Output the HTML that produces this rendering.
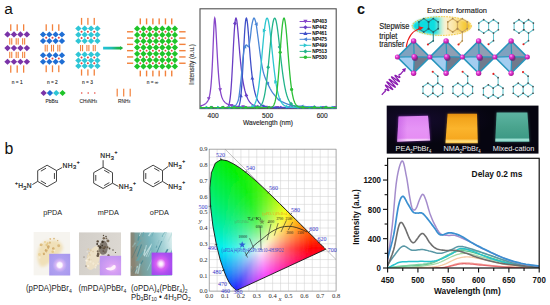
<!DOCTYPE html>
<html><head><meta charset="utf-8"><style>
html,body{margin:0;padding:0;background:#fff;}
body{width:550px;height:305px;overflow:hidden;position:relative;font-family:"Liberation Sans",sans-serif;}
svg{position:absolute;left:0;top:0;}
</style></head><body>
<svg width="550" height="305" viewBox="0 0 550 305">
<rect x="10.10" y="24.30" width="1.3" height="6.50" fill="#f3823c"/><rect x="16.55" y="24.30" width="1.3" height="6.50" fill="#f3823c"/><rect x="23.00" y="24.30" width="1.3" height="6.50" fill="#f3823c"/><path d="M4.30 34.40L7.53 31.34L10.75 34.40L7.53 37.46Z" fill="#7a33a8"/><path d="M10.75 34.40L13.98 31.34L17.20 34.40L13.98 37.46Z" fill="#7a33a8"/><path d="M17.20 34.40L20.43 31.34L23.65 34.40L20.43 37.46Z" fill="#7a33a8"/><path d="M23.65 34.40L26.88 31.34L30.10 34.40L26.88 37.46Z" fill="#7a33a8"/><path d="M4.30 48.10L7.53 45.04L10.75 48.10L7.53 51.16Z" fill="#7a33a8"/><path d="M10.75 48.10L13.98 45.04L17.20 48.10L13.98 51.16Z" fill="#7a33a8"/><path d="M17.20 48.10L20.43 45.04L23.65 48.10L20.43 51.16Z" fill="#7a33a8"/><path d="M23.65 48.10L26.88 45.04L30.10 48.10L26.88 51.16Z" fill="#7a33a8"/><path d="M4.30 61.70L7.53 58.64L10.75 61.70L7.53 64.76Z" fill="#7a33a8"/><path d="M10.75 61.70L13.98 58.64L17.20 61.70L13.98 64.76Z" fill="#7a33a8"/><path d="M17.20 61.70L20.43 58.64L23.65 61.70L20.43 64.76Z" fill="#7a33a8"/><path d="M23.65 61.70L26.88 58.64L30.10 61.70L26.88 64.76Z" fill="#7a33a8"/><rect x="9.20" y="38.20" width="1.1" height="6.40" fill="#f3823c"/><rect x="11.20" y="38.20" width="1.1" height="6.40" fill="#f3823c"/><rect x="15.65" y="38.20" width="1.1" height="6.40" fill="#f3823c"/><rect x="17.65" y="38.20" width="1.1" height="6.40" fill="#f3823c"/><rect x="22.10" y="38.20" width="1.1" height="6.40" fill="#f3823c"/><rect x="24.10" y="38.20" width="1.1" height="6.40" fill="#f3823c"/><rect x="9.20" y="51.80" width="1.1" height="6.20" fill="#f3823c"/><rect x="11.20" y="51.80" width="1.1" height="6.20" fill="#f3823c"/><rect x="15.65" y="51.80" width="1.1" height="6.20" fill="#f3823c"/><rect x="17.65" y="51.80" width="1.1" height="6.20" fill="#f3823c"/><rect x="22.10" y="51.80" width="1.1" height="6.20" fill="#f3823c"/><rect x="24.10" y="51.80" width="1.1" height="6.20" fill="#f3823c"/><rect x="10.10" y="65.40" width="1.3" height="7.30" fill="#f3823c"/><rect x="16.55" y="65.40" width="1.3" height="7.30" fill="#f3823c"/><rect x="23.00" y="65.40" width="1.3" height="7.30" fill="#f3823c"/><rect x="45.55" y="24.30" width="1.3" height="6.50" fill="#f3823c"/><rect x="51.85" y="24.30" width="1.3" height="6.50" fill="#f3823c"/><rect x="58.15" y="24.30" width="1.3" height="6.50" fill="#f3823c"/><path d="M39.90 34.60L43.05 31.61L46.20 34.60L43.05 37.59Z" fill="#1f6ed4"/><path d="M46.20 34.60L49.35 31.61L52.50 34.60L49.35 37.59Z" fill="#1f6ed4"/><path d="M52.50 34.60L55.65 31.61L58.80 34.60L55.65 37.59Z" fill="#1f6ed4"/><path d="M58.80 34.60L61.95 31.61L65.10 34.60L61.95 37.59Z" fill="#1f6ed4"/><path d="M39.90 41.00L43.05 38.01L46.20 41.00L43.05 43.99Z" fill="#1f6ed4"/><path d="M46.20 41.00L49.35 38.01L52.50 41.00L49.35 43.99Z" fill="#1f6ed4"/><path d="M52.50 41.00L55.65 38.01L58.80 41.00L55.65 43.99Z" fill="#1f6ed4"/><path d="M58.80 41.00L61.95 38.01L65.10 41.00L61.95 43.99Z" fill="#1f6ed4"/><circle cx="46.20" cy="37.80" r="1.0" fill="#e8453c"/><circle cx="52.50" cy="37.80" r="1.0" fill="#e8453c"/><circle cx="58.80" cy="37.80" r="1.0" fill="#e8453c"/><rect x="44.65" y="44.80" width="1.1" height="6.70" fill="#f3823c"/><rect x="46.65" y="44.80" width="1.1" height="6.70" fill="#f3823c"/><rect x="50.95" y="44.80" width="1.1" height="6.70" fill="#f3823c"/><rect x="52.95" y="44.80" width="1.1" height="6.70" fill="#f3823c"/><rect x="57.25" y="44.80" width="1.1" height="6.70" fill="#f3823c"/><rect x="59.25" y="44.80" width="1.1" height="6.70" fill="#f3823c"/><path d="M39.90 55.30L43.05 52.31L46.20 55.30L43.05 58.29Z" fill="#1f6ed4"/><path d="M46.20 55.30L49.35 52.31L52.50 55.30L49.35 58.29Z" fill="#1f6ed4"/><path d="M52.50 55.30L55.65 52.31L58.80 55.30L55.65 58.29Z" fill="#1f6ed4"/><path d="M58.80 55.30L61.95 52.31L65.10 55.30L61.95 58.29Z" fill="#1f6ed4"/><path d="M39.90 61.70L43.05 58.71L46.20 61.70L43.05 64.69Z" fill="#1f6ed4"/><path d="M46.20 61.70L49.35 58.71L52.50 61.70L49.35 64.69Z" fill="#1f6ed4"/><path d="M52.50 61.70L55.65 58.71L58.80 61.70L55.65 64.69Z" fill="#1f6ed4"/><path d="M58.80 61.70L61.95 58.71L65.10 61.70L61.95 64.69Z" fill="#1f6ed4"/><circle cx="46.20" cy="58.50" r="1.0" fill="#e8453c"/><circle cx="52.50" cy="58.50" r="1.0" fill="#e8453c"/><circle cx="58.80" cy="58.50" r="1.0" fill="#e8453c"/><rect x="45.55" y="65.40" width="1.3" height="6.80" fill="#f3823c"/><rect x="51.85" y="65.40" width="1.3" height="6.80" fill="#f3823c"/><rect x="58.15" y="65.40" width="1.3" height="6.80" fill="#f3823c"/><rect x="80.90" y="17.90" width="1.3" height="6.90" fill="#f3823c"/><rect x="87.25" y="17.90" width="1.3" height="6.90" fill="#f3823c"/><rect x="93.60" y="17.90" width="1.3" height="6.90" fill="#f3823c"/><path d="M75.20 28.60L78.38 25.58L81.55 28.60L78.38 31.62Z" fill="#2fc6d6"/><path d="M81.55 28.60L84.72 25.58L87.90 28.60L84.72 31.62Z" fill="#2fc6d6"/><path d="M87.90 28.60L91.08 25.58L94.25 28.60L91.08 31.62Z" fill="#2fc6d6"/><path d="M94.25 28.60L97.42 25.58L100.60 28.60L97.42 31.62Z" fill="#2fc6d6"/><path d="M75.20 34.80L78.38 31.78L81.55 34.80L78.38 37.82Z" fill="#2fc6d6"/><path d="M81.55 34.80L84.72 31.78L87.90 34.80L84.72 37.82Z" fill="#2fc6d6"/><path d="M87.90 34.80L91.08 31.78L94.25 34.80L91.08 37.82Z" fill="#2fc6d6"/><path d="M94.25 34.80L97.42 31.78L100.60 34.80L97.42 37.82Z" fill="#2fc6d6"/><path d="M75.20 41.10L78.38 38.08L81.55 41.10L78.38 44.12Z" fill="#2fc6d6"/><path d="M81.55 41.10L84.72 38.08L87.90 41.10L84.72 44.12Z" fill="#2fc6d6"/><path d="M87.90 41.10L91.08 38.08L94.25 41.10L91.08 44.12Z" fill="#2fc6d6"/><path d="M94.25 41.10L97.42 38.08L100.60 41.10L97.42 44.12Z" fill="#2fc6d6"/><circle cx="81.55" cy="31.70" r="1.0" fill="#e8453c"/><circle cx="87.90" cy="31.70" r="1.0" fill="#e8453c"/><circle cx="94.25" cy="31.70" r="1.0" fill="#e8453c"/><circle cx="81.55" cy="37.95" r="1.0" fill="#e8453c"/><circle cx="87.90" cy="37.95" r="1.0" fill="#e8453c"/><circle cx="94.25" cy="37.95" r="1.0" fill="#e8453c"/><rect x="80.00" y="45.00" width="1.1" height="6.20" fill="#f3823c"/><rect x="82.00" y="45.00" width="1.1" height="6.20" fill="#f3823c"/><rect x="86.35" y="45.00" width="1.1" height="6.20" fill="#f3823c"/><rect x="88.35" y="45.00" width="1.1" height="6.20" fill="#f3823c"/><rect x="92.70" y="45.00" width="1.1" height="6.20" fill="#f3823c"/><rect x="94.70" y="45.00" width="1.1" height="6.20" fill="#f3823c"/><path d="M75.20 54.60L78.38 51.58L81.55 54.60L78.38 57.62Z" fill="#2fc6d6"/><path d="M81.55 54.60L84.72 51.58L87.90 54.60L84.72 57.62Z" fill="#2fc6d6"/><path d="M87.90 54.60L91.08 51.58L94.25 54.60L91.08 57.62Z" fill="#2fc6d6"/><path d="M94.25 54.60L97.42 51.58L100.60 54.60L97.42 57.62Z" fill="#2fc6d6"/><path d="M75.20 60.40L78.38 57.38L81.55 60.40L78.38 63.42Z" fill="#2fc6d6"/><path d="M81.55 60.40L84.72 57.38L87.90 60.40L84.72 63.42Z" fill="#2fc6d6"/><path d="M87.90 60.40L91.08 57.38L94.25 60.40L91.08 63.42Z" fill="#2fc6d6"/><path d="M94.25 60.40L97.42 57.38L100.60 60.40L97.42 63.42Z" fill="#2fc6d6"/><path d="M75.20 66.00L78.38 62.98L81.55 66.00L78.38 69.02Z" fill="#2fc6d6"/><path d="M81.55 66.00L84.72 62.98L87.90 66.00L84.72 69.02Z" fill="#2fc6d6"/><path d="M87.90 66.00L91.08 62.98L94.25 66.00L91.08 69.02Z" fill="#2fc6d6"/><path d="M94.25 66.00L97.42 62.98L100.60 66.00L97.42 69.02Z" fill="#2fc6d6"/><circle cx="81.55" cy="57.50" r="1.0" fill="#e8453c"/><circle cx="87.90" cy="57.50" r="1.0" fill="#e8453c"/><circle cx="94.25" cy="57.50" r="1.0" fill="#e8453c"/><circle cx="81.55" cy="63.20" r="1.0" fill="#e8453c"/><circle cx="87.90" cy="63.20" r="1.0" fill="#e8453c"/><circle cx="94.25" cy="63.20" r="1.0" fill="#e8453c"/><rect x="80.90" y="69.40" width="1.3" height="6.20" fill="#f3823c"/><rect x="87.25" y="69.40" width="1.3" height="6.20" fill="#f3823c"/><rect x="93.60" y="69.40" width="1.3" height="6.20" fill="#f3823c"/><defs><linearGradient id="arrg" x1="0" x2="1" y1="0" y2="0"><stop offset="0" stop-color="#22c2d6"/><stop offset="0.4" stop-color="#20bcb8"/><stop offset="0.7" stop-color="#1cb65a"/><stop offset="1" stop-color="#19b030"/></linearGradient></defs><path d="M103.1 46.8H120.2V45.9L123.2 48.1L120.2 50.3V49.4H103.1Z" fill="url(#arrg)"/><path d="M134.00 28.64L137.15 25.50L140.29 28.64L137.15 31.79Z" fill="#1fc429"/><path d="M140.29 28.64L143.44 25.50L146.58 28.64L143.44 31.79Z" fill="#1fc429"/><path d="M146.58 28.64L149.73 25.50L152.87 28.64L149.73 31.79Z" fill="#1fc429"/><path d="M152.87 28.64L156.02 25.50L159.16 28.64L156.02 31.79Z" fill="#1fc429"/><path d="M159.16 28.64L162.31 25.50L165.45 28.64L162.31 31.79Z" fill="#1fc429"/><path d="M165.45 28.64L168.59 25.50L171.74 28.64L168.59 31.79Z" fill="#1fc429"/><path d="M171.74 28.64L174.89 25.50L178.03 28.64L174.89 31.79Z" fill="#1fc429"/><path d="M134.00 34.94L137.15 31.79L140.29 34.94L137.15 38.08Z" fill="#1fc429"/><path d="M140.29 34.94L143.44 31.79L146.58 34.94L143.44 38.08Z" fill="#1fc429"/><path d="M146.58 34.94L149.73 31.79L152.87 34.94L149.73 38.08Z" fill="#1fc429"/><path d="M152.87 34.94L156.02 31.79L159.16 34.94L156.02 38.08Z" fill="#1fc429"/><path d="M159.16 34.94L162.31 31.79L165.45 34.94L162.31 38.08Z" fill="#1fc429"/><path d="M165.45 34.94L168.59 31.79L171.74 34.94L168.59 38.08Z" fill="#1fc429"/><path d="M171.74 34.94L174.89 31.79L178.03 34.94L174.89 38.08Z" fill="#1fc429"/><path d="M134.00 41.23L137.15 38.08L140.29 41.23L137.15 44.37Z" fill="#1fc429"/><path d="M140.29 41.23L143.44 38.08L146.58 41.23L143.44 44.37Z" fill="#1fc429"/><path d="M146.58 41.23L149.73 38.08L152.87 41.23L149.73 44.37Z" fill="#1fc429"/><path d="M152.87 41.23L156.02 38.08L159.16 41.23L156.02 44.37Z" fill="#1fc429"/><path d="M159.16 41.23L162.31 38.08L165.45 41.23L162.31 44.37Z" fill="#1fc429"/><path d="M165.45 41.23L168.59 38.08L171.74 41.23L168.59 44.37Z" fill="#1fc429"/><path d="M171.74 41.23L174.89 38.08L178.03 41.23L174.89 44.37Z" fill="#1fc429"/><path d="M134.00 47.52L137.15 44.37L140.29 47.52L137.15 50.66Z" fill="#1fc429"/><path d="M140.29 47.52L143.44 44.37L146.58 47.52L143.44 50.66Z" fill="#1fc429"/><path d="M146.58 47.52L149.73 44.37L152.87 47.52L149.73 50.66Z" fill="#1fc429"/><path d="M152.87 47.52L156.02 44.37L159.16 47.52L156.02 50.66Z" fill="#1fc429"/><path d="M159.16 47.52L162.31 44.37L165.45 47.52L162.31 50.66Z" fill="#1fc429"/><path d="M165.45 47.52L168.59 44.37L171.74 47.52L168.59 50.66Z" fill="#1fc429"/><path d="M171.74 47.52L174.89 44.37L178.03 47.52L174.89 50.66Z" fill="#1fc429"/><path d="M134.00 53.80L137.15 50.66L140.29 53.80L137.15 56.95Z" fill="#1fc429"/><path d="M140.29 53.80L143.44 50.66L146.58 53.80L143.44 56.95Z" fill="#1fc429"/><path d="M146.58 53.80L149.73 50.66L152.87 53.80L149.73 56.95Z" fill="#1fc429"/><path d="M152.87 53.80L156.02 50.66L159.16 53.80L156.02 56.95Z" fill="#1fc429"/><path d="M159.16 53.80L162.31 50.66L165.45 53.80L162.31 56.95Z" fill="#1fc429"/><path d="M165.45 53.80L168.59 50.66L171.74 53.80L168.59 56.95Z" fill="#1fc429"/><path d="M171.74 53.80L174.89 50.66L178.03 53.80L174.89 56.95Z" fill="#1fc429"/><path d="M134.00 60.09L137.15 56.95L140.29 60.09L137.15 63.24Z" fill="#1fc429"/><path d="M140.29 60.09L143.44 56.95L146.58 60.09L143.44 63.24Z" fill="#1fc429"/><path d="M146.58 60.09L149.73 56.95L152.87 60.09L149.73 63.24Z" fill="#1fc429"/><path d="M152.87 60.09L156.02 56.95L159.16 60.09L156.02 63.24Z" fill="#1fc429"/><path d="M159.16 60.09L162.31 56.95L165.45 60.09L162.31 63.24Z" fill="#1fc429"/><path d="M165.45 60.09L168.59 56.95L171.74 60.09L168.59 63.24Z" fill="#1fc429"/><path d="M171.74 60.09L174.89 56.95L178.03 60.09L174.89 63.24Z" fill="#1fc429"/><path d="M134.00 66.39L137.15 63.24L140.29 66.39L137.15 69.53Z" fill="#1fc429"/><path d="M140.29 66.39L143.44 63.24L146.58 66.39L143.44 69.53Z" fill="#1fc429"/><path d="M146.58 66.39L149.73 63.24L152.87 66.39L149.73 69.53Z" fill="#1fc429"/><path d="M152.87 66.39L156.02 63.24L159.16 66.39L156.02 69.53Z" fill="#1fc429"/><path d="M159.16 66.39L162.31 63.24L165.45 66.39L162.31 69.53Z" fill="#1fc429"/><path d="M165.45 66.39L168.59 63.24L171.74 66.39L168.59 69.53Z" fill="#1fc429"/><path d="M171.74 66.39L174.89 63.24L178.03 66.39L174.89 69.53Z" fill="#1fc429"/><circle cx="140.29" cy="31.79" r="0.95" fill="#e8453c"/><circle cx="146.58" cy="31.79" r="0.95" fill="#e8453c"/><circle cx="152.87" cy="31.79" r="0.95" fill="#e8453c"/><circle cx="159.16" cy="31.79" r="0.95" fill="#e8453c"/><circle cx="165.45" cy="31.79" r="0.95" fill="#e8453c"/><circle cx="171.74" cy="31.79" r="0.95" fill="#e8453c"/><circle cx="140.29" cy="38.08" r="0.95" fill="#e8453c"/><circle cx="146.58" cy="38.08" r="0.95" fill="#e8453c"/><circle cx="152.87" cy="38.08" r="0.95" fill="#e8453c"/><circle cx="159.16" cy="38.08" r="0.95" fill="#e8453c"/><circle cx="165.45" cy="38.08" r="0.95" fill="#e8453c"/><circle cx="171.74" cy="38.08" r="0.95" fill="#e8453c"/><circle cx="140.29" cy="44.37" r="0.95" fill="#e8453c"/><circle cx="146.58" cy="44.37" r="0.95" fill="#e8453c"/><circle cx="152.87" cy="44.37" r="0.95" fill="#e8453c"/><circle cx="159.16" cy="44.37" r="0.95" fill="#e8453c"/><circle cx="165.45" cy="44.37" r="0.95" fill="#e8453c"/><circle cx="171.74" cy="44.37" r="0.95" fill="#e8453c"/><circle cx="140.29" cy="50.66" r="0.95" fill="#e8453c"/><circle cx="146.58" cy="50.66" r="0.95" fill="#e8453c"/><circle cx="152.87" cy="50.66" r="0.95" fill="#e8453c"/><circle cx="159.16" cy="50.66" r="0.95" fill="#e8453c"/><circle cx="165.45" cy="50.66" r="0.95" fill="#e8453c"/><circle cx="171.74" cy="50.66" r="0.95" fill="#e8453c"/><circle cx="140.29" cy="56.95" r="0.95" fill="#e8453c"/><circle cx="146.58" cy="56.95" r="0.95" fill="#e8453c"/><circle cx="152.87" cy="56.95" r="0.95" fill="#e8453c"/><circle cx="159.16" cy="56.95" r="0.95" fill="#e8453c"/><circle cx="165.45" cy="56.95" r="0.95" fill="#e8453c"/><circle cx="171.74" cy="56.95" r="0.95" fill="#e8453c"/><circle cx="140.29" cy="63.24" r="0.95" fill="#e8453c"/><circle cx="146.58" cy="63.24" r="0.95" fill="#e8453c"/><circle cx="152.87" cy="63.24" r="0.95" fill="#e8453c"/><circle cx="159.16" cy="63.24" r="0.95" fill="#e8453c"/><circle cx="165.45" cy="63.24" r="0.95" fill="#e8453c"/><circle cx="171.74" cy="63.24" r="0.95" fill="#e8453c"/><rect x="139.59" y="18.40" width="1.4" height="6.00" fill="#f3823c"/><rect x="139.59" y="70.60" width="1.4" height="5.80" fill="#f3823c"/><rect x="127.00" y="31.09" width="6.20" height="1.4" fill="#f3823c"/><rect x="179.20" y="31.09" width="6.40" height="1.4" fill="#f3823c"/><rect x="145.88" y="18.40" width="1.4" height="6.00" fill="#f3823c"/><rect x="145.88" y="70.60" width="1.4" height="5.80" fill="#f3823c"/><rect x="127.00" y="37.38" width="6.20" height="1.4" fill="#f3823c"/><rect x="179.20" y="37.38" width="6.40" height="1.4" fill="#f3823c"/><rect x="152.17" y="18.40" width="1.4" height="6.00" fill="#f3823c"/><rect x="152.17" y="70.60" width="1.4" height="5.80" fill="#f3823c"/><rect x="127.00" y="43.67" width="6.20" height="1.4" fill="#f3823c"/><rect x="179.20" y="43.67" width="6.40" height="1.4" fill="#f3823c"/><rect x="158.46" y="18.40" width="1.4" height="6.00" fill="#f3823c"/><rect x="158.46" y="70.60" width="1.4" height="5.80" fill="#f3823c"/><rect x="127.00" y="49.96" width="6.20" height="1.4" fill="#f3823c"/><rect x="179.20" y="49.96" width="6.40" height="1.4" fill="#f3823c"/><rect x="164.75" y="18.40" width="1.4" height="6.00" fill="#f3823c"/><rect x="164.75" y="70.60" width="1.4" height="5.80" fill="#f3823c"/><rect x="127.00" y="56.25" width="6.20" height="1.4" fill="#f3823c"/><rect x="179.20" y="56.25" width="6.40" height="1.4" fill="#f3823c"/><rect x="171.04" y="18.40" width="1.4" height="6.00" fill="#f3823c"/><rect x="171.04" y="70.60" width="1.4" height="5.80" fill="#f3823c"/><rect x="127.00" y="62.54" width="6.20" height="1.4" fill="#f3823c"/><rect x="179.20" y="62.54" width="6.40" height="1.4" fill="#f3823c"/><text x="17.2" y="84.0" font-size="4.8" text-anchor="middle" fill="#222" stroke="#222" stroke-width="0.1" style="font-family:'Liberation Sans',sans-serif">n = 1</text><text x="52.3" y="84.0" font-size="4.8" text-anchor="middle" fill="#222" stroke="#222" stroke-width="0.1" style="font-family:'Liberation Sans',sans-serif">n = 2</text><text x="87.5" y="84.0" font-size="4.8" text-anchor="middle" fill="#222" stroke="#222" stroke-width="0.1" style="font-family:'Liberation Sans',sans-serif">n = 3</text><text x="152.5" y="84.0" font-size="4.8" text-anchor="middle" fill="#222" stroke="#222" stroke-width="0.1" style="font-family:'Liberation Sans',sans-serif">n = ∞</text><path d="M40.50 93.00L43.65 90.01L46.80 93.00L43.65 95.99Z" fill="#7a33a8"/><path d="M46.80 93.00L49.95 90.01L53.10 93.00L49.95 95.99Z" fill="#1f6ed4"/><path d="M53.10 93.00L56.25 90.01L59.40 93.00L56.25 95.99Z" fill="#2fc6d6"/><path d="M59.40 93.00L62.55 90.01L65.70 93.00L62.55 95.99Z" fill="#1fc429"/><circle cx="81.7" cy="93.0" r="0.8" fill="#e8453c"/><circle cx="88.2" cy="93.0" r="0.8" fill="#e8453c"/><circle cx="94.8" cy="93.0" r="0.8" fill="#e8453c"/><rect x="116.60" y="88.70" width="1.2" height="7.80" fill="#f3823c"/><rect x="123.10" y="88.70" width="1.2" height="7.80" fill="#f3823c"/><rect x="129.60" y="88.70" width="1.2" height="7.80" fill="#f3823c"/><text x="51.8" y="102.5" font-size="4.8" text-anchor="middle" fill="#222" stroke="#222" stroke-width="0.08" style="font-family:'Liberation Sans',sans-serif">PbBr<tspan font-size="3.2" dy="0.8">4</tspan></text><text x="88.3" y="102.5" font-size="4.8" text-anchor="middle" fill="#222" stroke="#222" stroke-width="0.08" style="font-family:'Liberation Sans',sans-serif">CH<tspan font-size="3.2" dy="0.8">3</tspan><tspan dy="-0.8">NH</tspan><tspan font-size="3.2" dy="0.8">3</tspan></text><text x="124.2" y="102.5" font-size="4.8" text-anchor="middle" fill="#222" stroke="#222" stroke-width="0.08" style="font-family:'Liberation Sans',sans-serif">RNH<tspan font-size="3.2" dy="0.8">3</tspan></text><text x="4.3" y="13.6" font-size="15.4" fill="#111" style="font-family:'Liberation Sans',sans-serif">a</text>
<rect x="200.0" y="8.8" width="136.2" height="99.8" fill="#fff" stroke="#505050" stroke-width="1.1"/><clipPath id="cpa"><rect x="200.0" y="8.8" width="136.2" height="99.8"/></clipPath><g clip-path="url(#cpa)"><path d="M196.74 106.50L197.02 106.47L197.29 106.44L197.56 106.40L197.83 106.36L198.11 106.32L198.38 106.28L198.65 106.24L198.92 106.19L199.20 106.14L199.47 106.09L199.74 106.03L200.02 105.98L200.29 105.92L200.56 105.85L200.83 105.79L201.11 105.71L201.38 105.64L201.65 105.56L201.92 105.47L202.20 105.38L202.47 105.29L202.74 105.19L203.01 105.08L203.29 104.96L203.56 104.83L203.83 104.70L204.10 104.56L204.38 104.40L204.65 104.23L204.92 104.06L205.19 103.86L205.47 103.65L205.74 103.42L206.01 103.17L206.28 102.90L206.56 102.61L206.83 102.28L207.10 101.92L207.38 101.53L207.65 101.08L207.92 100.59L208.19 100.03L208.47 99.39L208.74 98.67L209.01 97.83L209.28 96.85L209.56 95.71L209.83 94.36L210.10 92.78L210.37 90.91L210.65 88.70L210.92 86.11L211.19 83.08L211.46 79.55L211.74 75.50L212.01 70.87L212.28 65.67L212.55 59.90L212.83 53.62L213.10 46.96L213.37 40.13L213.65 33.45L213.92 27.39L214.19 22.46L214.46 19.23L214.74 18.10L215.01 18.78L215.28 20.75L215.55 23.87L215.83 27.90L216.10 32.58L216.37 37.66L216.64 42.92L216.92 48.19L217.19 53.32L217.46 58.23L217.73 62.85L218.01 67.14L218.28 71.09L218.55 74.70L218.82 77.96L219.10 80.89L219.37 83.52L219.64 85.85L219.91 87.92L220.19 89.75L220.46 91.36L220.73 92.78L221.01 94.02L221.28 95.12L221.55 96.09L221.82 96.94L222.10 97.70L222.37 98.37L222.64 98.98L222.91 99.52L223.19 100.00L223.46 100.44L223.73 100.84L224.00 101.21L224.28 101.55L224.55 101.85L224.82 102.14L225.09 102.40L225.37 102.65L225.64 102.88L225.91 103.09L226.18 103.29L226.46 103.48L226.73 103.65L227.00 103.82L227.28 103.97L227.55 104.11L227.82 104.25L228.09 104.38L228.37 104.50L228.64 104.62L228.91 104.72L229.18 104.83L229.46 104.93L229.73 105.02L230.00 105.11L230.27 105.19L230.55 105.27L230.82 105.35L231.09 105.42L231.36 105.49L231.64 105.55L231.91 105.61L232.18 105.67L232.45 105.73L232.73 105.79L233.00 105.84L233.27 105.89L233.54 105.94L233.82 105.98L234.09 106.03L234.36 106.07L234.64 106.11L234.91 106.15L235.18 106.19L235.45 106.22L235.73 106.26L236.00 106.29L236.27 106.32L236.54 106.35L236.82 106.38L237.09 106.41L237.36 106.44L237.63 106.47L237.91 106.49L238.18 106.52L238.45 106.54L238.72 106.57L239.00 106.59L239.27 106.61L239.54 106.63L239.81 106.65L240.09 106.67L240.36 106.69L240.63 106.71L240.91 106.73L241.18 106.75L241.45 106.76L241.72 106.78L242.00 106.80L242.27 106.81L242.54 106.83L242.81 106.84L243.09 106.86L243.36 106.87L243.63 106.88L243.90 106.90L244.18 106.91L244.45 106.92L244.72 106.94L244.99 106.95L245.27 106.96L245.54 106.97L245.81 106.98L246.08 106.99L246.36 107.00L246.63 107.01L246.90 107.02L247.18 107.03L247.45 107.04L247.72 107.05L247.99 107.06L248.27 107.07L248.54 107.08L248.81 107.08L249.08 107.09L249.36 107.10L249.63 107.11L249.90 107.12L250.17 107.12L250.45 107.13L250.72 107.14L250.99 107.14L251.26 107.15L251.54 107.16L251.81 107.16L252.08 107.17L252.35 107.18L252.63 107.18L252.90 107.19L253.17 107.19L253.44 107.20L253.72 107.21L253.99 107.21L254.26 107.22L254.54 107.22L254.81 107.23L255.08 107.23L255.35 107.24L255.63 107.24L255.90 107.25L256.17 107.25L256.44 107.25L256.72 107.26L256.99 107.26L257.26 107.27L257.53 107.27L257.81 107.28L258.08 107.28L258.35 107.28L258.62 107.29L258.90 107.29L259.17 107.30L259.44 107.30L259.71 107.30L259.99 107.31L260.26 107.31L260.53 107.31L260.81 107.32L261.08 107.32L261.35 107.32L261.62 107.33L261.90 107.33L262.17 107.33L262.44 107.34L262.71 107.34L262.99 107.34L263.26 107.34L263.53 107.35L263.80 107.35L264.08 107.35L264.35 107.36L264.62 107.36L264.89 107.36L265.17 107.36L265.44 107.37L265.71 107.37L265.98 107.37L266.26 107.37L266.53 107.38L266.80 107.38L267.07 107.38L267.35 107.38L267.62 107.38L267.89 107.39L268.17 107.39L268.44 107.39L268.71 107.39L268.98 107.40L269.26 107.40L269.53 107.40L269.80 107.40L270.07 107.40L270.35 107.41L270.62 107.41L270.89 107.41L271.16 107.41L271.44 107.41L271.71 107.41L271.98 107.42L272.25 107.42L272.53 107.42L272.80 107.42L273.07 107.42L273.34 107.42L273.62 107.43L273.89 107.43L274.16 107.43L274.44 107.43L274.71 107.43L274.98 107.43L275.25 107.44L275.53 107.44L275.80 107.44L276.07 107.44L276.34 107.44L276.62 107.44L276.89 107.44L277.16 107.45L277.43 107.45L277.71 107.45L277.98 107.45L278.25 107.45L278.52 107.45L278.80 107.45L279.07 107.45L279.34 107.46L279.61 107.46L279.89 107.46L280.16 107.46L280.43 107.46L280.70 107.46L280.98 107.46L281.25 107.46L281.52 107.46L281.80 107.47L282.07 107.47L282.34 107.47L282.61 107.47L282.89 107.47L283.16 107.47L283.43 107.47L283.70 107.47L283.98 107.47L284.25 107.48L284.52 107.48L284.79 107.48L285.07 107.48L285.34 107.48L285.61 107.48L285.88 107.48L286.16 107.48L286.43 107.48L286.70 107.48L286.97 107.48L287.25 107.49L287.52 107.49L287.79 107.49L288.06 107.49L288.34 107.49L288.61 107.49L288.88 107.49L289.16 107.49L289.43 107.49L289.70 107.49L289.97 107.49L290.25 107.49L290.52 107.50L290.79 107.50L291.06 107.50L291.34 107.50L291.61 107.50L291.88 107.50L292.15 107.50L292.43 107.50L292.70 107.50L292.97 107.50L293.24 107.50L293.52 107.50L293.79 107.50L294.06 107.50L294.33 107.50L294.61 107.51L294.88 107.51L295.15 107.51L295.43 107.51L295.70 107.51L295.97 107.51L296.24 107.51L296.52 107.51L296.79 107.51L297.06 107.51L297.33 107.51L297.61 107.51L297.88 107.51L298.15 107.51L298.42 107.51L298.70 107.51L298.97 107.52L299.24 107.52L299.51 107.52L299.79 107.52L300.06 107.52L300.33 107.52L300.60 107.52L300.88 107.52L301.15 107.52L301.42 107.52L301.69 107.52L301.97 107.52L302.24 107.52L302.51 107.52L302.79 107.52L303.06 107.52L303.33 107.52L303.60 107.52L303.88 107.52L304.15 107.52L304.42 107.53L304.69 107.53L304.97 107.53L305.24 107.53L305.51 107.53L305.78 107.53L306.06 107.53L306.33 107.53L306.60 107.53L306.87 107.53L307.15 107.53L307.42 107.53L307.69 107.53L307.96 107.53L308.24 107.53L308.51 107.53L308.78 107.53L309.06 107.53L309.33 107.53L309.60 107.53L309.87 107.53L310.15 107.53L310.42 107.53L310.69 107.53L310.96 107.53L311.24 107.54L311.51 107.54L311.78 107.54L312.05 107.54L312.33 107.54L312.60 107.54L312.87 107.54L313.14 107.54L313.42 107.54L313.69 107.54L313.96 107.54L314.23 107.54L314.51 107.54L314.78 107.54L315.05 107.54L315.32 107.54L315.60 107.54L315.87 107.54L316.14 107.54L316.42 107.54L316.69 107.54L316.96 107.54L317.23 107.54L317.51 107.54L317.78 107.54L318.05 107.54L318.32 107.54L318.60 107.54L318.87 107.54L319.14 107.54L319.41 107.54L319.69 107.55L319.96 107.55L320.23 107.55L320.50 107.55L320.78 107.55L321.05 107.55L321.32 107.55L321.59 107.55L321.87 107.55L322.14 107.55L322.41 107.55L322.69 107.55L322.96 107.55L323.23 107.55L323.50 107.55L323.78 107.55L324.05 107.55L324.32 107.55L324.59 107.55L324.87 107.55L325.14 107.55L325.41 107.55L325.68 107.55L325.96 107.55L326.23 107.55L326.50 107.55L326.77 107.55L327.05 107.55L327.32 107.55L327.59 107.55L327.86 107.55L328.14 107.55L328.41 107.55L328.68 107.55L328.95 107.55L329.23 107.55L329.50 107.55L329.77 107.55L330.05 107.55L330.32 107.55L330.59 107.56L330.86 107.56L331.14 107.56L331.41 107.56L331.68 107.56L331.95 107.56L332.23 107.56L332.50 107.56L332.77 107.56L333.04 107.56L333.32 107.56L333.59 107.56L333.86 107.56L334.13 107.56L334.41 107.56L334.68 107.56L334.95 107.56L335.22 107.56L335.50 107.56L335.77 107.56L336.04 107.56L336.32 107.56L336.59 107.56L336.86 107.56L337.13 107.56L337.41 107.56L337.68 107.56L337.95 107.56L338.22 107.56L338.50 107.56L338.77 107.56L339.04 107.56L339.31 107.56L339.59 107.56L339.86 107.56L340.13 107.56L340.40 107.56L340.68 107.56L340.95 107.56L341.22 107.56" fill="none" stroke="#8747c9" stroke-width="1.3"/><path d="M206.84 97.15H210.64L208.74 100.57Z" fill="#8747c9"/><path d="M218.29 88.23H222.09L220.19 91.65Z" fill="#8747c9"/><path d="M229.74 104.03H233.54L231.64 107.45Z" fill="#8747c9"/><path d="M241.19 105.34H244.99L243.09 108.76Z" fill="#8747c9"/><path d="M252.64 105.70H256.44L254.54 109.12Z" fill="#8747c9"/><path d="M264.08 105.85H267.88L265.98 109.27Z" fill="#8747c9"/><path d="M275.53 105.93H279.33L277.43 109.35Z" fill="#8747c9"/><path d="M286.98 105.97H290.78L288.88 109.39Z" fill="#8747c9"/><path d="M298.43 106.00H302.23L300.33 109.42Z" fill="#8747c9"/><path d="M309.88 106.02H313.68L311.78 109.44Z" fill="#8747c9"/><path d="M321.33 106.03H325.13L323.23 109.45Z" fill="#8747c9"/><path d="M332.78 106.04H336.58L334.68 109.46Z" fill="#8747c9"/><path d="M196.74 107.60L197.02 107.60L197.29 107.60L197.56 107.60L197.83 107.60L198.11 107.60L198.38 107.60L198.65 107.60L198.92 107.60L199.20 107.60L199.47 107.60L199.74 107.60L200.02 107.60L200.29 107.60L200.56 107.60L200.83 107.60L201.11 107.60L201.38 107.60L201.65 107.60L201.92 107.60L202.20 107.60L202.47 107.60L202.74 107.60L203.01 107.60L203.29 107.60L203.56 107.60L203.83 107.60L204.10 107.60L204.38 107.60L204.65 107.60L204.92 107.60L205.19 107.60L205.47 107.60L205.74 107.60L206.01 107.60L206.28 107.60L206.56 107.60L206.83 107.60L207.10 107.60L207.38 107.60L207.65 107.60L207.92 107.60L208.19 107.60L208.47 107.60L208.74 107.60L209.01 107.60L209.28 107.60L209.56 107.60L209.83 107.60L210.10 107.60L210.37 107.60L210.65 107.60L210.92 107.60L211.19 107.60L211.46 107.60L211.74 107.60L212.01 107.60L212.28 107.60L212.55 107.60L212.83 107.60L213.10 107.60L213.37 107.60L213.65 107.60L213.92 107.60L214.19 107.60L214.46 107.60L214.74 107.60L215.01 107.60L215.28 107.60L215.55 107.60L215.83 107.60L216.10 107.60L216.37 107.60L216.64 107.60L216.92 107.60L217.19 107.60L217.46 107.60L217.73 107.60L218.01 107.60L218.28 107.60L218.55 107.60L218.82 107.60L219.10 107.60L219.37 107.60L219.64 107.60L219.91 107.60L220.19 107.60L220.46 107.60L220.73 107.60L221.01 107.60L221.28 107.60L221.55 107.60L221.82 107.60L222.10 107.60L222.37 107.60L222.64 107.60L222.91 107.60L223.19 107.60L223.46 107.60L223.73 107.60L224.00 107.60L224.28 107.60L224.55 107.59L224.82 107.59L225.09 107.59L225.37 107.58L225.64 107.56L225.91 107.54L226.18 107.51L226.46 107.47L226.73 107.41L227.00 107.31L227.28 107.19L227.55 107.01L227.82 106.76L228.09 106.43L228.37 105.99L228.64 105.42L228.91 104.67L229.18 103.73L229.46 102.54L229.73 101.08L230.00 99.30L230.27 97.16L230.55 94.64L230.82 91.70L231.09 88.35L231.36 84.57L231.64 80.37L231.91 75.80L232.18 70.90L232.45 65.73L232.73 60.37L233.00 54.93L233.27 49.51L233.54 44.22L233.82 39.17L234.09 34.48L234.36 30.25L234.64 26.57L234.91 23.50L235.18 21.10L235.45 19.40L235.73 18.41L236.00 18.10L236.27 18.45L236.54 19.42L236.82 20.93L237.09 22.92L237.36 25.32L237.63 28.04L237.91 31.02L238.18 34.18L238.45 37.45L238.72 40.78L239.00 44.12L239.27 47.43L239.54 50.67L239.81 53.82L240.09 56.87L240.36 59.78L240.63 62.57L240.91 65.22L241.18 67.74L241.45 70.12L241.72 72.36L242.00 74.48L242.27 76.48L242.54 78.36L242.81 80.12L243.09 81.79L243.36 83.35L243.63 84.82L243.90 86.20L244.18 87.49L244.45 88.71L244.72 89.86L244.99 90.93L245.27 91.94L245.54 92.89L245.81 93.78L246.08 94.62L246.36 95.40L246.63 96.14L246.90 96.84L247.18 97.49L247.45 98.10L247.72 98.68L247.99 99.22L248.27 99.73L248.54 100.20L248.81 100.65L249.08 101.07L249.36 101.47L249.63 101.84L249.90 102.19L250.17 102.52L250.45 102.82L250.72 103.11L250.99 103.39L251.26 103.64L251.54 103.88L251.81 104.11L252.08 104.32L252.35 104.52L252.63 104.70L252.90 104.88L253.17 105.04L253.44 105.20L253.72 105.34L253.99 105.48L254.26 105.61L254.54 105.73L254.81 105.84L255.08 105.95L255.35 106.05L255.63 106.14L255.90 106.23L256.17 106.31L256.44 106.39L256.72 106.47L256.99 106.53L257.26 106.60L257.53 106.66L257.81 106.72L258.08 106.77L258.35 106.82L258.62 106.87L258.90 106.91L259.17 106.95L259.44 106.99L259.71 107.03L259.99 107.06L260.26 107.10L260.53 107.13L260.81 107.16L261.08 107.18L261.35 107.21L261.62 107.23L261.90 107.25L262.17 107.27L262.44 107.29L262.71 107.31L262.99 107.33L263.26 107.35L263.53 107.36L263.80 107.38L264.08 107.39L264.35 107.40L264.62 107.41L264.89 107.43L265.17 107.44L265.44 107.45L265.71 107.46L265.98 107.46L266.26 107.47L266.53 107.48L266.80 107.49L267.07 107.49L267.35 107.50L267.62 107.51L267.89 107.51L268.17 107.52L268.44 107.52L268.71 107.53L268.98 107.53L269.26 107.54L269.53 107.54L269.80 107.54L270.07 107.55L270.35 107.55L270.62 107.55L270.89 107.56L271.16 107.56L271.44 107.56L271.71 107.56L271.98 107.57L272.25 107.57L272.53 107.57L272.80 107.57L273.07 107.57L273.34 107.57L273.62 107.58L273.89 107.58L274.16 107.58L274.44 107.58L274.71 107.58L274.98 107.58L275.25 107.58L275.53 107.58L275.80 107.59L276.07 107.59L276.34 107.59L276.62 107.59L276.89 107.59L277.16 107.59L277.43 107.59L277.71 107.59L277.98 107.59L278.25 107.59L278.52 107.59L278.80 107.59L279.07 107.59L279.34 107.59L279.61 107.59L279.89 107.59L280.16 107.59L280.43 107.60L280.70 107.60L280.98 107.60L281.25 107.60L281.52 107.60L281.80 107.60L282.07 107.60L282.34 107.60L282.61 107.60L282.89 107.60L283.16 107.60L283.43 107.60L283.70 107.60L283.98 107.60L284.25 107.60L284.52 107.60L284.79 107.60L285.07 107.60L285.34 107.60L285.61 107.60L285.88 107.60L286.16 107.60L286.43 107.60L286.70 107.60L286.97 107.60L287.25 107.60L287.52 107.60L287.79 107.60L288.06 107.60L288.34 107.60L288.61 107.60L288.88 107.60L289.16 107.60L289.43 107.60L289.70 107.60L289.97 107.60L290.25 107.60L290.52 107.60L290.79 107.60L291.06 107.60L291.34 107.60L291.61 107.60L291.88 107.60L292.15 107.60L292.43 107.60L292.70 107.60L292.97 107.60L293.24 107.60L293.52 107.60L293.79 107.60L294.06 107.60L294.33 107.60L294.61 107.60L294.88 107.60L295.15 107.60L295.43 107.60L295.70 107.60L295.97 107.60L296.24 107.60L296.52 107.60L296.79 107.60L297.06 107.60L297.33 107.60L297.61 107.60L297.88 107.60L298.15 107.60L298.42 107.60L298.70 107.60L298.97 107.60L299.24 107.60L299.51 107.60L299.79 107.60L300.06 107.60L300.33 107.60L300.60 107.60L300.88 107.60L301.15 107.60L301.42 107.60L301.69 107.60L301.97 107.60L302.24 107.60L302.51 107.60L302.79 107.60L303.06 107.60L303.33 107.60L303.60 107.60L303.88 107.60L304.15 107.60L304.42 107.60L304.69 107.60L304.97 107.60L305.24 107.60L305.51 107.60L305.78 107.60L306.06 107.60L306.33 107.60L306.60 107.60L306.87 107.60L307.15 107.60L307.42 107.60L307.69 107.60L307.96 107.60L308.24 107.60L308.51 107.60L308.78 107.60L309.06 107.60L309.33 107.60L309.60 107.60L309.87 107.60L310.15 107.60L310.42 107.60L310.69 107.60L310.96 107.60L311.24 107.60L311.51 107.60L311.78 107.60L312.05 107.60L312.33 107.60L312.60 107.60L312.87 107.60L313.14 107.60L313.42 107.60L313.69 107.60L313.96 107.60L314.23 107.60L314.51 107.60L314.78 107.60L315.05 107.60L315.32 107.60L315.60 107.60L315.87 107.60L316.14 107.60L316.42 107.60L316.69 107.60L316.96 107.60L317.23 107.60L317.51 107.60L317.78 107.60L318.05 107.60L318.32 107.60L318.60 107.60L318.87 107.60L319.14 107.60L319.41 107.60L319.69 107.60L319.96 107.60L320.23 107.60L320.50 107.60L320.78 107.60L321.05 107.60L321.32 107.60L321.59 107.60L321.87 107.60L322.14 107.60L322.41 107.60L322.69 107.60L322.96 107.60L323.23 107.60L323.50 107.60L323.78 107.60L324.05 107.60L324.32 107.60L324.59 107.60L324.87 107.60L325.14 107.60L325.41 107.60L325.68 107.60L325.96 107.60L326.23 107.60L326.50 107.60L326.77 107.60L327.05 107.60L327.32 107.60L327.59 107.60L327.86 107.60L328.14 107.60L328.41 107.60L328.68 107.60L328.95 107.60L329.23 107.60L329.50 107.60L329.77 107.60L330.05 107.60L330.32 107.60L330.59 107.60L330.86 107.60L331.14 107.60L331.41 107.60L331.68 107.60L331.95 107.60L332.23 107.60L332.50 107.60L332.77 107.60L333.04 107.60L333.32 107.60L333.59 107.60L333.86 107.60L334.13 107.60L334.41 107.60L334.68 107.60L334.95 107.60L335.22 107.60L335.50 107.60L335.77 107.60L336.04 107.60L336.32 107.60L336.59 107.60L336.86 107.60L337.13 107.60L337.41 107.60L337.68 107.60L337.95 107.60L338.22 107.60L338.50 107.60L338.77 107.60L339.04 107.60L339.31 107.60L339.59 107.60L339.86 107.60L340.13 107.60L340.40 107.60L340.68 107.60L340.95 107.60L341.22 107.60" fill="none" stroke="#6a3ec4" stroke-width="1.3"/><path d="M198.66 107.60L200.56 105.70L202.46 107.60L200.56 109.50Z" fill="#6a3ec4"/><path d="M210.11 107.60L212.01 105.70L213.91 107.60L212.01 109.50Z" fill="#6a3ec4"/><path d="M221.56 107.60L223.46 105.70L225.36 107.60L223.46 109.50Z" fill="#6a3ec4"/><path d="M233.01 23.50L234.91 21.60L236.81 23.50L234.91 25.40Z" fill="#6a3ec4"/><path d="M244.46 95.40L246.36 93.50L248.26 95.40L246.36 97.30Z" fill="#6a3ec4"/><path d="M255.91 106.72L257.81 104.82L259.71 106.72L257.81 108.62Z" fill="#6a3ec4"/><path d="M267.36 107.54L269.26 105.64L271.16 107.54L269.26 109.44Z" fill="#6a3ec4"/><path d="M278.80 107.60L280.70 105.70L282.60 107.60L280.70 109.50Z" fill="#6a3ec4"/><path d="M290.25 107.60L292.15 105.70L294.05 107.60L292.15 109.50Z" fill="#6a3ec4"/><path d="M301.70 107.60L303.60 105.70L305.50 107.60L303.60 109.50Z" fill="#6a3ec4"/><path d="M313.15 107.60L315.05 105.70L316.95 107.60L315.05 109.50Z" fill="#6a3ec4"/><path d="M324.60 107.60L326.50 105.70L328.40 107.60L326.50 109.50Z" fill="#6a3ec4"/><path d="M336.05 107.60L337.95 105.70L339.85 107.60L337.95 109.50Z" fill="#6a3ec4"/><path d="M196.74 107.60L197.02 107.60L197.29 107.60L197.56 107.60L197.83 107.60L198.11 107.60L198.38 107.60L198.65 107.60L198.92 107.60L199.20 107.60L199.47 107.60L199.74 107.60L200.02 107.60L200.29 107.60L200.56 107.60L200.83 107.60L201.11 107.60L201.38 107.60L201.65 107.60L201.92 107.60L202.20 107.60L202.47 107.60L202.74 107.60L203.01 107.60L203.29 107.60L203.56 107.60L203.83 107.60L204.10 107.60L204.38 107.60L204.65 107.60L204.92 107.60L205.19 107.60L205.47 107.60L205.74 107.60L206.01 107.60L206.28 107.60L206.56 107.60L206.83 107.60L207.10 107.60L207.38 107.60L207.65 107.60L207.92 107.60L208.19 107.60L208.47 107.60L208.74 107.60L209.01 107.60L209.28 107.60L209.56 107.60L209.83 107.60L210.10 107.60L210.37 107.60L210.65 107.60L210.92 107.60L211.19 107.60L211.46 107.60L211.74 107.60L212.01 107.60L212.28 107.60L212.55 107.60L212.83 107.60L213.10 107.60L213.37 107.60L213.65 107.60L213.92 107.60L214.19 107.60L214.46 107.60L214.74 107.60L215.01 107.60L215.28 107.60L215.55 107.60L215.83 107.60L216.10 107.60L216.37 107.60L216.64 107.60L216.92 107.60L217.19 107.60L217.46 107.60L217.73 107.60L218.01 107.60L218.28 107.60L218.55 107.60L218.82 107.60L219.10 107.60L219.37 107.60L219.64 107.60L219.91 107.60L220.19 107.60L220.46 107.60L220.73 107.60L221.01 107.60L221.28 107.60L221.55 107.60L221.82 107.60L222.10 107.60L222.37 107.60L222.64 107.60L222.91 107.60L223.19 107.60L223.46 107.60L223.73 107.60L224.00 107.60L224.28 107.60L224.55 107.60L224.82 107.60L225.09 107.60L225.37 107.60L225.64 107.60L225.91 107.60L226.18 107.60L226.46 107.60L226.73 107.60L227.00 107.60L227.28 107.60L227.55 107.60L227.82 107.60L228.09 107.60L228.37 107.60L228.64 107.60L228.91 107.60L229.18 107.60L229.46 107.60L229.73 107.60L230.00 107.60L230.27 107.60L230.55 107.60L230.82 107.60L231.09 107.60L231.36 107.60L231.64 107.60L231.91 107.60L232.18 107.60L232.45 107.60L232.73 107.60L233.00 107.60L233.27 107.60L233.54 107.60L233.82 107.60L234.09 107.60L234.36 107.60L234.64 107.60L234.91 107.60L235.18 107.59L235.45 107.59L235.73 107.58L236.00 107.57L236.27 107.55L236.54 107.53L236.82 107.49L237.09 107.44L237.36 107.36L237.63 107.25L237.91 107.10L238.18 106.88L238.45 106.59L238.72 106.20L239.00 105.69L239.27 105.02L239.54 104.16L239.81 103.07L240.09 101.72L240.36 100.07L240.63 98.06L240.91 95.68L241.18 92.89L241.45 89.67L241.72 86.02L242.00 81.94L242.27 77.45L242.54 72.61L242.81 67.46L243.09 62.09L243.36 56.60L243.63 51.08L243.90 45.66L244.18 40.46L244.45 35.58L244.72 31.15L244.99 27.27L245.27 24.01L245.54 21.43L245.81 19.58L246.08 18.47L246.36 18.10L246.63 18.44L246.90 19.43L247.18 21.03L247.45 23.15L247.72 25.71L247.99 28.64L248.27 31.85L248.54 35.26L248.81 38.80L249.08 42.40L249.36 46.01L249.63 49.58L249.90 53.06L250.17 56.44L250.45 59.69L250.72 62.79L250.99 65.73L251.26 68.51L251.54 71.14L251.81 73.60L252.08 75.91L252.35 78.08L252.63 80.10L252.90 81.98L253.17 83.74L253.44 85.38L253.72 86.91L253.99 88.34L254.26 89.67L254.54 90.90L254.81 92.05L255.08 93.12L255.35 94.12L255.63 95.05L255.90 95.92L256.17 96.72L256.44 97.47L256.72 98.17L256.99 98.82L257.26 99.42L257.53 99.99L257.81 100.51L258.08 101.00L258.35 101.46L258.62 101.88L258.90 102.27L259.17 102.64L259.44 102.98L259.71 103.30L259.99 103.60L260.26 103.87L260.53 104.13L260.81 104.37L261.08 104.59L261.35 104.80L261.62 104.99L261.90 105.17L262.17 105.34L262.44 105.50L262.71 105.64L262.99 105.78L263.26 105.90L263.53 106.02L263.80 106.13L264.08 106.23L264.35 106.32L264.62 106.41L264.89 106.49L265.17 106.57L265.44 106.64L265.71 106.71L265.98 106.77L266.26 106.83L266.53 106.88L266.80 106.93L267.07 106.98L267.35 107.02L267.62 107.06L267.89 107.10L268.17 107.13L268.44 107.16L268.71 107.19L268.98 107.22L269.26 107.25L269.53 107.27L269.80 107.29L270.07 107.32L270.35 107.33L270.62 107.35L270.89 107.37L271.16 107.39L271.44 107.40L271.71 107.41L271.98 107.43L272.25 107.44L272.53 107.45L272.80 107.46L273.07 107.47L273.34 107.48L273.62 107.49L273.89 107.50L274.16 107.50L274.44 107.51L274.71 107.52L274.98 107.52L275.25 107.53L275.53 107.53L275.80 107.54L276.07 107.54L276.34 107.54L276.62 107.55L276.89 107.55L277.16 107.56L277.43 107.56L277.71 107.56L277.98 107.56L278.25 107.57L278.52 107.57L278.80 107.57L279.07 107.57L279.34 107.57L279.61 107.58L279.89 107.58L280.16 107.58L280.43 107.58L280.70 107.58L280.98 107.58L281.25 107.58L281.52 107.59L281.80 107.59L282.07 107.59L282.34 107.59L282.61 107.59L282.89 107.59L283.16 107.59L283.43 107.59L283.70 107.59L283.98 107.59L284.25 107.59L284.52 107.59L284.79 107.59L285.07 107.59L285.34 107.59L285.61 107.60L285.88 107.60L286.16 107.60L286.43 107.60L286.70 107.60L286.97 107.60L287.25 107.60L287.52 107.60L287.79 107.60L288.06 107.60L288.34 107.60L288.61 107.60L288.88 107.60L289.16 107.60L289.43 107.60L289.70 107.60L289.97 107.60L290.25 107.60L290.52 107.60L290.79 107.60L291.06 107.60L291.34 107.60L291.61 107.60L291.88 107.60L292.15 107.60L292.43 107.60L292.70 107.60L292.97 107.60L293.24 107.60L293.52 107.60L293.79 107.60L294.06 107.60L294.33 107.60L294.61 107.60L294.88 107.60L295.15 107.60L295.43 107.60L295.70 107.60L295.97 107.60L296.24 107.60L296.52 107.60L296.79 107.60L297.06 107.60L297.33 107.60L297.61 107.60L297.88 107.60L298.15 107.60L298.42 107.60L298.70 107.60L298.97 107.60L299.24 107.60L299.51 107.60L299.79 107.60L300.06 107.60L300.33 107.60L300.60 107.60L300.88 107.60L301.15 107.60L301.42 107.60L301.69 107.60L301.97 107.60L302.24 107.60L302.51 107.60L302.79 107.60L303.06 107.60L303.33 107.60L303.60 107.60L303.88 107.60L304.15 107.60L304.42 107.60L304.69 107.60L304.97 107.60L305.24 107.60L305.51 107.60L305.78 107.60L306.06 107.60L306.33 107.60L306.60 107.60L306.87 107.60L307.15 107.60L307.42 107.60L307.69 107.60L307.96 107.60L308.24 107.60L308.51 107.60L308.78 107.60L309.06 107.60L309.33 107.60L309.60 107.60L309.87 107.60L310.15 107.60L310.42 107.60L310.69 107.60L310.96 107.60L311.24 107.60L311.51 107.60L311.78 107.60L312.05 107.60L312.33 107.60L312.60 107.60L312.87 107.60L313.14 107.60L313.42 107.60L313.69 107.60L313.96 107.60L314.23 107.60L314.51 107.60L314.78 107.60L315.05 107.60L315.32 107.60L315.60 107.60L315.87 107.60L316.14 107.60L316.42 107.60L316.69 107.60L316.96 107.60L317.23 107.60L317.51 107.60L317.78 107.60L318.05 107.60L318.32 107.60L318.60 107.60L318.87 107.60L319.14 107.60L319.41 107.60L319.69 107.60L319.96 107.60L320.23 107.60L320.50 107.60L320.78 107.60L321.05 107.60L321.32 107.60L321.59 107.60L321.87 107.60L322.14 107.60L322.41 107.60L322.69 107.60L322.96 107.60L323.23 107.60L323.50 107.60L323.78 107.60L324.05 107.60L324.32 107.60L324.59 107.60L324.87 107.60L325.14 107.60L325.41 107.60L325.68 107.60L325.96 107.60L326.23 107.60L326.50 107.60L326.77 107.60L327.05 107.60L327.32 107.60L327.59 107.60L327.86 107.60L328.14 107.60L328.41 107.60L328.68 107.60L328.95 107.60L329.23 107.60L329.50 107.60L329.77 107.60L330.05 107.60L330.32 107.60L330.59 107.60L330.86 107.60L331.14 107.60L331.41 107.60L331.68 107.60L331.95 107.60L332.23 107.60L332.50 107.60L332.77 107.60L333.04 107.60L333.32 107.60L333.59 107.60L333.86 107.60L334.13 107.60L334.41 107.60L334.68 107.60L334.95 107.60L335.22 107.60L335.50 107.60L335.77 107.60L336.04 107.60L336.32 107.60L336.59 107.60L336.86 107.60L337.13 107.60L337.41 107.60L337.68 107.60L337.95 107.60L338.22 107.60L338.50 107.60L338.77 107.60L339.04 107.60L339.31 107.60L339.59 107.60L339.86 107.60L340.13 107.60L340.40 107.60L340.68 107.60L340.95 107.60L341.22 107.60" fill="none" stroke="#3f4fc8" stroke-width="1.3"/><path d="M204.66 109.12H208.46L206.56 105.70Z" fill="#3f4fc8"/><path d="M216.11 109.12H219.91L218.01 105.70Z" fill="#3f4fc8"/><path d="M227.56 109.12H231.36L229.46 105.70Z" fill="#3f4fc8"/><path d="M239.01 97.20H242.81L240.91 93.78Z" fill="#3f4fc8"/><path d="M250.45 79.60H254.25L252.35 76.18Z" fill="#3f4fc8"/><path d="M261.90 107.65H265.70L263.80 104.23Z" fill="#3f4fc8"/><path d="M273.35 109.05H277.15L275.25 105.63Z" fill="#3f4fc8"/><path d="M284.80 109.12H288.60L286.70 105.70Z" fill="#3f4fc8"/><path d="M296.25 109.12H300.05L298.15 105.70Z" fill="#3f4fc8"/><path d="M307.70 109.12H311.50L309.60 105.70Z" fill="#3f4fc8"/><path d="M319.15 109.12H322.95L321.05 105.70Z" fill="#3f4fc8"/><path d="M330.60 109.12H334.40L332.50 105.70Z" fill="#3f4fc8"/><path d="M196.74 107.60L197.02 107.60L197.29 107.60L197.56 107.60L197.83 107.60L198.11 107.60L198.38 107.60L198.65 107.60L198.92 107.60L199.20 107.60L199.47 107.60L199.74 107.60L200.02 107.60L200.29 107.60L200.56 107.60L200.83 107.60L201.11 107.60L201.38 107.60L201.65 107.60L201.92 107.60L202.20 107.60L202.47 107.60L202.74 107.60L203.01 107.60L203.29 107.60L203.56 107.60L203.83 107.60L204.10 107.60L204.38 107.60L204.65 107.60L204.92 107.60L205.19 107.60L205.47 107.60L205.74 107.60L206.01 107.60L206.28 107.60L206.56 107.60L206.83 107.60L207.10 107.60L207.38 107.60L207.65 107.60L207.92 107.60L208.19 107.60L208.47 107.60L208.74 107.60L209.01 107.60L209.28 107.60L209.56 107.60L209.83 107.60L210.10 107.60L210.37 107.60L210.65 107.60L210.92 107.60L211.19 107.60L211.46 107.60L211.74 107.60L212.01 107.60L212.28 107.60L212.55 107.60L212.83 107.60L213.10 107.60L213.37 107.60L213.65 107.60L213.92 107.60L214.19 107.60L214.46 107.60L214.74 107.60L215.01 107.60L215.28 107.60L215.55 107.60L215.83 107.60L216.10 107.60L216.37 107.60L216.64 107.60L216.92 107.60L217.19 107.60L217.46 107.60L217.73 107.60L218.01 107.60L218.28 107.60L218.55 107.60L218.82 107.60L219.10 107.60L219.37 107.60L219.64 107.60L219.91 107.60L220.19 107.60L220.46 107.60L220.73 107.60L221.01 107.60L221.28 107.60L221.55 107.60L221.82 107.60L222.10 107.60L222.37 107.60L222.64 107.60L222.91 107.60L223.19 107.60L223.46 107.60L223.73 107.60L224.00 107.60L224.28 107.60L224.55 107.60L224.82 107.60L225.09 107.60L225.37 107.60L225.64 107.60L225.91 107.60L226.18 107.60L226.46 107.60L226.73 107.60L227.00 107.60L227.28 107.60L227.55 107.60L227.82 107.60L228.09 107.60L228.37 107.60L228.64 107.60L228.91 107.60L229.18 107.60L229.46 107.60L229.73 107.59L230.00 107.58L230.27 107.55L230.55 107.51L230.82 107.47L231.09 107.41L231.36 107.35L231.64 107.27L231.91 107.19L232.18 107.10L232.45 107.00L232.73 106.89L233.00 106.78L233.27 106.66L233.54 106.53L233.82 106.40L234.09 106.26L234.36 106.12L234.64 105.97L234.91 105.81L235.18 105.63L235.45 105.40L235.73 105.12L236.00 104.80L236.27 104.42L236.54 104.00L236.82 103.53L237.09 103.01L237.36 102.44L237.63 101.83L237.91 101.16L238.18 100.44L238.45 99.50L238.72 98.20L239.00 96.58L239.27 94.71L239.54 92.62L239.81 90.37L240.09 88.01L240.36 85.59L240.63 83.15L240.91 80.75L241.18 78.18L241.45 75.27L241.72 72.16L242.00 68.94L242.27 65.75L242.54 62.69L242.81 59.90L243.09 57.48L243.36 55.23L243.63 52.97L243.90 50.85L244.18 49.01L244.45 47.59L244.72 46.74L244.99 46.25L245.27 45.82L245.54 45.46L245.81 45.19L246.08 45.01L246.36 44.95L246.63 45.03L246.90 45.23L247.18 45.52L247.45 45.84L247.72 46.17L247.99 46.46L248.27 46.66L248.54 46.74L248.81 46.38L249.08 45.40L249.36 43.97L249.63 42.27L249.90 40.45L250.17 38.68L250.45 36.71L250.72 34.29L250.99 31.69L251.26 29.15L251.54 26.93L251.81 25.26L252.08 23.95L252.35 22.67L252.63 21.46L252.90 20.37L253.17 19.45L253.44 18.73L253.72 18.26L253.99 18.10L254.26 18.24L254.54 18.64L254.81 19.23L255.08 19.97L255.35 20.81L255.63 21.68L255.90 22.76L256.17 24.18L256.44 25.89L256.72 27.80L256.99 29.85L257.26 31.94L257.53 34.02L257.81 36.00L258.08 37.97L258.35 40.03L258.62 42.15L258.90 44.32L259.17 46.49L259.44 48.65L259.71 50.77L259.99 52.82L260.26 54.76L260.53 56.59L260.81 58.34L261.08 60.08L261.35 61.81L261.62 63.49L261.90 65.12L262.17 66.67L262.44 68.13L262.71 69.48L262.99 70.71L263.26 71.80L263.53 72.79L263.80 73.72L264.08 74.61L264.35 75.45L264.62 76.25L264.89 77.02L265.17 77.75L265.44 78.46L265.71 79.14L265.98 79.79L266.26 80.43L266.53 81.05L266.80 81.65L267.07 82.25L267.35 82.84L267.62 83.43L267.89 84.02L268.17 84.60L268.44 85.18L268.71 85.75L268.98 86.30L269.26 86.85L269.53 87.39L269.80 87.92L270.07 88.44L270.35 88.95L270.62 89.45L270.89 89.93L271.16 90.40L271.44 90.86L271.71 91.30L271.98 91.73L272.25 92.14L272.53 92.54L272.80 92.92L273.07 93.28L273.34 93.63L273.62 93.98L273.89 94.33L274.16 94.67L274.44 95.01L274.71 95.34L274.98 95.67L275.25 96.00L275.53 96.32L275.80 96.63L276.07 96.94L276.34 97.24L276.62 97.54L276.89 97.83L277.16 98.11L277.43 98.39L277.71 98.65L277.98 98.92L278.25 99.17L278.52 99.41L278.80 99.65L279.07 99.87L279.34 100.09L279.61 100.30L279.89 100.50L280.16 100.69L280.43 100.86L280.70 101.03L280.98 101.19L281.25 101.33L281.52 101.47L281.80 101.61L282.07 101.75L282.34 101.88L282.61 102.02L282.89 102.15L283.16 102.28L283.43 102.41L283.70 102.54L283.98 102.66L284.25 102.79L284.52 102.91L284.79 103.03L285.07 103.15L285.34 103.26L285.61 103.38L285.88 103.49L286.16 103.60L286.43 103.71L286.70 103.82L286.97 103.92L287.25 104.02L287.52 104.12L287.79 104.22L288.06 104.32L288.34 104.41L288.61 104.50L288.88 104.59L289.16 104.67L289.43 104.76L289.70 104.84L289.97 104.91L290.25 104.99L290.52 105.06L290.79 105.13L291.06 105.20L291.34 105.26L291.61 105.32L291.88 105.38L292.15 105.43L292.43 105.49L292.70 105.53L292.97 105.58L293.24 105.62L293.52 105.66L293.79 105.70L294.06 105.73L294.33 105.76L294.61 105.79L294.88 105.81L295.15 105.83L295.43 105.85L295.70 105.87L295.97 105.89L296.24 105.91L296.52 105.93L296.79 105.95L297.06 105.97L297.33 105.99L297.61 106.01L297.88 106.03L298.15 106.05L298.42 106.07L298.70 106.09L298.97 106.11L299.24 106.13L299.51 106.15L299.79 106.17L300.06 106.19L300.33 106.20L300.60 106.22L300.88 106.24L301.15 106.26L301.42 106.28L301.69 106.29L301.97 106.31L302.24 106.33L302.51 106.35L302.79 106.36L303.06 106.38L303.33 106.40L303.60 106.42L303.88 106.43L304.15 106.45L304.42 106.47L304.69 106.48L304.97 106.50L305.24 106.51L305.51 106.53L305.78 106.55L306.06 106.56L306.33 106.58L306.60 106.59L306.87 106.61L307.15 106.62L307.42 106.64L307.69 106.65L307.96 106.67L308.24 106.68L308.51 106.70L308.78 106.71L309.06 106.73L309.33 106.74L309.60 106.75L309.87 106.77L310.15 106.78L310.42 106.80L310.69 106.81L310.96 106.82L311.24 106.84L311.51 106.85L311.78 106.86L312.05 106.88L312.33 106.89L312.60 106.90L312.87 106.91L313.14 106.93L313.42 106.94L313.69 106.95L313.96 106.96L314.23 106.97L314.51 106.99L314.78 107.00L315.05 107.01L315.32 107.02L315.60 107.03L315.87 107.04L316.14 107.05L316.42 107.07L316.69 107.08L316.96 107.09L317.23 107.10L317.51 107.11L317.78 107.12L318.05 107.13L318.32 107.14L318.60 107.15L318.87 107.16L319.14 107.17L319.41 107.18L319.69 107.19L319.96 107.20L320.23 107.21L320.50 107.22L320.78 107.23L321.05 107.24L321.32 107.24L321.59 107.25L321.87 107.26L322.14 107.27L322.41 107.28L322.69 107.29L322.96 107.29L323.23 107.30L323.50 107.31L323.78 107.32L324.05 107.33L324.32 107.33L324.59 107.34L324.87 107.35L325.14 107.36L325.41 107.36L325.68 107.37L325.96 107.38L326.23 107.38L326.50 107.39L326.77 107.40L327.05 107.40L327.32 107.41L327.59 107.42L327.86 107.42L328.14 107.43L328.41 107.44L328.68 107.44L328.95 107.45L329.23 107.45L329.50 107.46L329.77 107.46L330.05 107.47L330.32 107.47L330.59 107.48L330.86 107.48L331.14 107.49L331.41 107.49L331.68 107.50L331.95 107.50L332.23 107.51L332.50 107.51L332.77 107.52L333.04 107.52L333.32 107.52L333.59 107.53L333.86 107.53L334.13 107.54L334.41 107.54L334.68 107.54L334.95 107.55L335.22 107.55L335.50 107.55L335.77 107.56L336.04 107.56L336.32 107.56L336.59 107.56L336.86 107.57L337.13 107.57L337.41 107.57L337.68 107.57L337.95 107.58L338.22 107.58L338.50 107.58L338.77 107.58L339.04 107.58L339.31 107.59L339.59 107.59L339.86 107.59L340.13 107.59L340.40 107.59L340.68 107.59L340.95 107.59L341.22 107.60" fill="none" stroke="#4a86d6" stroke-width="1.3"/><path d="M200.44 105.70V109.50L197.02 107.60Z" fill="#4a86d6"/><path d="M211.89 105.70V109.50L208.47 107.60Z" fill="#4a86d6"/><path d="M223.34 105.70V109.50L219.92 107.60Z" fill="#4a86d6"/><path d="M234.79 104.76V108.56L231.37 106.66Z" fill="#4a86d6"/><path d="M246.24 44.84V48.64L242.82 46.74Z" fill="#4a86d6"/><path d="M257.69 22.28V26.08L254.27 24.18Z" fill="#4a86d6"/><path d="M269.14 81.53V85.33L265.72 83.43Z" fill="#4a86d6"/><path d="M280.59 97.97V101.77L277.17 99.87Z" fill="#4a86d6"/><path d="M292.04 103.16V106.96L288.62 105.06Z" fill="#4a86d6"/><path d="M303.49 104.41V108.21L300.07 106.31Z" fill="#4a86d6"/><path d="M314.94 105.04V108.84L311.52 106.94Z" fill="#4a86d6"/><path d="M326.39 105.45V109.25L322.97 107.35Z" fill="#4a86d6"/><path d="M337.84 105.66V109.46L334.42 107.56Z" fill="#4a86d6"/><path d="M196.74 107.60L197.02 107.60L197.29 107.60L197.56 107.60L197.83 107.60L198.11 107.60L198.38 107.60L198.65 107.60L198.92 107.60L199.20 107.60L199.47 107.60L199.74 107.60L200.02 107.60L200.29 107.60L200.56 107.60L200.83 107.60L201.11 107.60L201.38 107.60L201.65 107.60L201.92 107.60L202.20 107.60L202.47 107.60L202.74 107.60L203.01 107.60L203.29 107.60L203.56 107.60L203.83 107.60L204.10 107.60L204.38 107.60L204.65 107.60L204.92 107.60L205.19 107.60L205.47 107.60L205.74 107.60L206.01 107.60L206.28 107.60L206.56 107.60L206.83 107.60L207.10 107.60L207.38 107.60L207.65 107.60L207.92 107.60L208.19 107.60L208.47 107.60L208.74 107.60L209.01 107.60L209.28 107.60L209.56 107.60L209.83 107.60L210.10 107.60L210.37 107.60L210.65 107.60L210.92 107.60L211.19 107.60L211.46 107.60L211.74 107.60L212.01 107.60L212.28 107.60L212.55 107.60L212.83 107.60L213.10 107.60L213.37 107.60L213.65 107.60L213.92 107.60L214.19 107.60L214.46 107.60L214.74 107.60L215.01 107.60L215.28 107.60L215.55 107.60L215.83 107.60L216.10 107.60L216.37 107.60L216.64 107.60L216.92 107.60L217.19 107.60L217.46 107.60L217.73 107.60L218.01 107.60L218.28 107.60L218.55 107.60L218.82 107.60L219.10 107.60L219.37 107.60L219.64 107.60L219.91 107.60L220.19 107.60L220.46 107.60L220.73 107.60L221.01 107.60L221.28 107.60L221.55 107.60L221.82 107.60L222.10 107.60L222.37 107.60L222.64 107.60L222.91 107.60L223.19 107.60L223.46 107.60L223.73 107.60L224.00 107.60L224.28 107.60L224.55 107.60L224.82 107.60L225.09 107.60L225.37 107.60L225.64 107.60L225.91 107.60L226.18 107.60L226.46 107.60L226.73 107.60L227.00 107.60L227.28 107.60L227.55 107.60L227.82 107.60L228.09 107.60L228.37 107.60L228.64 107.60L228.91 107.60L229.18 107.60L229.46 107.60L229.73 107.60L230.00 107.60L230.27 107.60L230.55 107.60L230.82 107.60L231.09 107.60L231.36 107.60L231.64 107.60L231.91 107.60L232.18 107.60L232.45 107.60L232.73 107.60L233.00 107.60L233.27 107.60L233.54 107.60L233.82 107.60L234.09 107.60L234.36 107.60L234.64 107.60L234.91 107.60L235.18 107.60L235.45 107.60L235.73 107.60L236.00 107.60L236.27 107.60L236.54 107.60L236.82 107.60L237.09 107.60L237.36 107.60L237.63 107.60L237.91 107.60L238.18 107.60L238.45 107.60L238.72 107.60L239.00 107.60L239.27 107.60L239.54 107.60L239.81 107.60L240.09 107.60L240.36 107.60L240.63 107.60L240.91 107.60L241.18 107.60L241.45 107.60L241.72 107.60L242.00 107.60L242.27 107.60L242.54 107.60L242.81 107.60L243.09 107.60L243.36 107.60L243.63 107.60L243.90 107.60L244.18 107.60L244.45 107.60L244.72 107.60L244.99 107.60L245.27 107.60L245.54 107.60L245.81 107.60L246.08 107.59L246.36 107.59L246.63 107.59L246.90 107.59L247.18 107.59L247.45 107.58L247.72 107.58L247.99 107.57L248.27 107.56L248.54 107.55L248.81 107.54L249.08 107.53L249.36 107.51L249.63 107.49L249.90 107.46L250.17 107.43L250.45 107.39L250.72 107.34L250.99 107.28L251.26 107.22L251.54 107.13L251.81 107.04L252.08 106.92L252.35 106.79L252.63 106.63L252.90 106.45L253.17 106.23L253.44 105.98L253.72 105.69L253.99 105.36L254.26 104.98L254.54 104.55L254.81 104.06L255.08 103.50L255.35 102.87L255.63 102.16L255.90 101.37L256.17 100.49L256.44 99.52L256.72 98.44L256.99 97.25L257.26 95.95L257.53 94.53L257.81 93.00L258.08 91.33L258.35 89.54L258.62 87.62L258.90 85.57L259.17 83.39L259.44 81.09L259.71 78.66L259.99 76.12L260.26 73.48L260.53 70.73L260.81 67.90L261.08 64.99L261.35 62.02L261.62 59.01L261.90 55.96L262.17 52.91L262.44 49.86L262.71 46.84L262.99 43.87L263.26 40.97L263.53 38.16L263.80 35.47L264.08 32.91L264.35 30.49L264.62 28.25L264.89 26.20L265.17 24.36L265.44 22.73L265.71 21.33L265.98 20.18L266.26 19.27L266.53 18.62L266.80 18.23L267.07 18.10L267.35 18.23L267.62 18.61L267.89 19.23L268.17 20.10L268.44 21.20L268.71 22.52L268.98 24.04L269.26 25.75L269.53 27.63L269.80 29.67L270.07 31.84L270.35 34.14L270.62 36.54L270.89 39.02L271.16 41.58L271.44 44.18L271.71 46.81L271.98 49.46L272.25 52.11L272.53 54.75L272.80 57.36L273.07 59.94L273.34 62.47L273.62 64.94L273.89 67.34L274.16 69.68L274.44 71.93L274.71 74.11L274.98 76.20L275.25 78.20L275.53 80.10L275.80 81.92L276.07 83.65L276.34 85.28L276.62 86.83L276.89 88.29L277.16 89.66L277.43 90.95L277.71 92.17L277.98 93.30L278.25 94.36L278.52 95.35L278.80 96.27L279.07 97.13L279.34 97.93L279.61 98.67L279.89 99.36L280.16 100.00L280.43 100.59L280.70 101.13L280.98 101.64L281.25 102.11L281.52 102.54L281.80 102.94L282.07 103.31L282.34 103.65L282.61 103.96L282.89 104.25L283.16 104.52L283.43 104.76L283.70 104.99L283.98 105.20L284.25 105.39L284.52 105.56L284.79 105.73L285.07 105.88L285.34 106.01L285.61 106.14L285.88 106.26L286.16 106.36L286.43 106.46L286.70 106.55L286.97 106.64L287.25 106.71L287.52 106.78L287.79 106.85L288.06 106.91L288.34 106.97L288.61 107.02L288.88 107.06L289.16 107.11L289.43 107.15L289.70 107.18L289.97 107.21L290.25 107.25L290.52 107.27L290.79 107.30L291.06 107.32L291.34 107.35L291.61 107.37L291.88 107.39L292.15 107.40L292.43 107.42L292.70 107.43L292.97 107.45L293.24 107.46L293.52 107.47L293.79 107.48L294.06 107.49L294.33 107.50L294.61 107.51L294.88 107.51L295.15 107.52L295.43 107.53L295.70 107.53L295.97 107.54L296.24 107.54L296.52 107.55L296.79 107.55L297.06 107.56L297.33 107.56L297.61 107.56L297.88 107.57L298.15 107.57L298.42 107.57L298.70 107.57L298.97 107.58L299.24 107.58L299.51 107.58L299.79 107.58L300.06 107.58L300.33 107.58L300.60 107.59L300.88 107.59L301.15 107.59L301.42 107.59L301.69 107.59L301.97 107.59L302.24 107.59L302.51 107.59L302.79 107.59L303.06 107.59L303.33 107.59L303.60 107.59L303.88 107.59L304.15 107.59L304.42 107.60L304.69 107.60L304.97 107.60L305.24 107.60L305.51 107.60L305.78 107.60L306.06 107.60L306.33 107.60L306.60 107.60L306.87 107.60L307.15 107.60L307.42 107.60L307.69 107.60L307.96 107.60L308.24 107.60L308.51 107.60L308.78 107.60L309.06 107.60L309.33 107.60L309.60 107.60L309.87 107.60L310.15 107.60L310.42 107.60L310.69 107.60L310.96 107.60L311.24 107.60L311.51 107.60L311.78 107.60L312.05 107.60L312.33 107.60L312.60 107.60L312.87 107.60L313.14 107.60L313.42 107.60L313.69 107.60L313.96 107.60L314.23 107.60L314.51 107.60L314.78 107.60L315.05 107.60L315.32 107.60L315.60 107.60L315.87 107.60L316.14 107.60L316.42 107.60L316.69 107.60L316.96 107.60L317.23 107.60L317.51 107.60L317.78 107.60L318.05 107.60L318.32 107.60L318.60 107.60L318.87 107.60L319.14 107.60L319.41 107.60L319.69 107.60L319.96 107.60L320.23 107.60L320.50 107.60L320.78 107.60L321.05 107.60L321.32 107.60L321.59 107.60L321.87 107.60L322.14 107.60L322.41 107.60L322.69 107.60L322.96 107.60L323.23 107.60L323.50 107.60L323.78 107.60L324.05 107.60L324.32 107.60L324.59 107.60L324.87 107.60L325.14 107.60L325.41 107.60L325.68 107.60L325.96 107.60L326.23 107.60L326.50 107.60L326.77 107.60L327.05 107.60L327.32 107.60L327.59 107.60L327.86 107.60L328.14 107.60L328.41 107.60L328.68 107.60L328.95 107.60L329.23 107.60L329.50 107.60L329.77 107.60L330.05 107.60L330.32 107.60L330.59 107.60L330.86 107.60L331.14 107.60L331.41 107.60L331.68 107.60L331.95 107.60L332.23 107.60L332.50 107.60L332.77 107.60L333.04 107.60L333.32 107.60L333.59 107.60L333.86 107.60L334.13 107.60L334.41 107.60L334.68 107.60L334.95 107.60L335.22 107.60L335.50 107.60L335.77 107.60L336.04 107.60L336.32 107.60L336.59 107.60L336.86 107.60L337.13 107.60L337.41 107.60L337.68 107.60L337.95 107.60L338.22 107.60L338.50 107.60L338.77 107.60L339.04 107.60L339.31 107.60L339.59 107.60L339.86 107.60L340.13 107.60L340.40 107.60L340.68 107.60L340.95 107.60L341.22 107.60" fill="none" stroke="#2cc6cf" stroke-width="1.3"/><path d="M205.58 105.70V109.50L209.00 107.60Z" fill="#2cc6cf"/><path d="M217.03 105.70V109.50L220.45 107.60Z" fill="#2cc6cf"/><path d="M228.48 105.70V109.50L231.90 107.60Z" fill="#2cc6cf"/><path d="M239.93 105.70V109.50L243.35 107.60Z" fill="#2cc6cf"/><path d="M251.38 104.55V108.35L254.80 106.45Z" fill="#2cc6cf"/><path d="M262.83 28.59V32.39L266.25 30.49Z" fill="#2cc6cf"/><path d="M274.28 80.02V83.82L277.70 81.92Z" fill="#2cc6cf"/><path d="M285.73 104.81V108.61L289.15 106.71Z" fill="#2cc6cf"/><path d="M297.18 105.67V109.47L300.60 107.57Z" fill="#2cc6cf"/><path d="M308.63 105.70V109.50L312.05 107.60Z" fill="#2cc6cf"/><path d="M320.07 105.70V109.50L323.49 107.60Z" fill="#2cc6cf"/><path d="M331.52 105.70V109.50L334.94 107.60Z" fill="#2cc6cf"/><path d="M196.74 107.60L197.02 107.60L197.29 107.60L197.56 107.60L197.83 107.60L198.11 107.60L198.38 107.60L198.65 107.60L198.92 107.60L199.20 107.60L199.47 107.60L199.74 107.60L200.02 107.60L200.29 107.60L200.56 107.60L200.83 107.60L201.11 107.60L201.38 107.60L201.65 107.60L201.92 107.60L202.20 107.60L202.47 107.60L202.74 107.60L203.01 107.60L203.29 107.60L203.56 107.60L203.83 107.60L204.10 107.60L204.38 107.60L204.65 107.60L204.92 107.60L205.19 107.60L205.47 107.60L205.74 107.60L206.01 107.60L206.28 107.60L206.56 107.60L206.83 107.60L207.10 107.60L207.38 107.60L207.65 107.60L207.92 107.60L208.19 107.60L208.47 107.60L208.74 107.60L209.01 107.60L209.28 107.60L209.56 107.60L209.83 107.60L210.10 107.60L210.37 107.60L210.65 107.60L210.92 107.60L211.19 107.60L211.46 107.60L211.74 107.60L212.01 107.60L212.28 107.60L212.55 107.60L212.83 107.60L213.10 107.60L213.37 107.60L213.65 107.60L213.92 107.60L214.19 107.60L214.46 107.60L214.74 107.60L215.01 107.60L215.28 107.60L215.55 107.60L215.83 107.60L216.10 107.60L216.37 107.60L216.64 107.60L216.92 107.60L217.19 107.60L217.46 107.60L217.73 107.60L218.01 107.60L218.28 107.60L218.55 107.60L218.82 107.60L219.10 107.60L219.37 107.60L219.64 107.60L219.91 107.60L220.19 107.60L220.46 107.60L220.73 107.60L221.01 107.60L221.28 107.60L221.55 107.60L221.82 107.60L222.10 107.60L222.37 107.60L222.64 107.60L222.91 107.60L223.19 107.60L223.46 107.60L223.73 107.60L224.00 107.60L224.28 107.60L224.55 107.60L224.82 107.60L225.09 107.60L225.37 107.60L225.64 107.60L225.91 107.60L226.18 107.60L226.46 107.60L226.73 107.60L227.00 107.60L227.28 107.60L227.55 107.60L227.82 107.60L228.09 107.60L228.37 107.60L228.64 107.60L228.91 107.60L229.18 107.60L229.46 107.60L229.73 107.60L230.00 107.60L230.27 107.60L230.55 107.60L230.82 107.60L231.09 107.60L231.36 107.60L231.64 107.60L231.91 107.60L232.18 107.60L232.45 107.60L232.73 107.60L233.00 107.60L233.27 107.60L233.54 107.60L233.82 107.60L234.09 107.60L234.36 107.60L234.64 107.60L234.91 107.60L235.18 107.60L235.45 107.60L235.73 107.60L236.00 107.60L236.27 107.60L236.54 107.60L236.82 107.60L237.09 107.60L237.36 107.60L237.63 107.60L237.91 107.60L238.18 107.60L238.45 107.60L238.72 107.60L239.00 107.60L239.27 107.60L239.54 107.60L239.81 107.60L240.09 107.60L240.36 107.60L240.63 107.60L240.91 107.60L241.18 107.60L241.45 107.60L241.72 107.60L242.00 107.60L242.27 107.60L242.54 107.60L242.81 107.60L243.09 107.60L243.36 107.60L243.63 107.60L243.90 107.60L244.18 107.60L244.45 107.60L244.72 107.60L244.99 107.60L245.27 107.60L245.54 107.60L245.81 107.60L246.08 107.60L246.36 107.60L246.63 107.60L246.90 107.60L247.18 107.60L247.45 107.60L247.72 107.60L247.99 107.60L248.27 107.60L248.54 107.60L248.81 107.60L249.08 107.60L249.36 107.60L249.63 107.60L249.90 107.60L250.17 107.60L250.45 107.60L250.72 107.60L250.99 107.60L251.26 107.60L251.54 107.60L251.81 107.60L252.08 107.60L252.35 107.60L252.63 107.60L252.90 107.59L253.17 107.59L253.44 107.59L253.72 107.59L253.99 107.58L254.26 107.58L254.54 107.57L254.81 107.57L255.08 107.56L255.35 107.55L255.63 107.54L255.90 107.52L256.17 107.50L256.44 107.48L256.72 107.45L256.99 107.42L257.26 107.38L257.53 107.34L257.81 107.28L258.08 107.22L258.35 107.14L258.62 107.05L258.90 106.94L259.17 106.82L259.44 106.67L259.71 106.50L259.99 106.31L260.26 106.08L260.53 105.82L260.81 105.53L261.08 105.19L261.35 104.81L261.62 104.37L261.90 103.88L262.17 103.33L262.44 102.71L262.71 102.02L262.99 101.26L263.26 100.41L263.53 99.48L263.80 98.45L264.08 97.32L264.35 96.09L264.62 94.76L264.89 93.32L265.17 91.76L265.44 90.09L265.71 88.30L265.98 86.39L266.26 84.37L266.53 82.23L266.80 79.98L267.07 77.63L267.35 75.17L267.62 72.62L267.89 69.98L268.17 67.27L268.44 64.49L268.71 61.66L268.98 58.79L269.26 55.89L269.53 52.99L269.80 50.09L270.07 47.21L270.35 44.38L270.62 41.61L270.89 38.92L271.16 36.32L271.44 33.84L271.71 31.49L271.98 29.29L272.25 27.25L272.53 25.39L272.80 23.71L273.07 22.24L273.34 20.99L273.62 19.95L273.89 19.14L274.16 18.56L274.44 18.21L274.71 18.10L274.98 18.22L275.25 18.57L275.53 19.14L275.80 19.93L276.07 20.92L276.34 22.12L276.62 23.50L276.89 25.05L277.16 26.77L277.43 28.63L277.71 30.62L277.98 32.73L278.25 34.94L278.52 37.24L278.80 39.61L279.07 42.03L279.34 44.49L279.61 46.98L279.89 49.48L280.16 51.98L280.43 54.47L280.70 56.94L280.98 59.38L281.25 61.77L281.52 64.12L281.80 66.40L282.07 68.63L282.34 70.79L282.61 72.87L282.89 74.88L283.16 76.81L283.43 78.67L283.70 80.44L283.98 82.13L284.25 83.74L284.52 85.27L284.79 86.72L285.07 88.09L285.34 89.39L285.61 90.61L285.88 91.77L286.16 92.85L286.43 93.87L286.70 94.82L286.97 95.72L287.25 96.55L287.52 97.33L287.79 98.07L288.06 98.75L288.34 99.38L288.61 99.98L288.88 100.53L289.16 101.04L289.43 101.52L289.70 101.96L289.97 102.37L290.25 102.75L290.52 103.11L290.79 103.44L291.06 103.75L291.34 104.03L291.61 104.29L291.88 104.54L292.15 104.76L292.43 104.97L292.70 105.17L292.97 105.35L293.24 105.51L293.52 105.67L293.79 105.81L294.06 105.94L294.33 106.06L294.61 106.18L294.88 106.28L295.15 106.38L295.43 106.47L295.70 106.55L295.97 106.63L296.24 106.70L296.52 106.77L296.79 106.83L297.06 106.89L297.33 106.94L297.61 106.99L297.88 107.03L298.15 107.08L298.42 107.12L298.70 107.15L298.97 107.18L299.24 107.22L299.51 107.24L299.79 107.27L300.06 107.29L300.33 107.32L300.60 107.34L300.88 107.36L301.15 107.38L301.42 107.39L301.69 107.41L301.97 107.42L302.24 107.43L302.51 107.45L302.79 107.46L303.06 107.47L303.33 107.48L303.60 107.49L303.88 107.50L304.15 107.50L304.42 107.51L304.69 107.52L304.97 107.52L305.24 107.53L305.51 107.53L305.78 107.54L306.06 107.54L306.33 107.55L306.60 107.55L306.87 107.56L307.15 107.56L307.42 107.56L307.69 107.56L307.96 107.57L308.24 107.57L308.51 107.57L308.78 107.57L309.06 107.58L309.33 107.58L309.60 107.58L309.87 107.58L310.15 107.58L310.42 107.58L310.69 107.58L310.96 107.59L311.24 107.59L311.51 107.59L311.78 107.59L312.05 107.59L312.33 107.59L312.60 107.59L312.87 107.59L313.14 107.59L313.42 107.59L313.69 107.59L313.96 107.59L314.23 107.59L314.51 107.59L314.78 107.60L315.05 107.60L315.32 107.60L315.60 107.60L315.87 107.60L316.14 107.60L316.42 107.60L316.69 107.60L316.96 107.60L317.23 107.60L317.51 107.60L317.78 107.60L318.05 107.60L318.32 107.60L318.60 107.60L318.87 107.60L319.14 107.60L319.41 107.60L319.69 107.60L319.96 107.60L320.23 107.60L320.50 107.60L320.78 107.60L321.05 107.60L321.32 107.60L321.59 107.60L321.87 107.60L322.14 107.60L322.41 107.60L322.69 107.60L322.96 107.60L323.23 107.60L323.50 107.60L323.78 107.60L324.05 107.60L324.32 107.60L324.59 107.60L324.87 107.60L325.14 107.60L325.41 107.60L325.68 107.60L325.96 107.60L326.23 107.60L326.50 107.60L326.77 107.60L327.05 107.60L327.32 107.60L327.59 107.60L327.86 107.60L328.14 107.60L328.41 107.60L328.68 107.60L328.95 107.60L329.23 107.60L329.50 107.60L329.77 107.60L330.05 107.60L330.32 107.60L330.59 107.60L330.86 107.60L331.14 107.60L331.41 107.60L331.68 107.60L331.95 107.60L332.23 107.60L332.50 107.60L332.77 107.60L333.04 107.60L333.32 107.60L333.59 107.60L333.86 107.60L334.13 107.60L334.41 107.60L334.68 107.60L334.95 107.60L335.22 107.60L335.50 107.60L335.77 107.60L336.04 107.60L336.32 107.60L336.59 107.60L336.86 107.60L337.13 107.60L337.41 107.60L337.68 107.60L337.95 107.60L338.22 107.60L338.50 107.60L338.77 107.60L339.04 107.60L339.31 107.60L339.59 107.60L339.86 107.60L340.13 107.60L340.40 107.60L340.68 107.60L340.95 107.60L341.22 107.60" fill="none" stroke="#22b38a" stroke-width="1.3"/><path d="M197.57 107.60L199.47 105.70L201.37 107.60L199.47 109.50Z" fill="#22b38a"/><path d="M209.02 107.60L210.92 105.70L212.82 107.60L210.92 109.50Z" fill="#22b38a"/><path d="M220.47 107.60L222.37 105.70L224.27 107.60L222.37 109.50Z" fill="#22b38a"/><path d="M231.92 107.60L233.82 105.70L235.72 107.60L233.82 109.50Z" fill="#22b38a"/><path d="M243.37 107.60L245.27 105.70L247.17 107.60L245.27 109.50Z" fill="#22b38a"/><path d="M254.82 107.45L256.72 105.55L258.62 107.45L256.72 109.35Z" fill="#22b38a"/><path d="M266.27 67.27L268.17 65.37L270.07 67.27L268.17 69.17Z" fill="#22b38a"/><path d="M277.71 46.98L279.61 45.08L281.51 46.98L279.61 48.88Z" fill="#22b38a"/><path d="M289.16 103.75L291.06 101.85L292.96 103.75L291.06 105.65Z" fill="#22b38a"/><path d="M300.61 107.45L302.51 105.55L304.41 107.45L302.51 109.35Z" fill="#22b38a"/><path d="M312.06 107.59L313.96 105.69L315.86 107.59L313.96 109.49Z" fill="#22b38a"/><path d="M323.51 107.60L325.41 105.70L327.31 107.60L325.41 109.50Z" fill="#22b38a"/><path d="M334.96 107.60L336.86 105.70L338.76 107.60L336.86 109.50Z" fill="#22b38a"/><path d="M196.74 107.60L197.02 107.60L197.29 107.60L197.56 107.60L197.83 107.60L198.11 107.60L198.38 107.60L198.65 107.60L198.92 107.60L199.20 107.60L199.47 107.60L199.74 107.60L200.02 107.60L200.29 107.60L200.56 107.60L200.83 107.60L201.11 107.60L201.38 107.60L201.65 107.60L201.92 107.60L202.20 107.60L202.47 107.60L202.74 107.60L203.01 107.60L203.29 107.60L203.56 107.60L203.83 107.60L204.10 107.60L204.38 107.60L204.65 107.60L204.92 107.60L205.19 107.60L205.47 107.60L205.74 107.60L206.01 107.60L206.28 107.60L206.56 107.60L206.83 107.60L207.10 107.60L207.38 107.60L207.65 107.60L207.92 107.60L208.19 107.60L208.47 107.60L208.74 107.60L209.01 107.60L209.28 107.60L209.56 107.60L209.83 107.60L210.10 107.60L210.37 107.60L210.65 107.60L210.92 107.60L211.19 107.60L211.46 107.60L211.74 107.60L212.01 107.60L212.28 107.60L212.55 107.60L212.83 107.60L213.10 107.60L213.37 107.60L213.65 107.60L213.92 107.60L214.19 107.60L214.46 107.60L214.74 107.60L215.01 107.60L215.28 107.60L215.55 107.60L215.83 107.60L216.10 107.60L216.37 107.60L216.64 107.60L216.92 107.60L217.19 107.60L217.46 107.60L217.73 107.60L218.01 107.60L218.28 107.60L218.55 107.60L218.82 107.60L219.10 107.60L219.37 107.60L219.64 107.60L219.91 107.60L220.19 107.60L220.46 107.60L220.73 107.60L221.01 107.60L221.28 107.60L221.55 107.60L221.82 107.60L222.10 107.60L222.37 107.60L222.64 107.60L222.91 107.60L223.19 107.60L223.46 107.60L223.73 107.60L224.00 107.60L224.28 107.60L224.55 107.60L224.82 107.60L225.09 107.60L225.37 107.60L225.64 107.60L225.91 107.60L226.18 107.60L226.46 107.60L226.73 107.60L227.00 107.60L227.28 107.60L227.55 107.60L227.82 107.60L228.09 107.60L228.37 107.60L228.64 107.60L228.91 107.60L229.18 107.60L229.46 107.60L229.73 107.60L230.00 107.60L230.27 107.60L230.55 107.60L230.82 107.60L231.09 107.60L231.36 107.60L231.64 107.60L231.91 107.60L232.18 107.60L232.45 107.60L232.73 107.60L233.00 107.60L233.27 107.60L233.54 107.60L233.82 107.60L234.09 107.60L234.36 107.60L234.64 107.60L234.91 107.60L235.18 107.60L235.45 107.60L235.73 107.60L236.00 107.60L236.27 107.60L236.54 107.60L236.82 107.60L237.09 107.60L237.36 107.60L237.63 107.60L237.91 107.60L238.18 107.60L238.45 107.60L238.72 107.60L239.00 107.60L239.27 107.60L239.54 107.60L239.81 107.60L240.09 107.60L240.36 107.60L240.63 107.60L240.91 107.60L241.18 107.60L241.45 107.60L241.72 107.60L242.00 107.60L242.27 107.60L242.54 107.60L242.81 107.60L243.09 107.60L243.36 107.60L243.63 107.60L243.90 107.60L244.18 107.60L244.45 107.60L244.72 107.60L244.99 107.60L245.27 107.60L245.54 107.60L245.81 107.60L246.08 107.60L246.36 107.60L246.63 107.60L246.90 107.60L247.18 107.60L247.45 107.60L247.72 107.60L247.99 107.60L248.27 107.60L248.54 107.60L248.81 107.60L249.08 107.60L249.36 107.60L249.63 107.60L249.90 107.60L250.17 107.60L250.45 107.60L250.72 107.60L250.99 107.60L251.26 107.60L251.54 107.60L251.81 107.60L252.08 107.60L252.35 107.60L252.63 107.60L252.90 107.60L253.17 107.60L253.44 107.60L253.72 107.60L253.99 107.60L254.26 107.60L254.54 107.60L254.81 107.60L255.08 107.60L255.35 107.60L255.63 107.60L255.90 107.60L256.17 107.60L256.44 107.60L256.72 107.60L256.99 107.60L257.26 107.60L257.53 107.60L257.81 107.60L258.08 107.60L258.35 107.60L258.62 107.60L258.90 107.60L259.17 107.60L259.44 107.60L259.71 107.60L259.99 107.60L260.26 107.60L260.53 107.60L260.81 107.60L261.08 107.60L261.35 107.60L261.62 107.60L261.90 107.60L262.17 107.60L262.44 107.60L262.71 107.60L262.99 107.60L263.26 107.60L263.53 107.60L263.80 107.60L264.08 107.60L264.35 107.60L264.62 107.60L264.89 107.60L265.17 107.60L265.44 107.60L265.71 107.60L265.98 107.60L266.26 107.60L266.53 107.60L266.80 107.60L267.07 107.60L267.35 107.59L267.62 107.59L267.89 107.59L268.17 107.59L268.44 107.58L268.71 107.57L268.98 107.56L269.26 107.55L269.53 107.54L269.80 107.52L270.07 107.49L270.35 107.46L270.62 107.41L270.89 107.36L271.16 107.29L271.44 107.21L271.71 107.10L271.98 106.97L272.25 106.81L272.53 106.61L272.80 106.37L273.07 106.09L273.34 105.74L273.62 105.33L273.89 104.84L274.16 104.26L274.44 103.59L274.71 102.80L274.98 101.89L275.25 100.85L275.53 99.66L275.80 98.31L276.07 96.79L276.34 95.09L276.62 93.20L276.89 91.11L277.16 88.83L277.43 86.33L277.71 83.64L277.98 80.74L278.25 77.66L278.52 74.39L278.80 70.97L279.07 67.40L279.34 63.72L279.61 59.94L279.89 56.11L280.16 52.26L280.43 48.43L280.70 44.66L280.98 40.98L281.25 37.45L281.52 34.11L281.80 30.99L282.07 28.13L282.34 25.58L282.61 23.37L282.89 21.51L283.16 20.04L283.43 18.98L283.70 18.33L283.98 18.10L284.25 18.29L284.52 18.89L284.79 19.90L285.07 21.28L285.34 23.03L285.61 25.11L285.88 27.48L286.16 30.13L286.43 33.00L286.70 36.07L286.97 39.29L287.25 42.63L287.52 46.04L287.79 49.51L288.06 52.98L288.34 56.44L288.61 59.84L288.88 63.18L289.16 66.42L289.43 69.55L289.70 72.56L289.97 75.42L290.25 78.14L290.52 80.70L290.79 83.11L291.06 85.36L291.34 87.45L291.61 89.39L291.88 91.17L292.15 92.82L292.43 94.32L292.70 95.69L292.97 96.94L293.24 98.07L293.52 99.10L293.79 100.02L294.06 100.85L294.33 101.60L294.61 102.27L294.88 102.87L295.15 103.40L295.43 103.88L295.70 104.30L295.97 104.68L296.24 105.02L296.52 105.32L296.79 105.58L297.06 105.82L297.33 106.02L297.61 106.21L297.88 106.37L298.15 106.51L298.42 106.64L298.70 106.75L298.97 106.85L299.24 106.94L299.51 107.02L299.79 107.09L300.06 107.15L300.33 107.20L300.60 107.25L300.88 107.29L301.15 107.32L301.42 107.36L301.69 107.39L301.97 107.41L302.24 107.43L302.51 107.45L302.79 107.47L303.06 107.49L303.33 107.50L303.60 107.51L303.88 107.52L304.15 107.53L304.42 107.54L304.69 107.55L304.97 107.55L305.24 107.56L305.51 107.56L305.78 107.57L306.06 107.57L306.33 107.57L306.60 107.58L306.87 107.58L307.15 107.58L307.42 107.58L307.69 107.59L307.96 107.59L308.24 107.59L308.51 107.59L308.78 107.59L309.06 107.59L309.33 107.59L309.60 107.59L309.87 107.59L310.15 107.60L310.42 107.60L310.69 107.60L310.96 107.60L311.24 107.60L311.51 107.60L311.78 107.60L312.05 107.60L312.33 107.60L312.60 107.60L312.87 107.60L313.14 107.60L313.42 107.60L313.69 107.60L313.96 107.60L314.23 107.60L314.51 107.60L314.78 107.60L315.05 107.60L315.32 107.60L315.60 107.60L315.87 107.60L316.14 107.60L316.42 107.60L316.69 107.60L316.96 107.60L317.23 107.60L317.51 107.60L317.78 107.60L318.05 107.60L318.32 107.60L318.60 107.60L318.87 107.60L319.14 107.60L319.41 107.60L319.69 107.60L319.96 107.60L320.23 107.60L320.50 107.60L320.78 107.60L321.05 107.60L321.32 107.60L321.59 107.60L321.87 107.60L322.14 107.60L322.41 107.60L322.69 107.60L322.96 107.60L323.23 107.60L323.50 107.60L323.78 107.60L324.05 107.60L324.32 107.60L324.59 107.60L324.87 107.60L325.14 107.60L325.41 107.60L325.68 107.60L325.96 107.60L326.23 107.60L326.50 107.60L326.77 107.60L327.05 107.60L327.32 107.60L327.59 107.60L327.86 107.60L328.14 107.60L328.41 107.60L328.68 107.60L328.95 107.60L329.23 107.60L329.50 107.60L329.77 107.60L330.05 107.60L330.32 107.60L330.59 107.60L330.86 107.60L331.14 107.60L331.41 107.60L331.68 107.60L331.95 107.60L332.23 107.60L332.50 107.60L332.77 107.60L333.04 107.60L333.32 107.60L333.59 107.60L333.86 107.60L334.13 107.60L334.41 107.60L334.68 107.60L334.95 107.60L335.22 107.60L335.50 107.60L335.77 107.60L336.04 107.60L336.32 107.60L336.59 107.60L336.86 107.60L337.13 107.60L337.41 107.60L337.68 107.60L337.95 107.60L338.22 107.60L338.50 107.60L338.77 107.60L339.04 107.60L339.31 107.60L339.59 107.60L339.86 107.60L340.13 107.60L340.40 107.60L340.68 107.60L340.95 107.60L341.22 107.60" fill="none" stroke="#2cbf37" stroke-width="1.3"/><circle cx="200.02" cy="107.60" r="1.61" fill="#2cbf37"/><circle cx="211.46" cy="107.60" r="1.61" fill="#2cbf37"/><circle cx="222.91" cy="107.60" r="1.61" fill="#2cbf37"/><circle cx="234.36" cy="107.60" r="1.61" fill="#2cbf37"/><circle cx="245.81" cy="107.60" r="1.61" fill="#2cbf37"/><circle cx="257.26" cy="107.60" r="1.61" fill="#2cbf37"/><circle cx="268.71" cy="107.57" r="1.61" fill="#2cbf37"/><circle cx="280.16" cy="52.26" r="1.61" fill="#2cbf37"/><circle cx="291.61" cy="89.39" r="1.61" fill="#2cbf37"/><circle cx="303.06" cy="107.49" r="1.61" fill="#2cbf37"/><circle cx="314.51" cy="107.60" r="1.61" fill="#2cbf37"/><circle cx="325.96" cy="107.60" r="1.61" fill="#2cbf37"/><circle cx="337.41" cy="107.60" r="1.61" fill="#2cbf37"/></g><text x="213.10" y="117.6" font-size="6.6" text-anchor="middle" fill="#222" stroke="#222" stroke-width="0.12" style="font-family:'Liberation Sans',sans-serif">400</text><line x1="213.10" x2="213.10" y1="108.6" y2="107.1" stroke="#4a4a4a" stroke-width="0.6"/><text x="267.62" y="117.6" font-size="6.6" text-anchor="middle" fill="#222" stroke="#222" stroke-width="0.12" style="font-family:'Liberation Sans',sans-serif">500</text><line x1="267.62" x2="267.62" y1="108.6" y2="107.1" stroke="#4a4a4a" stroke-width="0.6"/><text x="322.14" y="117.6" font-size="6.6" text-anchor="middle" fill="#222" stroke="#222" stroke-width="0.12" style="font-family:'Liberation Sans',sans-serif">600</text><line x1="322.14" x2="322.14" y1="108.6" y2="107.1" stroke="#4a4a4a" stroke-width="0.6"/><text x="268" y="124.6" font-size="6.6" text-anchor="middle" fill="#222" stroke="#222" stroke-width="0.12" style="font-family:'Liberation Sans',sans-serif">Wavelength (nm)</text><text transform="translate(194.2,64.4) rotate(-90)" font-size="6.4" text-anchor="middle" fill="#333" stroke="#333" stroke-width="0.1" style="font-family:'Liberation Sans',sans-serif">Intensity (a.u.)</text><line x1="299.6" x2="311.2" y1="21.5" y2="21.5" stroke="#8747c9" stroke-width="1"/><path d="M303.30 19.82H307.50L305.40 23.60Z" fill="#8747c9"/><text x="312.2" y="23.40" font-size="5.3" font-weight="bold" fill="#000" style="font-family:'Liberation Sans',sans-serif" textLength="14.8" lengthAdjust="spacingAndGlyphs">NP403</text><line x1="299.6" x2="311.2" y1="27.3" y2="27.3" stroke="#6a3ec4" stroke-width="1"/><path d="M303.30 27.30L305.40 25.20L307.50 27.30L305.40 29.40Z" fill="#6a3ec4"/><text x="312.2" y="29.20" font-size="5.3" font-weight="bold" fill="#000" style="font-family:'Liberation Sans',sans-serif" textLength="14.8" lengthAdjust="spacingAndGlyphs">NP442</text><line x1="299.6" x2="311.2" y1="33.4" y2="33.4" stroke="#3f4fc8" stroke-width="1"/><path d="M303.30 35.08H307.50L305.40 31.30Z" fill="#3f4fc8"/><text x="312.2" y="35.30" font-size="5.3" font-weight="bold" fill="#000" style="font-family:'Liberation Sans',sans-serif" textLength="14.8" lengthAdjust="spacingAndGlyphs">NP461</text><line x1="299.6" x2="311.2" y1="39.3" y2="39.3" stroke="#4a86d6" stroke-width="1"/><path d="M307.08 37.20V41.40L303.30 39.30Z" fill="#4a86d6"/><text x="312.2" y="41.20" font-size="5.3" font-weight="bold" fill="#000" style="font-family:'Liberation Sans',sans-serif" textLength="14.8" lengthAdjust="spacingAndGlyphs">NP475</text><line x1="299.6" x2="311.2" y1="45.3" y2="45.3" stroke="#2cc6cf" stroke-width="1"/><path d="M303.72 43.20V47.40L307.50 45.30Z" fill="#2cc6cf"/><text x="312.2" y="47.20" font-size="5.3" font-weight="bold" fill="#000" style="font-family:'Liberation Sans',sans-serif" textLength="14.8" lengthAdjust="spacingAndGlyphs">NP499</text><line x1="299.6" x2="311.2" y1="51.4" y2="51.4" stroke="#22b38a" stroke-width="1"/><path d="M303.30 51.40L305.40 49.30L307.50 51.40L305.40 53.50Z" fill="#22b38a"/><text x="312.2" y="53.30" font-size="5.3" font-weight="bold" fill="#000" style="font-family:'Liberation Sans',sans-serif" textLength="14.8" lengthAdjust="spacingAndGlyphs">NP513</text><line x1="299.6" x2="311.2" y1="57.3" y2="57.3" stroke="#2cbf37" stroke-width="1"/><circle cx="305.40" cy="57.30" r="1.78" fill="#2cbf37"/><text x="312.2" y="59.20" font-size="5.3" font-weight="bold" fill="#000" style="font-family:'Liberation Sans',sans-serif" textLength="14.8" lengthAdjust="spacingAndGlyphs">NP530</text>
<text transform="translate(4.40,153.70) scale(0.98,1)" font-size="16.2" text-anchor="start" fill="#111" style="font-family:'Liberation Sans',sans-serif">b</text><path d="M47.10 165.20L56.50 170.60L56.50 181.40L47.10 186.80L37.70 181.40L37.70 170.60Z" fill="none" stroke="#444444" stroke-width="1.0" stroke-linejoin="round"/><line x1="54.43" y1="173.05" x2="54.43" y2="178.95" stroke="#444444" stroke-width="1.0"/><line x1="46.00" y1="183.79" x2="40.87" y2="180.84" stroke="#444444" stroke-width="1.0"/><line x1="40.87" y1="171.16" x2="46.00" y2="168.21" stroke="#444444" stroke-width="1.0"/><line x1="56.50" y1="170.60" x2="62.0" y2="167.6" stroke="#444444" stroke-width="1.0"/><text transform="translate(62.60,167.90) scale(1,1)" font-size="6.7" fill="#1c1c1c" stroke="#1c1c1c" stroke-width="0.2" style="font-family:'Liberation Sans',sans-serif">N<tspan dx="0.3">H</tspan><tspan font-size="5.8" dx="0.4" dy="1.5">3</tspan><tspan font-size="5.0" dx="0.5" dy="-5.6">+</tspan></text><line x1="37.70" y1="181.40" x2="32.4" y2="184.6" stroke="#444444" stroke-width="1.0"/><text transform="translate(31.6,188.3) scale(1,1)" font-size="6.7" fill="#1c1c1c" stroke="#1c1c1c" stroke-width="0.2" text-anchor="end" style="font-family:'Liberation Sans',sans-serif"><tspan font-size="5.0" dy="-3.8">+</tspan><tspan dx="0.3" dy="3.8">H</tspan><tspan font-size="5.8" dx="0.3" dy="1.5">3</tspan><tspan dx="0.2" dy="-1.5">N</tspan></text><path d="M103.10 167.30L112.50 172.60L112.50 183.20L103.10 188.50L93.70 183.20L93.70 172.60Z" fill="none" stroke="#444444" stroke-width="1.0" stroke-linejoin="round"/><line x1="104.20" y1="170.25" x2="109.33" y2="173.15" stroke="#444444" stroke-width="1.0"/><line x1="109.33" y1="182.65" x2="104.20" y2="185.55" stroke="#444444" stroke-width="1.0"/><line x1="95.77" y1="180.79" x2="95.77" y2="175.01" stroke="#444444" stroke-width="1.0"/><line x1="103.10" y1="167.30" x2="103.10" y2="160.2" stroke="#444444" stroke-width="1.0"/><text transform="translate(100.30,158.00) scale(1,1)" font-size="6.7" fill="#1c1c1c" stroke="#1c1c1c" stroke-width="0.2" style="font-family:'Liberation Sans',sans-serif">N<tspan dx="0.3">H</tspan><tspan font-size="5.8" dx="0.4" dy="1.5">3</tspan><tspan font-size="5.0" dx="0.5" dy="-5.6">+</tspan></text><line x1="112.50" y1="183.20" x2="118.4" y2="186.4" stroke="#444444" stroke-width="1.0"/><text transform="translate(118.80,189.00) scale(1,1)" font-size="6.7" fill="#1c1c1c" stroke="#1c1c1c" stroke-width="0.2" style="font-family:'Liberation Sans',sans-serif">N<tspan dx="0.3">H</tspan><tspan font-size="5.8" dx="0.4" dy="1.5">3</tspan><tspan font-size="5.0" dx="0.5" dy="-5.6">+</tspan></text><path d="M153.10 165.20L162.50 170.60L162.50 181.40L153.10 186.80L143.70 181.40L143.70 170.60Z" fill="none" stroke="#444444" stroke-width="1.0" stroke-linejoin="round"/><line x1="154.20" y1="168.21" x2="159.33" y2="171.16" stroke="#444444" stroke-width="1.0"/><line x1="159.33" y1="180.84" x2="154.20" y2="183.79" stroke="#444444" stroke-width="1.0"/><line x1="145.77" y1="178.95" x2="145.77" y2="173.05" stroke="#444444" stroke-width="1.0"/><line x1="162.50" y1="170.60" x2="168.0" y2="166.6" stroke="#444444" stroke-width="1.0"/><text transform="translate(168.20,167.30) scale(1,1)" font-size="6.7" fill="#1c1c1c" stroke="#1c1c1c" stroke-width="0.2" style="font-family:'Liberation Sans',sans-serif">N<tspan dx="0.3">H</tspan><tspan font-size="5.8" dx="0.4" dy="1.5">3</tspan><tspan font-size="5.0" dx="0.5" dy="-5.6">+</tspan></text><line x1="162.50" y1="181.40" x2="168.0" y2="184.8" stroke="#444444" stroke-width="1.0"/><text transform="translate(168.20,188.50) scale(1,1)" font-size="6.7" fill="#1c1c1c" stroke="#1c1c1c" stroke-width="0.2" style="font-family:'Liberation Sans',sans-serif">N<tspan dx="0.3">H</tspan><tspan font-size="5.8" dx="0.4" dy="1.5">3</tspan><tspan font-size="5.0" dx="0.5" dy="-5.6">+</tspan></text><text transform="translate(52.70,215.00) scale(0.95,1)" font-size="7.7" text-anchor="middle" fill="#1c1c1c" style="font-family:'Liberation Sans',sans-serif">pPDA</text><text transform="translate(108.30,215.00) scale(0.95,1)" font-size="7.7" text-anchor="middle" fill="#1c1c1c" style="font-family:'Liberation Sans',sans-serif">mPDA</text><text transform="translate(159.40,215.00) scale(0.95,1)" font-size="7.7" text-anchor="middle" fill="#1c1c1c" style="font-family:'Liberation Sans',sans-serif">oPDA</text><text transform="translate(26.00,291.40) scale(0.94,1)" font-size="8.3" text-anchor="start" fill="#1c1c1c" style="font-family:'Liberation Sans',sans-serif">(pPDA)PbBr<tspan font-size="5.4" dy="1.6">4</tspan></text><text transform="translate(78.50,291.40) scale(0.94,1)" font-size="8.3" text-anchor="start" fill="#1c1c1c" style="font-family:'Liberation Sans',sans-serif">(mPDA)PbBr<tspan font-size="5.4" dy="1.6">4</tspan></text><text transform="translate(131.00,291.40) scale(0.94,1)" font-size="8.3" text-anchor="start" fill="#1c1c1c" style="font-family:'Liberation Sans',sans-serif">(oPDA)<tspan font-size="5.4" dy="1.6">4</tspan><tspan dy="-1.6">(PbBr</tspan><tspan font-size="5.4" dy="1.6">4</tspan><tspan dy="-1.6">)</tspan><tspan font-size="5.4" dy="1.6">2</tspan></text><text transform="translate(131.00,299.60) scale(0.94,1)" font-size="8.3" text-anchor="start" fill="#1c1c1c" style="font-family:'Liberation Sans',sans-serif">Pb<tspan font-size="5.4" dy="1.6">3</tspan><tspan dy="-1.6">Br</tspan><tspan font-size="5.4" dy="1.6">10</tspan><tspan dy="-1.6"> • 4H</tspan><tspan font-size="5.4" dy="1.6">3</tspan><tspan dy="-1.6">PO</tspan><tspan font-size="5.4" dy="1.6">2</tspan></text>
<defs><filter id="pb1" x="-30%" y="-30%" width="160%" height="160%"><feGaussianBlur stdDeviation="1.4"/></filter><filter id="pb2" x="-30%" y="-30%" width="160%" height="160%"><feGaussianBlur stdDeviation="0.6"/></filter><filter id="pb3" x="-30%" y="-30%" width="160%" height="160%"><feGaussianBlur stdDeviation="0.35"/></filter><clipPath id="ph1"><rect x="33.4" y="232.0" width="36.8" height="43.6"/></clipPath><clipPath id="ph2"><rect x="78.9" y="232.2" width="42.2" height="43.2"/></clipPath><clipPath id="ph3"><rect x="130.4" y="232.3" width="41.6" height="43.6"/></clipPath><radialGradient id="gi1" cx="0.5" cy="0.52" r="0.62"><stop offset="0" stop-color="#ffffff"/><stop offset="0.18" stop-color="#fdf6ff"/><stop offset="0.3" stop-color="#d8b8f6"/><stop offset="0.55" stop-color="#b0a0f0"/><stop offset="1" stop-color="#a898ee"/></radialGradient><radialGradient id="gi2" cx="0.6" cy="0.62" r="0.65"><stop offset="0" stop-color="#f0c8f8"/><stop offset="0.35" stop-color="#d8a0f4"/><stop offset="1" stop-color="#c094f0"/></radialGradient><radialGradient id="gi3" cx="0.45" cy="0.5" r="0.62"><stop offset="0" stop-color="#ffffff"/><stop offset="0.15" stop-color="#fbe0fc"/><stop offset="0.38" stop-color="#d860f4"/><stop offset="0.7" stop-color="#b050f0"/><stop offset="1" stop-color="#a048ee"/></radialGradient><linearGradient id="gp3" x1="0" x2="1" y1="0.2" y2="0"><stop offset="0" stop-color="#8a8878"/><stop offset="0.15" stop-color="#7a9c98"/><stop offset="0.45" stop-color="#78b4bc"/><stop offset="0.75" stop-color="#a8d4d8"/><stop offset="1" stop-color="#e4f2f2"/></linearGradient><linearGradient id="gp2" x1="0" x2="1" y1="0" y2="0.3"><stop offset="0" stop-color="#d2cec8"/><stop offset="1" stop-color="#dcd8d2"/></linearGradient></defs><g clip-path="url(#ph1)"><rect x="33.4" y="232.0" width="36.8" height="43.6" fill="#f6f4ef"/><path d="M38 252C39 245 44 240 50 241C56 238 62 242 63 248C61 254 55 257 51 261C46 267 41 269 39 264C37 259 37 255 38 252Z" fill="#f0e0b8" filter="url(#pb1)"/><circle cx="45.8" cy="242.2" r="0.64" fill="#f8ecd0" filter="url(#pb3)"/><circle cx="57.7" cy="240.6" r="0.65" fill="#d0aa6c" filter="url(#pb3)"/><circle cx="50.2" cy="239.0" r="0.98" fill="#dcbc80" filter="url(#pb3)"/><circle cx="43.8" cy="253.4" r="1.34" fill="#ecd49c" filter="url(#pb3)"/><circle cx="41.0" cy="244.3" r="1.12" fill="#f8ecd0" filter="url(#pb3)"/><circle cx="39.5" cy="254.4" r="1.48" fill="#ecd49c" filter="url(#pb3)"/><circle cx="45.0" cy="242.0" r="1.11" fill="#ecd49c" filter="url(#pb3)"/><circle cx="51.4" cy="257.1" r="1.12" fill="#ecd49c" filter="url(#pb3)"/><circle cx="53.3" cy="248.4" r="1.24" fill="#d0aa6c" filter="url(#pb3)"/><circle cx="51.5" cy="255.3" r="1.21" fill="#dcbc80" filter="url(#pb3)"/><circle cx="48.3" cy="246.8" r="1.43" fill="#d0aa6c" filter="url(#pb3)"/><circle cx="46.7" cy="245.0" r="1.23" fill="#e4c888" filter="url(#pb3)"/><circle cx="43.9" cy="254.1" r="1.05" fill="#d0aa6c" filter="url(#pb3)"/><circle cx="46.2" cy="250.6" r="1.48" fill="#d0aa6c" filter="url(#pb3)"/><circle cx="40.8" cy="249.7" r="0.74" fill="#f4e2b4" filter="url(#pb3)"/><circle cx="49.7" cy="239.1" r="0.67" fill="#f8ecd0" filter="url(#pb3)"/><circle cx="51.4" cy="260.1" r="0.91" fill="#f4e2b4" filter="url(#pb3)"/><circle cx="46.4" cy="251.9" r="0.66" fill="#dcbc80" filter="url(#pb3)"/><circle cx="40.2" cy="245.6" r="1.20" fill="#f8ecd0" filter="url(#pb3)"/><circle cx="39.5" cy="257.6" r="1.12" fill="#f8ecd0" filter="url(#pb3)"/><circle cx="54.3" cy="250.5" r="0.95" fill="#f8ecd0" filter="url(#pb3)"/><circle cx="54.0" cy="238.6" r="0.92" fill="#dcbc80" filter="url(#pb3)"/><circle cx="52.7" cy="251.8" r="1.29" fill="#e4c888" filter="url(#pb3)"/><circle cx="41.1" cy="244.9" r="1.43" fill="#dcbc80" filter="url(#pb3)"/><circle cx="49.9" cy="242.7" r="1.09" fill="#dcbc80" filter="url(#pb3)"/><circle cx="58.7" cy="245.8" r="1.49" fill="#dcbc80" filter="url(#pb3)"/><circle cx="54.4" cy="248.7" r="0.74" fill="#e4c888" filter="url(#pb3)"/><circle cx="42.2" cy="244.5" r="0.61" fill="#e4c888" filter="url(#pb3)"/><circle cx="57.9" cy="243.1" r="0.60" fill="#f4e2b4" filter="url(#pb3)"/><circle cx="48.1" cy="248.3" r="0.89" fill="#d0aa6c" filter="url(#pb3)"/><circle cx="60.8" cy="256.3" r="0.65" fill="#f8ecd0" filter="url(#pb3)"/><circle cx="47.4" cy="249.2" r="1.03" fill="#ecd49c" filter="url(#pb3)"/><circle cx="47.6" cy="243.3" r="1.00" fill="#e4c888" filter="url(#pb3)"/></g><rect x="49.2" y="253.8" width="21.0" height="21.7" fill="url(#gi1)"/><g clip-path="url(#ph2)"><rect x="78.9" y="232.2" width="42.2" height="43.2" fill="url(#gp2)"/><path d="M86 262C87 254 91 248 96 246C100 247 102 252 100 258C98 264 94 270 90 270C87 269 85 266 86 262Z" fill="#ece0c6" filter="url(#pb2)"/><circle cx="87.6" cy="260.8" r="0.50" fill="#f4ead4" filter="url(#pb3)"/><circle cx="88.3" cy="249.3" r="0.99" fill="#dccaa8" filter="url(#pb3)"/><circle cx="87.1" cy="251.8" r="0.62" fill="#f8f0e0" filter="url(#pb3)"/><circle cx="89.8" cy="255.0" r="0.88" fill="#dccaa8" filter="url(#pb3)"/><circle cx="87.7" cy="258.2" r="0.88" fill="#f8f0e0" filter="url(#pb3)"/><circle cx="90.7" cy="250.3" r="1.09" fill="#dccaa8" filter="url(#pb3)"/><circle cx="93.2" cy="262.9" r="0.66" fill="#f4ead4" filter="url(#pb3)"/><circle cx="100.3" cy="255.3" r="1.11" fill="#f4ead4" filter="url(#pb3)"/><circle cx="90.5" cy="261.8" r="1.06" fill="#f4ead4" filter="url(#pb3)"/><circle cx="89.9" cy="255.4" r="0.78" fill="#e6d6b6" filter="url(#pb3)"/><circle cx="89.3" cy="259.5" r="1.01" fill="#dccaa8" filter="url(#pb3)"/><circle cx="95.2" cy="265.1" r="1.14" fill="#e6d6b6" filter="url(#pb3)"/><circle cx="98.3" cy="264.0" r="0.66" fill="#e6d6b6" filter="url(#pb3)"/><circle cx="93.4" cy="263.8" r="1.13" fill="#f4ead4" filter="url(#pb3)"/><circle cx="93.1" cy="251.5" r="0.86" fill="#dccaa8" filter="url(#pb3)"/><circle cx="100.1" cy="269.7" r="0.56" fill="#dccaa8" filter="url(#pb3)"/><circle cx="87.5" cy="257.8" r="0.66" fill="#dccaa8" filter="url(#pb3)"/><circle cx="95.4" cy="267.7" r="0.88" fill="#f4ead4" filter="url(#pb3)"/><circle cx="95.8" cy="265.4" r="1.17" fill="#f4ead4" filter="url(#pb3)"/><circle cx="87.8" cy="255.9" r="0.88" fill="#e6d6b6" filter="url(#pb3)"/><circle cx="88.7" cy="265.2" r="0.57" fill="#dccaa8" filter="url(#pb3)"/><circle cx="100.2" cy="263.6" r="0.82" fill="#f8f0e0" filter="url(#pb3)"/><circle cx="100.2" cy="263.7" r="1.29" fill="#e6d6b6" filter="url(#pb3)"/><circle cx="86.4" cy="260.6" r="1.15" fill="#f8f0e0" filter="url(#pb3)"/><circle cx="88.2" cy="266.0" r="1.03" fill="#f8f0e0" filter="url(#pb3)"/><circle cx="91.3" cy="259.6" r="0.52" fill="#e6d6b6" filter="url(#pb3)"/><circle cx="98.0" cy="263.7" r="0.92" fill="#f4ead4" filter="url(#pb3)"/><circle cx="100.0" cy="257.0" r="1.16" fill="#e6d6b6" filter="url(#pb3)"/><circle cx="89.2" cy="252.8" r="0.90" fill="#dccaa8" filter="url(#pb3)"/><circle cx="97.5" cy="254.5" r="1.17" fill="#f8f0e0" filter="url(#pb3)"/><path d="M98.5 250C99 244 102 240 105 241C108 243 108.5 249 106.5 253C104 256 99.5 255 98.5 250Z" fill="#4a3e30" opacity="0.6" filter="url(#pb2)"/><circle cx="97.8" cy="251.3" r="1.10" fill="#7a6a58" filter="url(#pb3)"/><circle cx="107.6" cy="247.3" r="0.98" fill="#6a5a48" filter="url(#pb3)"/><circle cx="103.8" cy="238.3" r="1.20" fill="#7a6a58" filter="url(#pb3)"/><circle cx="104.9" cy="252.0" r="0.66" fill="#6a5a48" filter="url(#pb3)"/><circle cx="103.2" cy="251.1" r="0.79" fill="#5a4c3c" filter="url(#pb3)"/><circle cx="103.7" cy="248.0" r="1.29" fill="#5a4c3c" filter="url(#pb3)"/><circle cx="97.7" cy="241.4" r="1.20" fill="#5a4c3c" filter="url(#pb3)"/><circle cx="103.6" cy="248.1" r="0.90" fill="#5a4c3c" filter="url(#pb3)"/><circle cx="105.0" cy="247.1" r="1.12" fill="#6a5a48" filter="url(#pb3)"/><circle cx="102.9" cy="247.6" r="0.96" fill="#7a6a58" filter="url(#pb3)"/><circle cx="100.2" cy="247.4" r="1.33" fill="#3e3428" filter="url(#pb3)"/><circle cx="108.6" cy="241.6" r="0.62" fill="#7a6a58" filter="url(#pb3)"/><circle cx="98.6" cy="246.0" r="1.10" fill="#5a4c3c" filter="url(#pb3)"/><circle cx="102.6" cy="241.8" r="1.21" fill="#3e3428" filter="url(#pb3)"/><circle cx="108.7" cy="240.8" r="0.63" fill="#3e3428" filter="url(#pb3)"/><circle cx="108.5" cy="255.4" r="1.17" fill="#6a5a48" filter="url(#pb3)"/><circle cx="98.2" cy="253.9" r="1.39" fill="#6a5a48" filter="url(#pb3)"/><circle cx="107.8" cy="240.9" r="1.39" fill="#7a6a58" filter="url(#pb3)"/><circle cx="102.2" cy="245.6" r="0.79" fill="#3e3428" filter="url(#pb3)"/><circle cx="106.4" cy="238.4" r="0.90" fill="#7a6a58" filter="url(#pb3)"/><circle cx="97.2" cy="244.0" r="0.96" fill="#3e3428" filter="url(#pb3)"/><circle cx="97.8" cy="255.7" r="1.37" fill="#6a5a48" filter="url(#pb3)"/><circle cx="106" cy="236.5" r="0.8" fill="#54483a" filter="url(#pb3)"/><circle cx="109.5" cy="248.5" r="0.9" fill="#54483a" filter="url(#pb3)"/><circle cx="113" cy="250" r="0.7" fill="#54483a" filter="url(#pb3)"/><circle cx="103.5" cy="235.5" r="0.7" fill="#54483a" filter="url(#pb3)"/><circle cx="86" cy="266" r="0.6" fill="#54483a" filter="url(#pb3)"/><circle cx="84" cy="257" r="0.5" fill="#54483a" filter="url(#pb3)"/><circle cx="115.5" cy="252.5" r="0.6" fill="#54483a" filter="url(#pb3)"/></g><rect x="99.8" y="255.8" width="21.3" height="19.5" fill="url(#gi2)"/><path d="M105.5 268.5C107.5 266.5 110 268.5 112 266.5C114 264.2 116.5 264.8 115.5 268C113.5 271.2 108 271.2 105.5 268.5Z" fill="#fff0fb" filter="url(#pb3)"/><g clip-path="url(#ph3)"><rect x="130.4" y="232.3" width="41.6" height="43.6" fill="url(#gp3)"/><line x1="132.4" y1="247.2" x2="135.3" y2="242.6" stroke="#9cccd0" stroke-width="1.36" opacity="0.75" filter="url(#pb3)"/><line x1="162.4" y1="271.7" x2="169.9" y2="261.8" stroke="#3a8090" stroke-width="0.75" opacity="0.75" filter="url(#pb3)"/><line x1="166.6" y1="260.0" x2="169.9" y2="247.7" stroke="#b8dcdc" stroke-width="1.40" opacity="0.75" filter="url(#pb3)"/><line x1="135.7" y1="273.6" x2="137.5" y2="265.9" stroke="#b8dcdc" stroke-width="1.40" opacity="0.75" filter="url(#pb3)"/><line x1="131.5" y1="272.0" x2="134.8" y2="267.3" stroke="#3a8090" stroke-width="0.61" opacity="0.75" filter="url(#pb3)"/><line x1="169.8" y1="253.5" x2="177.0" y2="240.3" stroke="#b8dcdc" stroke-width="1.13" opacity="0.75" filter="url(#pb3)"/><line x1="138.0" y1="240.6" x2="139.6" y2="234.0" stroke="#4a929a" stroke-width="1.53" opacity="0.75" filter="url(#pb3)"/><line x1="154.4" y1="258.3" x2="157.4" y2="251.7" stroke="#60a8b0" stroke-width="0.78" opacity="0.75" filter="url(#pb3)"/><line x1="142.6" y1="236.8" x2="144.3" y2="229.2" stroke="#60a8b0" stroke-width="1.11" opacity="0.75" filter="url(#pb3)"/><line x1="169.1" y1="257.6" x2="172.2" y2="250.6" stroke="#60a8b0" stroke-width="1.42" opacity="0.75" filter="url(#pb3)"/><line x1="146.2" y1="256.8" x2="151.6" y2="243.7" stroke="#d0eaea" stroke-width="0.91" opacity="0.75" filter="url(#pb3)"/><line x1="137.0" y1="245.6" x2="141.2" y2="239.8" stroke="#60a8b0" stroke-width="1.24" opacity="0.75" filter="url(#pb3)"/><line x1="145.0" y1="250.6" x2="146.5" y2="245.2" stroke="#b8dcdc" stroke-width="1.23" opacity="0.75" filter="url(#pb3)"/><line x1="165.0" y1="254.1" x2="167.7" y2="249.2" stroke="#3a8090" stroke-width="1.47" opacity="0.75" filter="url(#pb3)"/><line x1="156.2" y1="247.8" x2="158.8" y2="240.6" stroke="#3a8090" stroke-width="0.79" opacity="0.75" filter="url(#pb3)"/><line x1="139.3" y1="236.2" x2="142.5" y2="227.8" stroke="#d0eaea" stroke-width="0.92" opacity="0.75" filter="url(#pb3)"/><line x1="129.4" y1="273.1" x2="131.7" y2="266.0" stroke="#9cccd0" stroke-width="0.98" opacity="0.75" filter="url(#pb3)"/><line x1="147.9" y1="257.1" x2="151.1" y2="250.6" stroke="#b8dcdc" stroke-width="0.69" opacity="0.75" filter="url(#pb3)"/><line x1="162.3" y1="242.0" x2="166.8" y2="231.5" stroke="#9cccd0" stroke-width="0.90" opacity="0.75" filter="url(#pb3)"/><line x1="137.8" y1="260.6" x2="143.5" y2="251.4" stroke="#60a8b0" stroke-width="1.49" opacity="0.75" filter="url(#pb3)"/><line x1="160.9" y1="261.1" x2="167.9" y2="249.6" stroke="#3a8090" stroke-width="0.75" opacity="0.75" filter="url(#pb3)"/><line x1="158.4" y1="263.0" x2="161.5" y2="258.5" stroke="#d0eaea" stroke-width="1.23" opacity="0.75" filter="url(#pb3)"/><line x1="158.8" y1="270.1" x2="161.7" y2="264.2" stroke="#d0eaea" stroke-width="1.17" opacity="0.75" filter="url(#pb3)"/><line x1="162.1" y1="236.7" x2="169.0" y2="226.2" stroke="#60a8b0" stroke-width="1.28" opacity="0.75" filter="url(#pb3)"/><line x1="157.1" y1="245.7" x2="158.6" y2="240.5" stroke="#9cccd0" stroke-width="1.56" opacity="0.75" filter="url(#pb3)"/><line x1="143.8" y1="255.0" x2="145.1" y2="249.5" stroke="#d0eaea" stroke-width="1.28" opacity="0.75" filter="url(#pb3)"/><line x1="148.6" y1="236.1" x2="155.8" y2="224.5" stroke="#d0eaea" stroke-width="1.50" opacity="0.75" filter="url(#pb3)"/><line x1="131.9" y1="258.1" x2="137.4" y2="246.1" stroke="#2e7480" stroke-width="0.67" opacity="0.75" filter="url(#pb3)"/><line x1="139.2" y1="266.6" x2="143.0" y2="260.5" stroke="#3a8090" stroke-width="1.09" opacity="0.75" filter="url(#pb3)"/><line x1="144.1" y1="256.1" x2="150.8" y2="245.5" stroke="#d0eaea" stroke-width="1.23" opacity="0.75" filter="url(#pb3)"/><line x1="136.3" y1="261.2" x2="140.6" y2="253.7" stroke="#60a8b0" stroke-width="0.90" opacity="0.75" filter="url(#pb3)"/><line x1="151.8" y1="236.5" x2="153.7" y2="231.2" stroke="#60a8b0" stroke-width="0.70" opacity="0.75" filter="url(#pb3)"/><line x1="137.1" y1="256.6" x2="141.5" y2="244.5" stroke="#3a8090" stroke-width="1.07" opacity="0.75" filter="url(#pb3)"/><line x1="133.0" y1="273.5" x2="137.4" y2="267.9" stroke="#3a8090" stroke-width="0.62" opacity="0.75" filter="url(#pb3)"/><line x1="147.3" y1="270.4" x2="153.7" y2="256.2" stroke="#9cccd0" stroke-width="0.99" opacity="0.75" filter="url(#pb3)"/><line x1="166.5" y1="275.1" x2="168.0" y2="269.5" stroke="#60a8b0" stroke-width="1.12" opacity="0.75" filter="url(#pb3)"/><line x1="168.0" y1="241.6" x2="174.1" y2="228.9" stroke="#b8dcdc" stroke-width="1.30" opacity="0.75" filter="url(#pb3)"/><line x1="137.7" y1="273.7" x2="140.1" y2="263.6" stroke="#b8dcdc" stroke-width="1.55" opacity="0.75" filter="url(#pb3)"/><line x1="156.6" y1="253.0" x2="161.8" y2="241.1" stroke="#3a8090" stroke-width="0.92" opacity="0.75" filter="url(#pb3)"/><line x1="163.3" y1="236.1" x2="170.8" y2="225.1" stroke="#b8dcdc" stroke-width="1.54" opacity="0.75" filter="url(#pb3)"/><rect x="130.4" y="232.3" width="4" height="43.6" fill="#8a7e6a" opacity="0.45" filter="url(#pb2)"/></g><rect x="151.6" y="252.6" width="20.7" height="22.5" fill="url(#gi3)"/>
<path d="M209.20 149.17V291.10M217.13 149.17V291.10M225.06 149.17V291.10M232.99 149.17V291.10M240.92 149.17V291.10M248.85 149.17V291.10M256.78 149.17V291.10M264.71 149.17V291.10M272.64 149.17V291.10M280.57 149.17V291.10M288.50 149.17V291.10M296.43 149.17V291.10M304.36 149.17V291.10M312.29 149.17V291.10M320.22 149.17V291.10M328.15 149.17V291.10M336.08 149.17V291.10M209.20 291.10H336.08M209.20 283.22H336.08M209.20 275.33H336.08M209.20 267.45H336.08M209.20 259.56H336.08M209.20 251.68H336.08M209.20 243.79H336.08M209.20 235.91H336.08M209.20 228.02H336.08M209.20 220.14H336.08M209.20 212.25H336.08M209.20 204.37H336.08M209.20 196.48H336.08M209.20 188.60H336.08M209.20 180.71H336.08M209.20 172.83H336.08M209.20 164.94H336.08M209.20 157.06H336.08M209.20 149.17H336.08" stroke="#d2d2d2" stroke-width="0.55" fill="none"/><line x1="225.06" y1="149.17" x2="336.08" y2="259.56" stroke="#9a9a9a" stroke-width="0.6"/><clipPath id="cie"><path d="M236.81 290.31L236.76 290.33L236.69 290.34L236.57 290.34L236.38 290.30L235.99 290.01L235.27 289.38L234.75 288.92L234.04 288.31L233.15 287.52L232.04 286.42L230.69 284.81L228.88 281.98L226.58 277.41L223.68 270.17L220.10 259.45L216.40 244.58L212.93 226.02L210.50 206.19L209.82 187.84L211.40 172.79L215.37 163.05L220.98 159.61L227.31 160.81L233.74 164.01L239.79 167.84L245.61 172.15L251.36 176.88L257.03 181.92L262.70 187.19L268.37 192.62L274.02 198.12L279.63 203.62L285.14 209.06L290.48 214.36L295.61 219.44L300.43 224.20L304.82 228.57L308.64 232.36L312.00 235.68L314.80 238.43L317.06 240.68L318.87 242.48L320.32 243.90L321.47 245.05L323.23 246.80L324.34 247.89L324.98 248.52L325.52 249.06L325.72 249.26Z"/></clipPath><filter id="cieb" x="-5%" y="-5%" width="110%" height="110%"><feGaussianBlur stdDeviation="1.1"/></filter><defs><linearGradient id="cg0" x1="0" x2="0" y1="0" y2="1"><stop offset="0.000" stop-color="#00ef26"/><stop offset="0.029" stop-color="#00ef2d"/><stop offset="0.059" stop-color="#00ef35"/><stop offset="0.088" stop-color="#00ef3c"/><stop offset="0.118" stop-color="#00ef44"/><stop offset="0.147" stop-color="#00ef4c"/><stop offset="0.176" stop-color="#00ee54"/><stop offset="0.206" stop-color="#00ee5b"/><stop offset="0.235" stop-color="#00ee63"/><stop offset="0.265" stop-color="#00ee6b"/><stop offset="0.294" stop-color="#00ee73"/><stop offset="0.324" stop-color="#00ee7b"/><stop offset="0.353" stop-color="#00ee84"/><stop offset="0.382" stop-color="#00ee8d"/><stop offset="0.412" stop-color="#00ee97"/><stop offset="0.441" stop-color="#00eea1"/><stop offset="0.471" stop-color="#00eeab"/><stop offset="0.500" stop-color="#00eeb6"/><stop offset="0.529" stop-color="#00eec1"/><stop offset="0.559" stop-color="#00efcc"/><stop offset="0.588" stop-color="#00efd8"/><stop offset="0.618" stop-color="#00f0e4"/><stop offset="0.647" stop-color="#00f1f1"/><stop offset="0.676" stop-color="#00e6f2"/><stop offset="0.706" stop-color="#00dbf3"/><stop offset="0.735" stop-color="#00cff4"/><stop offset="0.765" stop-color="#00c4f4"/><stop offset="0.794" stop-color="#00b8f5"/><stop offset="0.824" stop-color="#00acf6"/><stop offset="0.853" stop-color="#00a0f7"/><stop offset="0.882" stop-color="#0093f8"/><stop offset="0.912" stop-color="#0086f9"/><stop offset="0.941" stop-color="#0079f9"/><stop offset="0.971" stop-color="#006cfa"/><stop offset="1.000" stop-color="#0066fa"/></linearGradient><linearGradient id="cg1" x1="0" x2="0" y1="0" y2="1"><stop offset="0.000" stop-color="#00ef1f"/><stop offset="0.029" stop-color="#00ef27"/><stop offset="0.059" stop-color="#00ef2e"/><stop offset="0.088" stop-color="#00ef36"/><stop offset="0.118" stop-color="#00ef3e"/><stop offset="0.147" stop-color="#00ef46"/><stop offset="0.176" stop-color="#00ee4e"/><stop offset="0.206" stop-color="#00ee55"/><stop offset="0.235" stop-color="#00ee5d"/><stop offset="0.265" stop-color="#00ee65"/><stop offset="0.294" stop-color="#00ee6d"/><stop offset="0.324" stop-color="#00ee76"/><stop offset="0.353" stop-color="#00ee7f"/><stop offset="0.382" stop-color="#00ee88"/><stop offset="0.412" stop-color="#00ed92"/><stop offset="0.441" stop-color="#00ed9c"/><stop offset="0.471" stop-color="#00eea7"/><stop offset="0.500" stop-color="#00eeb1"/><stop offset="0.529" stop-color="#00eebd"/><stop offset="0.559" stop-color="#00efc9"/><stop offset="0.588" stop-color="#00efd5"/><stop offset="0.618" stop-color="#00f0e2"/><stop offset="0.647" stop-color="#00f1ef"/><stop offset="0.676" stop-color="#00e7f2"/><stop offset="0.706" stop-color="#00dcf3"/><stop offset="0.735" stop-color="#00d0f4"/><stop offset="0.765" stop-color="#00c4f5"/><stop offset="0.794" stop-color="#00b7f6"/><stop offset="0.824" stop-color="#00aaf6"/><stop offset="0.853" stop-color="#009ef7"/><stop offset="0.882" stop-color="#0090f8"/><stop offset="0.912" stop-color="#0083f9"/><stop offset="0.941" stop-color="#0075f9"/><stop offset="0.971" stop-color="#0068fa"/><stop offset="1.000" stop-color="#0061fa"/></linearGradient><linearGradient id="cg2" x1="0" x2="0" y1="0" y2="1"><stop offset="0.000" stop-color="#00ef18"/><stop offset="0.029" stop-color="#00ef20"/><stop offset="0.059" stop-color="#00ef28"/><stop offset="0.088" stop-color="#00ef30"/><stop offset="0.118" stop-color="#00ef38"/><stop offset="0.147" stop-color="#00ef40"/><stop offset="0.176" stop-color="#00ef47"/><stop offset="0.206" stop-color="#00ee4f"/><stop offset="0.235" stop-color="#00ee57"/><stop offset="0.265" stop-color="#00ee5f"/><stop offset="0.294" stop-color="#00ee67"/><stop offset="0.324" stop-color="#00ee70"/><stop offset="0.353" stop-color="#00ee79"/><stop offset="0.382" stop-color="#00ed83"/><stop offset="0.412" stop-color="#00ed8d"/><stop offset="0.441" stop-color="#00ed97"/><stop offset="0.471" stop-color="#00eda2"/><stop offset="0.500" stop-color="#00eead"/><stop offset="0.529" stop-color="#00eeb8"/><stop offset="0.559" stop-color="#00eec5"/><stop offset="0.588" stop-color="#00efd1"/><stop offset="0.618" stop-color="#00f0df"/><stop offset="0.647" stop-color="#00f1ec"/><stop offset="0.676" stop-color="#00e9f2"/><stop offset="0.706" stop-color="#00dcf3"/><stop offset="0.735" stop-color="#00d0f4"/><stop offset="0.765" stop-color="#00c3f5"/><stop offset="0.794" stop-color="#00b6f6"/><stop offset="0.824" stop-color="#00a9f7"/><stop offset="0.853" stop-color="#009bf7"/><stop offset="0.882" stop-color="#008df8"/><stop offset="0.912" stop-color="#007ff9"/><stop offset="0.941" stop-color="#0070fa"/><stop offset="0.971" stop-color="#0062fa"/><stop offset="1.000" stop-color="#005cfa"/></linearGradient><linearGradient id="cg3" x1="0" x2="0" y1="0" y2="1"><stop offset="0.000" stop-color="#00ef12"/><stop offset="0.029" stop-color="#00ef19"/><stop offset="0.059" stop-color="#00ef21"/><stop offset="0.088" stop-color="#00ef29"/><stop offset="0.118" stop-color="#00ef31"/><stop offset="0.147" stop-color="#00ef39"/><stop offset="0.176" stop-color="#00ef41"/><stop offset="0.206" stop-color="#00ee49"/><stop offset="0.235" stop-color="#00ee51"/><stop offset="0.265" stop-color="#00ee59"/><stop offset="0.294" stop-color="#00ee61"/><stop offset="0.324" stop-color="#00ee6a"/><stop offset="0.353" stop-color="#00ee73"/><stop offset="0.382" stop-color="#00ed7d"/><stop offset="0.412" stop-color="#00ed87"/><stop offset="0.441" stop-color="#00ed91"/><stop offset="0.471" stop-color="#00ed9c"/><stop offset="0.500" stop-color="#00eda8"/><stop offset="0.529" stop-color="#00eeb4"/><stop offset="0.559" stop-color="#00eec0"/><stop offset="0.588" stop-color="#00efce"/><stop offset="0.618" stop-color="#00f0dc"/><stop offset="0.647" stop-color="#00f1ea"/><stop offset="0.676" stop-color="#00eaf2"/><stop offset="0.706" stop-color="#00ddf3"/><stop offset="0.735" stop-color="#00d0f4"/><stop offset="0.765" stop-color="#00c3f5"/><stop offset="0.794" stop-color="#00b5f6"/><stop offset="0.824" stop-color="#00a6f7"/><stop offset="0.853" stop-color="#0098f7"/><stop offset="0.882" stop-color="#0089f8"/><stop offset="0.912" stop-color="#007af9"/><stop offset="0.941" stop-color="#006bfa"/><stop offset="0.971" stop-color="#005cfa"/><stop offset="1.000" stop-color="#0055fa"/></linearGradient><linearGradient id="cg4" x1="0" x2="0" y1="0" y2="1"><stop offset="0.000" stop-color="#00ef0b"/><stop offset="0.029" stop-color="#00ef13"/><stop offset="0.059" stop-color="#00ef1a"/><stop offset="0.088" stop-color="#00ef23"/><stop offset="0.118" stop-color="#00ef2b"/><stop offset="0.147" stop-color="#00ef33"/><stop offset="0.176" stop-color="#00ef3b"/><stop offset="0.206" stop-color="#00ef43"/><stop offset="0.235" stop-color="#00ee4b"/><stop offset="0.265" stop-color="#00ee53"/><stop offset="0.294" stop-color="#00ee5b"/><stop offset="0.324" stop-color="#00ee64"/><stop offset="0.353" stop-color="#00ee6d"/><stop offset="0.382" stop-color="#00ed77"/><stop offset="0.412" stop-color="#00ed81"/><stop offset="0.441" stop-color="#00ed8c"/><stop offset="0.471" stop-color="#00ed97"/><stop offset="0.500" stop-color="#00eda3"/><stop offset="0.529" stop-color="#00eeaf"/><stop offset="0.559" stop-color="#00eebc"/><stop offset="0.588" stop-color="#00efca"/><stop offset="0.618" stop-color="#00f0d8"/><stop offset="0.647" stop-color="#00f1e7"/><stop offset="0.676" stop-color="#00ecf2"/><stop offset="0.706" stop-color="#00def3"/><stop offset="0.735" stop-color="#00d0f4"/><stop offset="0.765" stop-color="#00c2f5"/><stop offset="0.794" stop-color="#00b3f6"/><stop offset="0.824" stop-color="#00a4f7"/><stop offset="0.853" stop-color="#0094f8"/><stop offset="0.882" stop-color="#0085f8"/><stop offset="0.912" stop-color="#0075f9"/><stop offset="0.941" stop-color="#0065fa"/><stop offset="0.971" stop-color="#0055fa"/><stop offset="1.000" stop-color="#004efb"/></linearGradient><linearGradient id="cg5" x1="0" x2="0" y1="0" y2="1"><stop offset="0.000" stop-color="#00f004"/><stop offset="0.029" stop-color="#00ef0c"/><stop offset="0.059" stop-color="#00ef14"/><stop offset="0.088" stop-color="#00ef1c"/><stop offset="0.118" stop-color="#00ef24"/><stop offset="0.147" stop-color="#00ef2c"/><stop offset="0.176" stop-color="#00ef34"/><stop offset="0.206" stop-color="#00ef3c"/><stop offset="0.235" stop-color="#00ee44"/><stop offset="0.265" stop-color="#00ee4c"/><stop offset="0.294" stop-color="#00ee55"/><stop offset="0.324" stop-color="#00ee5e"/><stop offset="0.353" stop-color="#00ee67"/><stop offset="0.382" stop-color="#00ed71"/><stop offset="0.412" stop-color="#00ed7b"/><stop offset="0.441" stop-color="#00ed86"/><stop offset="0.471" stop-color="#00ed91"/><stop offset="0.500" stop-color="#00ed9d"/><stop offset="0.529" stop-color="#01eeaa"/><stop offset="0.559" stop-color="#02eeb8"/><stop offset="0.588" stop-color="#03efc6"/><stop offset="0.618" stop-color="#03f0d5"/><stop offset="0.647" stop-color="#04f1e5"/><stop offset="0.676" stop-color="#03eef2"/><stop offset="0.706" stop-color="#02dff3"/><stop offset="0.735" stop-color="#01d0f4"/><stop offset="0.765" stop-color="#00c1f5"/><stop offset="0.794" stop-color="#00b1f6"/><stop offset="0.824" stop-color="#00a1f7"/><stop offset="0.853" stop-color="#0090f8"/><stop offset="0.882" stop-color="#007ff8"/><stop offset="0.912" stop-color="#006ef9"/><stop offset="0.941" stop-color="#005efa"/><stop offset="0.971" stop-color="#004dfa"/><stop offset="1.000" stop-color="#0045fb"/></linearGradient><linearGradient id="cg6" x1="0" x2="0" y1="0" y2="1"><stop offset="0.000" stop-color="#02f000"/><stop offset="0.029" stop-color="#00f005"/><stop offset="0.059" stop-color="#00f00d"/><stop offset="0.088" stop-color="#00ef15"/><stop offset="0.118" stop-color="#00ef1e"/><stop offset="0.147" stop-color="#00ef26"/><stop offset="0.176" stop-color="#01ef2f"/><stop offset="0.206" stop-color="#02ef37"/><stop offset="0.235" stop-color="#02ee40"/><stop offset="0.265" stop-color="#02ee48"/><stop offset="0.294" stop-color="#02ee50"/><stop offset="0.324" stop-color="#02ee59"/><stop offset="0.353" stop-color="#02ee62"/><stop offset="0.382" stop-color="#03ed6c"/><stop offset="0.412" stop-color="#03ed77"/><stop offset="0.441" stop-color="#04ed82"/><stop offset="0.471" stop-color="#05ed8e"/><stop offset="0.500" stop-color="#06ed9a"/><stop offset="0.529" stop-color="#08eea7"/><stop offset="0.559" stop-color="#09eeb5"/><stop offset="0.588" stop-color="#0befc4"/><stop offset="0.618" stop-color="#0cf0d3"/><stop offset="0.647" stop-color="#0df1e3"/><stop offset="0.676" stop-color="#0df0f2"/><stop offset="0.706" stop-color="#0de1f3"/><stop offset="0.735" stop-color="#0cd1f4"/><stop offset="0.765" stop-color="#0bc1f5"/><stop offset="0.794" stop-color="#09b1f6"/><stop offset="0.824" stop-color="#079ff7"/><stop offset="0.853" stop-color="#048df8"/><stop offset="0.882" stop-color="#017af8"/><stop offset="0.912" stop-color="#0067f9"/><stop offset="0.941" stop-color="#0055fa"/><stop offset="0.971" stop-color="#0044fa"/><stop offset="1.000" stop-color="#003cfb"/></linearGradient><linearGradient id="cg7" x1="0" x2="0" y1="0" y2="1"><stop offset="0.000" stop-color="#09f000"/><stop offset="0.029" stop-color="#01f000"/><stop offset="0.059" stop-color="#00f007"/><stop offset="0.088" stop-color="#00f00f"/><stop offset="0.118" stop-color="#00ef18"/><stop offset="0.147" stop-color="#02ef21"/><stop offset="0.176" stop-color="#03ef2a"/><stop offset="0.206" stop-color="#03ef32"/><stop offset="0.235" stop-color="#04ef3b"/><stop offset="0.265" stop-color="#04ee43"/><stop offset="0.294" stop-color="#05ee4b"/><stop offset="0.324" stop-color="#05ee54"/><stop offset="0.353" stop-color="#06ee5e"/><stop offset="0.382" stop-color="#06ee68"/><stop offset="0.412" stop-color="#07ed73"/><stop offset="0.441" stop-color="#08ed7e"/><stop offset="0.471" stop-color="#0aed8a"/><stop offset="0.500" stop-color="#0ced97"/><stop offset="0.529" stop-color="#0feea4"/><stop offset="0.559" stop-color="#11eeb2"/><stop offset="0.588" stop-color="#14efc1"/><stop offset="0.618" stop-color="#16f0d1"/><stop offset="0.647" stop-color="#17f1e1"/><stop offset="0.676" stop-color="#18f1f2"/><stop offset="0.706" stop-color="#19e2f3"/><stop offset="0.735" stop-color="#18d3f4"/><stop offset="0.765" stop-color="#17c2f5"/><stop offset="0.794" stop-color="#16b1f6"/><stop offset="0.824" stop-color="#149ff7"/><stop offset="0.853" stop-color="#118df7"/><stop offset="0.882" stop-color="#0d79f8"/><stop offset="0.912" stop-color="#0964f9"/><stop offset="0.941" stop-color="#034dfa"/><stop offset="0.971" stop-color="#0039fa"/><stop offset="1.000" stop-color="#0031fb"/></linearGradient><linearGradient id="cg8" x1="0" x2="0" y1="0" y2="1"><stop offset="0.000" stop-color="#10f000"/><stop offset="0.029" stop-color="#08f000"/><stop offset="0.059" stop-color="#00f000"/><stop offset="0.088" stop-color="#00f008"/><stop offset="0.118" stop-color="#01ef12"/><stop offset="0.147" stop-color="#03ef1b"/><stop offset="0.176" stop-color="#04ef24"/><stop offset="0.206" stop-color="#05ef2d"/><stop offset="0.235" stop-color="#06ef35"/><stop offset="0.265" stop-color="#06ee3e"/><stop offset="0.294" stop-color="#07ee47"/><stop offset="0.324" stop-color="#08ee50"/><stop offset="0.353" stop-color="#09ee59"/><stop offset="0.382" stop-color="#0aee64"/><stop offset="0.412" stop-color="#0bed6e"/><stop offset="0.441" stop-color="#0ded7a"/><stop offset="0.471" stop-color="#10ed86"/><stop offset="0.500" stop-color="#12ee93"/><stop offset="0.529" stop-color="#16eea1"/><stop offset="0.559" stop-color="#19eeb0"/><stop offset="0.588" stop-color="#1cefbf"/><stop offset="0.618" stop-color="#20f0cf"/><stop offset="0.647" stop-color="#22f1df"/><stop offset="0.676" stop-color="#24f2f0"/><stop offset="0.706" stop-color="#25e4f3"/><stop offset="0.735" stop-color="#25d3f4"/><stop offset="0.765" stop-color="#24c3f5"/><stop offset="0.794" stop-color="#23b1f6"/><stop offset="0.824" stop-color="#219ff6"/><stop offset="0.853" stop-color="#1e8cf7"/><stop offset="0.882" stop-color="#1a78f8"/><stop offset="0.912" stop-color="#1562f9"/><stop offset="0.941" stop-color="#0e4afa"/><stop offset="0.971" stop-color="#0632fa"/><stop offset="1.000" stop-color="#0126fb"/></linearGradient><linearGradient id="cg9" x1="0" x2="0" y1="0" y2="1"><stop offset="0.000" stop-color="#16f000"/><stop offset="0.029" stop-color="#0ff000"/><stop offset="0.059" stop-color="#07f000"/><stop offset="0.088" stop-color="#00f002"/><stop offset="0.118" stop-color="#02f00c"/><stop offset="0.147" stop-color="#04ef15"/><stop offset="0.176" stop-color="#05ef1f"/><stop offset="0.206" stop-color="#06ef27"/><stop offset="0.235" stop-color="#07ef30"/><stop offset="0.265" stop-color="#08ef39"/><stop offset="0.294" stop-color="#09ee41"/><stop offset="0.324" stop-color="#0aee4b"/><stop offset="0.353" stop-color="#0bee54"/><stop offset="0.382" stop-color="#0dee5f"/><stop offset="0.412" stop-color="#0fee6a"/><stop offset="0.441" stop-color="#12ee76"/><stop offset="0.471" stop-color="#15ee82"/><stop offset="0.500" stop-color="#19ee90"/><stop offset="0.529" stop-color="#1dee9e"/><stop offset="0.559" stop-color="#21efad"/><stop offset="0.588" stop-color="#26efbd"/><stop offset="0.618" stop-color="#2af0cd"/><stop offset="0.647" stop-color="#2df1de"/><stop offset="0.676" stop-color="#30f2ef"/><stop offset="0.706" stop-color="#32e5f3"/><stop offset="0.735" stop-color="#32d4f4"/><stop offset="0.765" stop-color="#32c3f5"/><stop offset="0.794" stop-color="#31b1f6"/><stop offset="0.824" stop-color="#2e9ef6"/><stop offset="0.853" stop-color="#2b8bf7"/><stop offset="0.882" stop-color="#2775f8"/><stop offset="0.912" stop-color="#215ff9"/><stop offset="0.941" stop-color="#1946fa"/><stop offset="0.971" stop-color="#102cfa"/><stop offset="1.000" stop-color="#0b20fa"/></linearGradient><linearGradient id="cg10" x1="0" x2="0" y1="0" y2="1"><stop offset="0.000" stop-color="#1df000"/><stop offset="0.029" stop-color="#15f000"/><stop offset="0.059" stop-color="#0df000"/><stop offset="0.088" stop-color="#05f000"/><stop offset="0.118" stop-color="#02f005"/><stop offset="0.147" stop-color="#04f00f"/><stop offset="0.176" stop-color="#06ef19"/><stop offset="0.206" stop-color="#07ef22"/><stop offset="0.235" stop-color="#08ef2a"/><stop offset="0.265" stop-color="#0aef33"/><stop offset="0.294" stop-color="#0bef3c"/><stop offset="0.324" stop-color="#0cee45"/><stop offset="0.353" stop-color="#0eee4f"/><stop offset="0.382" stop-color="#11ee5a"/><stop offset="0.412" stop-color="#13ee65"/><stop offset="0.441" stop-color="#17ee72"/><stop offset="0.471" stop-color="#1bee7f"/><stop offset="0.500" stop-color="#1fee8c"/><stop offset="0.529" stop-color="#24ee9b"/><stop offset="0.559" stop-color="#2aefaa"/><stop offset="0.588" stop-color="#2ff0ba"/><stop offset="0.618" stop-color="#35f0cb"/><stop offset="0.647" stop-color="#39f1dc"/><stop offset="0.676" stop-color="#3df2ee"/><stop offset="0.706" stop-color="#3fe6f3"/><stop offset="0.735" stop-color="#40d5f4"/><stop offset="0.765" stop-color="#40c3f5"/><stop offset="0.794" stop-color="#3fb1f5"/><stop offset="0.824" stop-color="#3d9df6"/><stop offset="0.853" stop-color="#3989f7"/><stop offset="0.882" stop-color="#3373f8"/><stop offset="0.912" stop-color="#2c5bf9"/><stop offset="0.941" stop-color="#2441f9"/><stop offset="0.971" stop-color="#1926fa"/><stop offset="1.000" stop-color="#1319fa"/></linearGradient><linearGradient id="cg11" x1="0" x2="0" y1="0" y2="1"><stop offset="0.000" stop-color="#24f100"/><stop offset="0.029" stop-color="#1cf000"/><stop offset="0.059" stop-color="#14f000"/><stop offset="0.088" stop-color="#0cf000"/><stop offset="0.118" stop-color="#06f002"/><stop offset="0.147" stop-color="#04f009"/><stop offset="0.176" stop-color="#06f012"/><stop offset="0.206" stop-color="#08ef1b"/><stop offset="0.235" stop-color="#09ef24"/><stop offset="0.265" stop-color="#0bef2d"/><stop offset="0.294" stop-color="#0def36"/><stop offset="0.324" stop-color="#0fef40"/><stop offset="0.353" stop-color="#11ee4a"/><stop offset="0.382" stop-color="#14ee55"/><stop offset="0.412" stop-color="#17ee61"/><stop offset="0.441" stop-color="#1bee6d"/><stop offset="0.471" stop-color="#20ee7b"/><stop offset="0.500" stop-color="#26ee89"/><stop offset="0.529" stop-color="#2cef98"/><stop offset="0.559" stop-color="#33efa8"/><stop offset="0.588" stop-color="#39f0b8"/><stop offset="0.618" stop-color="#40f1c9"/><stop offset="0.647" stop-color="#46f1db"/><stop offset="0.676" stop-color="#4bf2ed"/><stop offset="0.706" stop-color="#4ee6f3"/><stop offset="0.735" stop-color="#4fd5f4"/><stop offset="0.765" stop-color="#4fc3f5"/><stop offset="0.794" stop-color="#4eb0f5"/><stop offset="0.824" stop-color="#4b9bf6"/><stop offset="0.853" stop-color="#4686f7"/><stop offset="0.882" stop-color="#406ef8"/><stop offset="0.912" stop-color="#3755f9"/><stop offset="0.941" stop-color="#2d3af9"/><stop offset="0.971" stop-color="#2421fa"/><stop offset="1.000" stop-color="#251bfa"/></linearGradient><linearGradient id="cg12" x1="0" x2="0" y1="0" y2="1"><stop offset="0.000" stop-color="#2af100"/><stop offset="0.029" stop-color="#23f100"/><stop offset="0.059" stop-color="#1bf100"/><stop offset="0.088" stop-color="#13f000"/><stop offset="0.118" stop-color="#0df002"/><stop offset="0.147" stop-color="#07f005"/><stop offset="0.176" stop-color="#07f00c"/><stop offset="0.206" stop-color="#09f015"/><stop offset="0.235" stop-color="#0bef1e"/><stop offset="0.265" stop-color="#0cef27"/><stop offset="0.294" stop-color="#0fef30"/><stop offset="0.324" stop-color="#11ef3a"/><stop offset="0.353" stop-color="#14ef44"/><stop offset="0.382" stop-color="#17ef50"/><stop offset="0.412" stop-color="#1bee5c"/><stop offset="0.441" stop-color="#20ee69"/><stop offset="0.471" stop-color="#26ee77"/><stop offset="0.500" stop-color="#2def85"/><stop offset="0.529" stop-color="#34ef95"/><stop offset="0.559" stop-color="#3cf0a5"/><stop offset="0.588" stop-color="#44f0b6"/><stop offset="0.618" stop-color="#4cf1c8"/><stop offset="0.647" stop-color="#53f2da"/><stop offset="0.676" stop-color="#59f2ed"/><stop offset="0.706" stop-color="#5de7f3"/><stop offset="0.735" stop-color="#5fd5f4"/><stop offset="0.765" stop-color="#5fc2f5"/><stop offset="0.794" stop-color="#5eaef5"/><stop offset="0.824" stop-color="#5a99f6"/><stop offset="0.853" stop-color="#5382f7"/><stop offset="0.882" stop-color="#4b69f8"/><stop offset="0.912" stop-color="#414df8"/><stop offset="0.941" stop-color="#3a35f9"/><stop offset="0.971" stop-color="#3c27fa"/><stop offset="1.000" stop-color="#3c20fa"/></linearGradient><linearGradient id="cg13" x1="0" x2="0" y1="0" y2="1"><stop offset="0.000" stop-color="#31f100"/><stop offset="0.029" stop-color="#2af100"/><stop offset="0.059" stop-color="#22f100"/><stop offset="0.088" stop-color="#1af100"/><stop offset="0.118" stop-color="#14f002"/><stop offset="0.147" stop-color="#0ff004"/><stop offset="0.176" stop-color="#0af007"/><stop offset="0.206" stop-color="#09f00e"/><stop offset="0.235" stop-color="#0bf017"/><stop offset="0.265" stop-color="#0ef020"/><stop offset="0.294" stop-color="#10ef2a"/><stop offset="0.324" stop-color="#13ef34"/><stop offset="0.353" stop-color="#17ef3e"/><stop offset="0.382" stop-color="#1bef4a"/><stop offset="0.412" stop-color="#20ef56"/><stop offset="0.441" stop-color="#25ef64"/><stop offset="0.471" stop-color="#2cef72"/><stop offset="0.500" stop-color="#34ef82"/><stop offset="0.529" stop-color="#3cef92"/><stop offset="0.559" stop-color="#45f0a3"/><stop offset="0.588" stop-color="#4ff1b4"/><stop offset="0.618" stop-color="#59f1c7"/><stop offset="0.647" stop-color="#62f2d9"/><stop offset="0.676" stop-color="#69f3ec"/><stop offset="0.706" stop-color="#6ee7f3"/><stop offset="0.735" stop-color="#70d5f4"/><stop offset="0.765" stop-color="#70c1f5"/><stop offset="0.794" stop-color="#6dacf6"/><stop offset="0.824" stop-color="#6895f6"/><stop offset="0.853" stop-color="#607cf7"/><stop offset="0.882" stop-color="#5561f8"/><stop offset="0.912" stop-color="#4f49f8"/><stop offset="0.941" stop-color="#523bf9"/><stop offset="0.971" stop-color="#522cfa"/><stop offset="1.000" stop-color="#5224fa"/></linearGradient><linearGradient id="cg14" x1="0" x2="0" y1="0" y2="1"><stop offset="0.000" stop-color="#38f100"/><stop offset="0.029" stop-color="#31f100"/><stop offset="0.059" stop-color="#2af100"/><stop offset="0.088" stop-color="#22f100"/><stop offset="0.118" stop-color="#1bf101"/><stop offset="0.147" stop-color="#16f104"/><stop offset="0.176" stop-color="#11f007"/><stop offset="0.206" stop-color="#0df00a"/><stop offset="0.235" stop-color="#0cf010"/><stop offset="0.265" stop-color="#0ff019"/><stop offset="0.294" stop-color="#12f023"/><stop offset="0.324" stop-color="#16f02d"/><stop offset="0.353" stop-color="#1aef38"/><stop offset="0.382" stop-color="#1eef44"/><stop offset="0.412" stop-color="#24ef51"/><stop offset="0.441" stop-color="#2bef5f"/><stop offset="0.471" stop-color="#32ef6e"/><stop offset="0.500" stop-color="#3bf07e"/><stop offset="0.529" stop-color="#45f08e"/><stop offset="0.559" stop-color="#4ff0a0"/><stop offset="0.588" stop-color="#5bf1b3"/><stop offset="0.618" stop-color="#66f2c5"/><stop offset="0.647" stop-color="#71f2d9"/><stop offset="0.676" stop-color="#7af3ec"/><stop offset="0.706" stop-color="#7fe8f4"/><stop offset="0.735" stop-color="#82d4f4"/><stop offset="0.765" stop-color="#81c0f5"/><stop offset="0.794" stop-color="#7ca9f6"/><stop offset="0.824" stop-color="#7590f6"/><stop offset="0.853" stop-color="#6b75f7"/><stop offset="0.882" stop-color="#655ef8"/><stop offset="0.912" stop-color="#6850f8"/><stop offset="0.941" stop-color="#6940f9"/><stop offset="0.971" stop-color="#672ffa"/><stop offset="1.000" stop-color="#6627fa"/></linearGradient><linearGradient id="cg15" x1="0" x2="0" y1="0" y2="1"><stop offset="0.000" stop-color="#40f200"/><stop offset="0.029" stop-color="#39f100"/><stop offset="0.059" stop-color="#31f100"/><stop offset="0.088" stop-color="#2af100"/><stop offset="0.118" stop-color="#22f100"/><stop offset="0.147" stop-color="#1ef104"/><stop offset="0.176" stop-color="#1af107"/><stop offset="0.206" stop-color="#16f10a"/><stop offset="0.235" stop-color="#12f00d"/><stop offset="0.265" stop-color="#10f011"/><stop offset="0.294" stop-color="#14f01b"/><stop offset="0.324" stop-color="#18f026"/><stop offset="0.353" stop-color="#1cf031"/><stop offset="0.382" stop-color="#22f03d"/><stop offset="0.412" stop-color="#28f04a"/><stop offset="0.441" stop-color="#30f059"/><stop offset="0.471" stop-color="#39f069"/><stop offset="0.500" stop-color="#43f079"/><stop offset="0.529" stop-color="#4ef18b"/><stop offset="0.559" stop-color="#5af19e"/><stop offset="0.588" stop-color="#67f2b1"/><stop offset="0.618" stop-color="#74f2c4"/><stop offset="0.647" stop-color="#81f3d8"/><stop offset="0.676" stop-color="#8bf4ec"/><stop offset="0.706" stop-color="#92e8f4"/><stop offset="0.735" stop-color="#94d4f5"/><stop offset="0.765" stop-color="#91bef5"/><stop offset="0.794" stop-color="#8ba5f6"/><stop offset="0.824" stop-color="#8089f7"/><stop offset="0.853" stop-color="#7c73f7"/><stop offset="0.882" stop-color="#7e64f8"/><stop offset="0.912" stop-color="#7f53f9"/><stop offset="0.941" stop-color="#7e41f9"/><stop offset="0.971" stop-color="#7b2ffa"/><stop offset="1.000" stop-color="#7927fa"/></linearGradient><linearGradient id="cg16" x1="0" x2="0" y1="0" y2="1"><stop offset="0.000" stop-color="#47f200"/><stop offset="0.029" stop-color="#40f200"/><stop offset="0.059" stop-color="#39f200"/><stop offset="0.088" stop-color="#32f200"/><stop offset="0.118" stop-color="#2af100"/><stop offset="0.147" stop-color="#26f103"/><stop offset="0.176" stop-color="#22f107"/><stop offset="0.206" stop-color="#1ef10a"/><stop offset="0.235" stop-color="#1bf10d"/><stop offset="0.265" stop-color="#19f111"/><stop offset="0.294" stop-color="#17f115"/><stop offset="0.324" stop-color="#1af11e"/><stop offset="0.353" stop-color="#1ff029"/><stop offset="0.382" stop-color="#25f036"/><stop offset="0.412" stop-color="#2df044"/><stop offset="0.441" stop-color="#35f053"/><stop offset="0.471" stop-color="#3ff063"/><stop offset="0.500" stop-color="#4bf175"/><stop offset="0.529" stop-color="#57f187"/><stop offset="0.559" stop-color="#65f29b"/><stop offset="0.588" stop-color="#73f2af"/><stop offset="0.618" stop-color="#82f3c3"/><stop offset="0.647" stop-color="#91f3d8"/><stop offset="0.676" stop-color="#9df4ed"/><stop offset="0.706" stop-color="#a4e8f5"/><stop offset="0.735" stop-color="#a6d3f5"/><stop offset="0.765" stop-color="#a1baf6"/><stop offset="0.794" stop-color="#979ef6"/><stop offset="0.824" stop-color="#9289f7"/><stop offset="0.853" stop-color="#9478f8"/><stop offset="0.882" stop-color="#9467f8"/><stop offset="0.912" stop-color="#9354f9"/><stop offset="0.941" stop-color="#9141f9"/><stop offset="0.971" stop-color="#8d2efa"/><stop offset="1.000" stop-color="#8a25fa"/></linearGradient><linearGradient id="cg17" x1="0" x2="0" y1="0" y2="1"><stop offset="0.000" stop-color="#4ff200"/><stop offset="0.029" stop-color="#48f200"/><stop offset="0.059" stop-color="#42f200"/><stop offset="0.088" stop-color="#3af200"/><stop offset="0.118" stop-color="#33f200"/><stop offset="0.147" stop-color="#2ef202"/><stop offset="0.176" stop-color="#2af206"/><stop offset="0.206" stop-color="#27f10a"/><stop offset="0.235" stop-color="#25f10e"/><stop offset="0.265" stop-color="#23f112"/><stop offset="0.294" stop-color="#23f116"/><stop offset="0.324" stop-color="#22f11c"/><stop offset="0.353" stop-color="#23f122"/><stop offset="0.382" stop-color="#29f12e"/><stop offset="0.412" stop-color="#31f13c"/><stop offset="0.441" stop-color="#3bf14c"/><stop offset="0.471" stop-color="#46f15d"/><stop offset="0.500" stop-color="#53f26f"/><stop offset="0.529" stop-color="#60f283"/><stop offset="0.559" stop-color="#70f297"/><stop offset="0.588" stop-color="#80f3ad"/><stop offset="0.618" stop-color="#91f3c2"/><stop offset="0.647" stop-color="#a2f4d8"/><stop offset="0.676" stop-color="#b0f5ed"/><stop offset="0.706" stop-color="#b7e7f5"/><stop offset="0.735" stop-color="#b7d1f6"/><stop offset="0.765" stop-color="#adb5f6"/><stop offset="0.794" stop-color="#a99ff7"/><stop offset="0.824" stop-color="#aa8df8"/><stop offset="0.853" stop-color="#a97af8"/><stop offset="0.882" stop-color="#a866f9"/><stop offset="0.912" stop-color="#a652f9"/><stop offset="0.941" stop-color="#a23efa"/><stop offset="0.971" stop-color="#9d2bfa"/><stop offset="1.000" stop-color="#9a22fb"/></linearGradient><linearGradient id="cg18" x1="0" x2="0" y1="0" y2="1"><stop offset="0.000" stop-color="#56f300"/><stop offset="0.029" stop-color="#50f200"/><stop offset="0.059" stop-color="#4af200"/><stop offset="0.088" stop-color="#43f200"/><stop offset="0.118" stop-color="#3cf200"/><stop offset="0.147" stop-color="#36f201"/><stop offset="0.176" stop-color="#33f205"/><stop offset="0.206" stop-color="#31f209"/><stop offset="0.235" stop-color="#2ff20e"/><stop offset="0.265" stop-color="#2ef212"/><stop offset="0.294" stop-color="#2ff218"/><stop offset="0.324" stop-color="#2ff21d"/><stop offset="0.353" stop-color="#31f224"/><stop offset="0.382" stop-color="#33f22c"/><stop offset="0.412" stop-color="#37f235"/><stop offset="0.441" stop-color="#40f244"/><stop offset="0.471" stop-color="#4cf256"/><stop offset="0.500" stop-color="#5af269"/><stop offset="0.529" stop-color="#6af37e"/><stop offset="0.559" stop-color="#7af393"/><stop offset="0.588" stop-color="#8df4aa"/><stop offset="0.618" stop-color="#a0f4c1"/><stop offset="0.647" stop-color="#b3f5d8"/><stop offset="0.676" stop-color="#c2f5ee"/><stop offset="0.706" stop-color="#cae7f6"/><stop offset="0.735" stop-color="#c5cdf6"/><stop offset="0.765" stop-color="#c0b6f7"/><stop offset="0.794" stop-color="#bfa3f7"/><stop offset="0.824" stop-color="#be8ef8"/><stop offset="0.853" stop-color="#bc78f9"/><stop offset="0.882" stop-color="#ba63f9"/><stop offset="0.912" stop-color="#b74ef9"/><stop offset="0.941" stop-color="#b23afa"/><stop offset="0.971" stop-color="#ac27fb"/><stop offset="1.000" stop-color="#aa1efb"/></linearGradient><linearGradient id="cg19" x1="0" x2="0" y1="0" y2="1"><stop offset="0.000" stop-color="#5ef300"/><stop offset="0.029" stop-color="#59f300"/><stop offset="0.059" stop-color="#53f300"/><stop offset="0.088" stop-color="#4cf300"/><stop offset="0.118" stop-color="#46f300"/><stop offset="0.147" stop-color="#40f300"/><stop offset="0.176" stop-color="#3df204"/><stop offset="0.206" stop-color="#3bf209"/><stop offset="0.235" stop-color="#3af20e"/><stop offset="0.265" stop-color="#3af213"/><stop offset="0.294" stop-color="#3bf218"/><stop offset="0.324" stop-color="#3df21f"/><stop offset="0.353" stop-color="#40f226"/><stop offset="0.382" stop-color="#43f22f"/><stop offset="0.412" stop-color="#48f339"/><stop offset="0.441" stop-color="#4ef345"/><stop offset="0.471" stop-color="#57f352"/><stop offset="0.500" stop-color="#61f361"/><stop offset="0.529" stop-color="#72f477"/><stop offset="0.559" stop-color="#84f48e"/><stop offset="0.588" stop-color="#98f4a6"/><stop offset="0.618" stop-color="#aef5bf"/><stop offset="0.647" stop-color="#c3f5d8"/><stop offset="0.676" stop-color="#d5f6f0"/><stop offset="0.706" stop-color="#dbe6f7"/><stop offset="0.735" stop-color="#d6cdf7"/><stop offset="0.765" stop-color="#d4b8f7"/><stop offset="0.794" stop-color="#d2a2f8"/><stop offset="0.824" stop-color="#cf8bf9"/><stop offset="0.853" stop-color="#cd74f9"/><stop offset="0.882" stop-color="#ca5ef9"/><stop offset="0.912" stop-color="#c648fa"/><stop offset="0.941" stop-color="#c134fa"/><stop offset="0.971" stop-color="#bb21fb"/><stop offset="1.000" stop-color="#b818fb"/></linearGradient><linearGradient id="cg20" x1="0" x2="0" y1="0" y2="1"><stop offset="0.000" stop-color="#66f300"/><stop offset="0.029" stop-color="#61f300"/><stop offset="0.059" stop-color="#5cf300"/><stop offset="0.088" stop-color="#56f300"/><stop offset="0.118" stop-color="#50f300"/><stop offset="0.147" stop-color="#4af300"/><stop offset="0.176" stop-color="#46f303"/><stop offset="0.206" stop-color="#45f308"/><stop offset="0.235" stop-color="#44f30d"/><stop offset="0.265" stop-color="#45f313"/><stop offset="0.294" stop-color="#48f319"/><stop offset="0.324" stop-color="#4bf320"/><stop offset="0.353" stop-color="#4ef328"/><stop offset="0.382" stop-color="#53f331"/><stop offset="0.412" stop-color="#59f33c"/><stop offset="0.441" stop-color="#61f449"/><stop offset="0.471" stop-color="#6af457"/><stop offset="0.500" stop-color="#76f467"/><stop offset="0.529" stop-color="#83f479"/><stop offset="0.559" stop-color="#92f58d"/><stop offset="0.588" stop-color="#a4f5a2"/><stop offset="0.618" stop-color="#b9f6bb"/><stop offset="0.647" stop-color="#d1f6d7"/><stop offset="0.676" stop-color="#e8f7f1"/><stop offset="0.706" stop-color="#ebe5f7"/><stop offset="0.735" stop-color="#e9cef8"/><stop offset="0.765" stop-color="#e5b5f8"/><stop offset="0.794" stop-color="#e29df9"/><stop offset="0.824" stop-color="#df85f9"/><stop offset="0.853" stop-color="#dc6dfa"/><stop offset="0.882" stop-color="#d857fa"/><stop offset="0.912" stop-color="#d441fa"/><stop offset="0.941" stop-color="#ce2dfb"/><stop offset="0.971" stop-color="#c81afb"/><stop offset="1.000" stop-color="#c512fc"/></linearGradient><linearGradient id="cg21" x1="0" x2="0" y1="0" y2="1"><stop offset="0.000" stop-color="#6ef400"/><stop offset="0.029" stop-color="#6af400"/><stop offset="0.059" stop-color="#65f400"/><stop offset="0.088" stop-color="#5ff400"/><stop offset="0.118" stop-color="#5af400"/><stop offset="0.147" stop-color="#55f400"/><stop offset="0.176" stop-color="#50f401"/><stop offset="0.206" stop-color="#4ff407"/><stop offset="0.235" stop-color="#50f40c"/><stop offset="0.265" stop-color="#52f412"/><stop offset="0.294" stop-color="#55f419"/><stop offset="0.324" stop-color="#59f420"/><stop offset="0.353" stop-color="#5ef429"/><stop offset="0.382" stop-color="#63f433"/><stop offset="0.412" stop-color="#6af43e"/><stop offset="0.441" stop-color="#73f54c"/><stop offset="0.471" stop-color="#7ef55b"/><stop offset="0.500" stop-color="#8af56b"/><stop offset="0.529" stop-color="#98f57e"/><stop offset="0.559" stop-color="#a8f693"/><stop offset="0.588" stop-color="#baf6a9"/><stop offset="0.618" stop-color="#cef7c1"/><stop offset="0.647" stop-color="#e4f7da"/><stop offset="0.676" stop-color="#f8f6f1"/><stop offset="0.706" stop-color="#f8e0f5"/><stop offset="0.735" stop-color="#f8c7f8"/><stop offset="0.765" stop-color="#f4adf9"/><stop offset="0.794" stop-color="#f195f9"/><stop offset="0.824" stop-color="#ed7cfa"/><stop offset="0.853" stop-color="#ea65fa"/><stop offset="0.882" stop-color="#e64ffa"/><stop offset="0.912" stop-color="#e13afb"/><stop offset="0.941" stop-color="#db26fb"/><stop offset="0.971" stop-color="#d513fc"/><stop offset="1.000" stop-color="#d20bfc"/></linearGradient><linearGradient id="cg22" x1="0" x2="0" y1="0" y2="1"><stop offset="0.000" stop-color="#77f400"/><stop offset="0.029" stop-color="#72f400"/><stop offset="0.059" stop-color="#6ef400"/><stop offset="0.088" stop-color="#69f400"/><stop offset="0.118" stop-color="#64f400"/><stop offset="0.147" stop-color="#60f400"/><stop offset="0.176" stop-color="#5bf400"/><stop offset="0.206" stop-color="#5af405"/><stop offset="0.235" stop-color="#5bf40b"/><stop offset="0.265" stop-color="#5ef411"/><stop offset="0.294" stop-color="#62f518"/><stop offset="0.324" stop-color="#67f520"/><stop offset="0.353" stop-color="#6df529"/><stop offset="0.382" stop-color="#73f534"/><stop offset="0.412" stop-color="#7bf540"/><stop offset="0.441" stop-color="#85f54d"/><stop offset="0.471" stop-color="#90f65d"/><stop offset="0.500" stop-color="#9df66e"/><stop offset="0.529" stop-color="#abf681"/><stop offset="0.559" stop-color="#bcf796"/><stop offset="0.588" stop-color="#cef7ac"/><stop offset="0.618" stop-color="#e2f7c3"/><stop offset="0.647" stop-color="#f5f8d9"/><stop offset="0.676" stop-color="#f8e5e1"/><stop offset="0.706" stop-color="#f9d2e7"/><stop offset="0.735" stop-color="#f9bbec"/><stop offset="0.765" stop-color="#faa3f1"/><stop offset="0.794" stop-color="#fa8bf5"/><stop offset="0.824" stop-color="#fa73fa"/><stop offset="0.853" stop-color="#f75cfb"/><stop offset="0.882" stop-color="#f246fb"/><stop offset="0.912" stop-color="#ed31fb"/><stop offset="0.941" stop-color="#e71efc"/><stop offset="0.971" stop-color="#e10bfc"/><stop offset="1.000" stop-color="#de03fc"/></linearGradient><linearGradient id="cg23" x1="0" x2="0" y1="0" y2="1"><stop offset="0.000" stop-color="#7ff500"/><stop offset="0.029" stop-color="#7bf500"/><stop offset="0.059" stop-color="#77f500"/><stop offset="0.088" stop-color="#73f500"/><stop offset="0.118" stop-color="#6ff500"/><stop offset="0.147" stop-color="#6bf500"/><stop offset="0.176" stop-color="#67f500"/><stop offset="0.206" stop-color="#66f502"/><stop offset="0.235" stop-color="#68f509"/><stop offset="0.265" stop-color="#6bf50f"/><stop offset="0.294" stop-color="#6ff517"/><stop offset="0.324" stop-color="#75f61f"/><stop offset="0.353" stop-color="#7cf628"/><stop offset="0.382" stop-color="#83f633"/><stop offset="0.412" stop-color="#8cf640"/><stop offset="0.441" stop-color="#96f64e"/><stop offset="0.471" stop-color="#a1f75d"/><stop offset="0.500" stop-color="#aef76f"/><stop offset="0.529" stop-color="#bdf782"/><stop offset="0.559" stop-color="#cef896"/><stop offset="0.588" stop-color="#dff8ac"/><stop offset="0.618" stop-color="#f2f8c0"/><stop offset="0.647" stop-color="#f9eccf"/><stop offset="0.676" stop-color="#f9d4d1"/><stop offset="0.706" stop-color="#fac3d9"/><stop offset="0.735" stop-color="#faaedf"/><stop offset="0.765" stop-color="#fa97e4"/><stop offset="0.794" stop-color="#fb80e9"/><stop offset="0.824" stop-color="#fb68ee"/><stop offset="0.853" stop-color="#fb52f3"/><stop offset="0.882" stop-color="#fc3df9"/><stop offset="0.912" stop-color="#f929fc"/><stop offset="0.941" stop-color="#f315fc"/><stop offset="0.971" stop-color="#ed03fc"/><stop offset="1.000" stop-color="#ea00fd"/></linearGradient><linearGradient id="cg24" x1="0" x2="0" y1="0" y2="1"><stop offset="0.000" stop-color="#87f500"/><stop offset="0.029" stop-color="#84f500"/><stop offset="0.059" stop-color="#80f500"/><stop offset="0.088" stop-color="#7df500"/><stop offset="0.118" stop-color="#7af500"/><stop offset="0.147" stop-color="#77f500"/><stop offset="0.176" stop-color="#74f500"/><stop offset="0.206" stop-color="#72f600"/><stop offset="0.235" stop-color="#74f606"/><stop offset="0.265" stop-color="#78f60d"/><stop offset="0.294" stop-color="#7df614"/><stop offset="0.324" stop-color="#84f61d"/><stop offset="0.353" stop-color="#8bf727"/><stop offset="0.382" stop-color="#93f732"/><stop offset="0.412" stop-color="#9cf73e"/><stop offset="0.441" stop-color="#a6f74c"/><stop offset="0.471" stop-color="#b2f85c"/><stop offset="0.500" stop-color="#bff86d"/><stop offset="0.529" stop-color="#cef880"/><stop offset="0.559" stop-color="#def893"/><stop offset="0.588" stop-color="#eff9a7"/><stop offset="0.618" stop-color="#f9f1b8"/><stop offset="0.647" stop-color="#faddc2"/><stop offset="0.676" stop-color="#fac3c0"/><stop offset="0.706" stop-color="#fab4cb"/><stop offset="0.735" stop-color="#fba1d2"/><stop offset="0.765" stop-color="#fb8bd8"/><stop offset="0.794" stop-color="#fb74de"/><stop offset="0.824" stop-color="#fc5ee3"/><stop offset="0.853" stop-color="#fc48e9"/><stop offset="0.882" stop-color="#fc33ee"/><stop offset="0.912" stop-color="#fc20f4"/><stop offset="0.941" stop-color="#fd0dfb"/><stop offset="0.971" stop-color="#f800fd"/><stop offset="1.000" stop-color="#f500fd"/></linearGradient><linearGradient id="cg25" x1="0" x2="0" y1="0" y2="1"><stop offset="0.000" stop-color="#8ff500"/><stop offset="0.029" stop-color="#8df500"/><stop offset="0.059" stop-color="#8af600"/><stop offset="0.088" stop-color="#87f600"/><stop offset="0.118" stop-color="#84f600"/><stop offset="0.147" stop-color="#82f600"/><stop offset="0.176" stop-color="#80f600"/><stop offset="0.206" stop-color="#7ff600"/><stop offset="0.235" stop-color="#80f603"/><stop offset="0.265" stop-color="#85f70a"/><stop offset="0.294" stop-color="#8bf712"/><stop offset="0.324" stop-color="#92f71a"/><stop offset="0.353" stop-color="#9af824"/><stop offset="0.382" stop-color="#a2f82f"/><stop offset="0.412" stop-color="#acf83b"/><stop offset="0.441" stop-color="#b6f84a"/><stop offset="0.471" stop-color="#c2f959"/><stop offset="0.500" stop-color="#cff96a"/><stop offset="0.529" stop-color="#def97c"/><stop offset="0.559" stop-color="#edf98e"/><stop offset="0.588" stop-color="#faf59f"/><stop offset="0.618" stop-color="#fae3ad"/><stop offset="0.647" stop-color="#faceb3"/><stop offset="0.676" stop-color="#fbb2b1"/><stop offset="0.706" stop-color="#fba5bd"/><stop offset="0.735" stop-color="#fb93c5"/><stop offset="0.765" stop-color="#fc7ecc"/><stop offset="0.794" stop-color="#fc69d3"/><stop offset="0.824" stop-color="#fc53d8"/><stop offset="0.853" stop-color="#fc3ede"/><stop offset="0.882" stop-color="#fd2ae4"/><stop offset="0.912" stop-color="#fd17ea"/><stop offset="0.941" stop-color="#fd04f1"/><stop offset="0.971" stop-color="#fd00f8"/><stop offset="1.000" stop-color="#fd00fb"/></linearGradient><linearGradient id="cg26" x1="0" x2="0" y1="0" y2="1"><stop offset="0.000" stop-color="#97f600"/><stop offset="0.029" stop-color="#95f600"/><stop offset="0.059" stop-color="#93f600"/><stop offset="0.088" stop-color="#91f600"/><stop offset="0.118" stop-color="#8ff600"/><stop offset="0.147" stop-color="#8ef600"/><stop offset="0.176" stop-color="#8df700"/><stop offset="0.206" stop-color="#8df700"/><stop offset="0.235" stop-color="#8df700"/><stop offset="0.265" stop-color="#92f706"/><stop offset="0.294" stop-color="#98f80e"/><stop offset="0.324" stop-color="#a0f816"/><stop offset="0.353" stop-color="#a8f920"/><stop offset="0.382" stop-color="#b1f92b"/><stop offset="0.412" stop-color="#bbf937"/><stop offset="0.441" stop-color="#c6f945"/><stop offset="0.471" stop-color="#d1f955"/><stop offset="0.500" stop-color="#defa65"/><stop offset="0.529" stop-color="#edfa76"/><stop offset="0.559" stop-color="#faf886"/><stop offset="0.588" stop-color="#fae895"/><stop offset="0.618" stop-color="#fbd5a0"/><stop offset="0.647" stop-color="#fbbfa5"/><stop offset="0.676" stop-color="#fba2a1"/><stop offset="0.706" stop-color="#fc96af"/><stop offset="0.735" stop-color="#fc85b9"/><stop offset="0.765" stop-color="#fc72c1"/><stop offset="0.794" stop-color="#fc5dc8"/><stop offset="0.824" stop-color="#fd48ce"/><stop offset="0.853" stop-color="#fd34d4"/><stop offset="0.882" stop-color="#fd20da"/><stop offset="0.912" stop-color="#fd0ee0"/><stop offset="0.941" stop-color="#fd00e7"/><stop offset="0.971" stop-color="#fe00ef"/><stop offset="1.000" stop-color="#fe00f3"/></linearGradient><linearGradient id="cg27" x1="0" x2="0" y1="0" y2="1"><stop offset="0.000" stop-color="#a0f600"/><stop offset="0.029" stop-color="#9ef600"/><stop offset="0.059" stop-color="#9cf700"/><stop offset="0.088" stop-color="#9bf700"/><stop offset="0.118" stop-color="#9af700"/><stop offset="0.147" stop-color="#99f700"/><stop offset="0.176" stop-color="#99f700"/><stop offset="0.206" stop-color="#9af800"/><stop offset="0.235" stop-color="#9bf800"/><stop offset="0.265" stop-color="#9ff802"/><stop offset="0.294" stop-color="#a6f909"/><stop offset="0.324" stop-color="#aef912"/><stop offset="0.353" stop-color="#b7f91b"/><stop offset="0.382" stop-color="#c0fa26"/><stop offset="0.412" stop-color="#cafa32"/><stop offset="0.441" stop-color="#d5fa40"/><stop offset="0.471" stop-color="#e0fa4f"/><stop offset="0.500" stop-color="#edfa5e"/><stop offset="0.529" stop-color="#fbfa6e"/><stop offset="0.559" stop-color="#fbeb7d"/><stop offset="0.588" stop-color="#fbda8b"/><stop offset="0.618" stop-color="#fbc794"/><stop offset="0.647" stop-color="#fcb097"/><stop offset="0.676" stop-color="#fc9393"/><stop offset="0.706" stop-color="#fc88a2"/><stop offset="0.735" stop-color="#fc78ad"/><stop offset="0.765" stop-color="#fd66b5"/><stop offset="0.794" stop-color="#fd52bd"/><stop offset="0.824" stop-color="#fd3ec4"/><stop offset="0.853" stop-color="#fd2aca"/><stop offset="0.882" stop-color="#fd17d0"/><stop offset="0.912" stop-color="#fe05d7"/><stop offset="0.941" stop-color="#fe00df"/><stop offset="0.971" stop-color="#fe00e7"/><stop offset="1.000" stop-color="#fe00eb"/></linearGradient><linearGradient id="cg28" x1="0" x2="0" y1="0" y2="1"><stop offset="0.000" stop-color="#a8f700"/><stop offset="0.029" stop-color="#a6f700"/><stop offset="0.059" stop-color="#a5f700"/><stop offset="0.088" stop-color="#a5f700"/><stop offset="0.118" stop-color="#a4f700"/><stop offset="0.147" stop-color="#a4f800"/><stop offset="0.176" stop-color="#a5f800"/><stop offset="0.206" stop-color="#a6f800"/><stop offset="0.235" stop-color="#a9f900"/><stop offset="0.265" stop-color="#adf900"/><stop offset="0.294" stop-color="#b3f905"/><stop offset="0.324" stop-color="#bcfa0d"/><stop offset="0.353" stop-color="#c5fa16"/><stop offset="0.382" stop-color="#cefa20"/><stop offset="0.412" stop-color="#d8fb2c"/><stop offset="0.441" stop-color="#e3fb39"/><stop offset="0.471" stop-color="#effb48"/><stop offset="0.500" stop-color="#fbfb56"/><stop offset="0.529" stop-color="#fbed65"/><stop offset="0.559" stop-color="#fbde73"/><stop offset="0.588" stop-color="#fccd7f"/><stop offset="0.618" stop-color="#fcb987"/><stop offset="0.647" stop-color="#fca189"/><stop offset="0.676" stop-color="#fc8586"/><stop offset="0.706" stop-color="#fd7a95"/><stop offset="0.735" stop-color="#fd6ca1"/><stop offset="0.765" stop-color="#fd5aaa"/><stop offset="0.794" stop-color="#fd47b2"/><stop offset="0.824" stop-color="#fe33ba"/><stop offset="0.853" stop-color="#fe20c0"/><stop offset="0.882" stop-color="#fe0ec7"/><stop offset="0.912" stop-color="#fe00ce"/><stop offset="0.941" stop-color="#fe00d7"/><stop offset="0.971" stop-color="#fe00e0"/><stop offset="1.000" stop-color="#ff00e3"/></linearGradient><linearGradient id="cg29" x1="0" x2="0" y1="0" y2="1"><stop offset="0.000" stop-color="#aff700"/><stop offset="0.029" stop-color="#aff700"/><stop offset="0.059" stop-color="#aef800"/><stop offset="0.088" stop-color="#aef800"/><stop offset="0.118" stop-color="#aef800"/><stop offset="0.147" stop-color="#aff800"/><stop offset="0.176" stop-color="#b0f800"/><stop offset="0.206" stop-color="#b3f900"/><stop offset="0.235" stop-color="#b6f900"/><stop offset="0.265" stop-color="#bbfa00"/><stop offset="0.294" stop-color="#c0fa00"/><stop offset="0.324" stop-color="#c9fb07"/><stop offset="0.353" stop-color="#d2fb10"/><stop offset="0.382" stop-color="#dcfb1a"/><stop offset="0.412" stop-color="#e7fb26"/><stop offset="0.441" stop-color="#f1fc32"/><stop offset="0.471" stop-color="#fcfb40"/><stop offset="0.500" stop-color="#fcee4e"/><stop offset="0.529" stop-color="#fce05c"/><stop offset="0.559" stop-color="#fcd169"/><stop offset="0.588" stop-color="#fcc073"/><stop offset="0.618" stop-color="#fdac7a"/><stop offset="0.647" stop-color="#fd937b"/><stop offset="0.676" stop-color="#fd7779"/><stop offset="0.706" stop-color="#fd6d89"/><stop offset="0.735" stop-color="#fd6095"/><stop offset="0.765" stop-color="#fe4f9f"/><stop offset="0.794" stop-color="#fe3ca8"/><stop offset="0.824" stop-color="#fe2ab0"/><stop offset="0.853" stop-color="#fe17b7"/><stop offset="0.882" stop-color="#fe05bd"/><stop offset="0.912" stop-color="#fe00c7"/><stop offset="0.941" stop-color="#ff00d0"/><stop offset="0.971" stop-color="#ff00d9"/><stop offset="1.000" stop-color="#ff00dd"/></linearGradient><linearGradient id="cg30" x1="0" x2="0" y1="0" y2="1"><stop offset="0.000" stop-color="#b7f800"/><stop offset="0.029" stop-color="#b7f800"/><stop offset="0.059" stop-color="#b7f800"/><stop offset="0.088" stop-color="#b7f800"/><stop offset="0.118" stop-color="#b8f800"/><stop offset="0.147" stop-color="#baf900"/><stop offset="0.176" stop-color="#bcf900"/><stop offset="0.206" stop-color="#bff900"/><stop offset="0.235" stop-color="#c3fa00"/><stop offset="0.265" stop-color="#c8fa00"/><stop offset="0.294" stop-color="#cefb00"/><stop offset="0.324" stop-color="#d6fb01"/><stop offset="0.353" stop-color="#e0fc0a"/><stop offset="0.382" stop-color="#eafc14"/><stop offset="0.412" stop-color="#f4fc1e"/><stop offset="0.441" stop-color="#fcf92b"/><stop offset="0.471" stop-color="#fcee37"/><stop offset="0.500" stop-color="#fce245"/><stop offset="0.529" stop-color="#fdd452"/><stop offset="0.559" stop-color="#fdc55e"/><stop offset="0.588" stop-color="#fdb367"/><stop offset="0.618" stop-color="#fd9f6d"/><stop offset="0.647" stop-color="#fd866e"/><stop offset="0.676" stop-color="#fd6a6c"/><stop offset="0.706" stop-color="#fe617d"/><stop offset="0.735" stop-color="#fe548a"/><stop offset="0.765" stop-color="#fe4495"/><stop offset="0.794" stop-color="#fe329e"/><stop offset="0.824" stop-color="#fe20a6"/><stop offset="0.853" stop-color="#ff0ead"/><stop offset="0.882" stop-color="#ff00b5"/><stop offset="0.912" stop-color="#ff00c0"/><stop offset="0.941" stop-color="#ff00ca"/><stop offset="0.971" stop-color="#ff00d2"/><stop offset="1.000" stop-color="#ff00d6"/></linearGradient><linearGradient id="cg31" x1="0" x2="0" y1="0" y2="1"><stop offset="0.000" stop-color="#bff800"/><stop offset="0.029" stop-color="#bff800"/><stop offset="0.059" stop-color="#c0f800"/><stop offset="0.088" stop-color="#c1f900"/><stop offset="0.118" stop-color="#c2f900"/><stop offset="0.147" stop-color="#c4f900"/><stop offset="0.176" stop-color="#c6fa00"/><stop offset="0.206" stop-color="#cafa00"/><stop offset="0.235" stop-color="#cefa00"/><stop offset="0.265" stop-color="#d4fb00"/><stop offset="0.294" stop-color="#dbfb00"/><stop offset="0.324" stop-color="#e3fc00"/><stop offset="0.353" stop-color="#edfc03"/><stop offset="0.382" stop-color="#f7fc0d"/><stop offset="0.412" stop-color="#fdf817"/><stop offset="0.441" stop-color="#fded23"/><stop offset="0.471" stop-color="#fde22f"/><stop offset="0.500" stop-color="#fdd53b"/><stop offset="0.529" stop-color="#fdc848"/><stop offset="0.559" stop-color="#fdb853"/><stop offset="0.588" stop-color="#fda75c"/><stop offset="0.618" stop-color="#fd9261"/><stop offset="0.647" stop-color="#fe7962"/><stop offset="0.676" stop-color="#fe5e60"/><stop offset="0.706" stop-color="#fe5571"/><stop offset="0.735" stop-color="#fe497f"/><stop offset="0.765" stop-color="#fe3a8a"/><stop offset="0.794" stop-color="#ff2994"/><stop offset="0.824" stop-color="#ff189c"/><stop offset="0.853" stop-color="#ff06a4"/><stop offset="0.882" stop-color="#ff00ae"/><stop offset="0.912" stop-color="#ff00ba"/><stop offset="0.941" stop-color="#ff00c3"/><stop offset="0.971" stop-color="#ff00cc"/><stop offset="1.000" stop-color="#ff00d0"/></linearGradient><linearGradient id="cg32" x1="0" x2="0" y1="0" y2="1"><stop offset="0.000" stop-color="#c6f800"/><stop offset="0.029" stop-color="#c7f900"/><stop offset="0.059" stop-color="#c8f900"/><stop offset="0.088" stop-color="#c9f900"/><stop offset="0.118" stop-color="#cbfa00"/><stop offset="0.147" stop-color="#cefa00"/><stop offset="0.176" stop-color="#d1fa00"/><stop offset="0.206" stop-color="#d5fb00"/><stop offset="0.235" stop-color="#dafb00"/><stop offset="0.265" stop-color="#e0fb00"/><stop offset="0.294" stop-color="#e7fc00"/><stop offset="0.324" stop-color="#effc00"/><stop offset="0.353" stop-color="#f9fd00"/><stop offset="0.382" stop-color="#fdf606"/><stop offset="0.412" stop-color="#fdec10"/><stop offset="0.441" stop-color="#fde11a"/><stop offset="0.471" stop-color="#fdd626"/><stop offset="0.500" stop-color="#feca32"/><stop offset="0.529" stop-color="#febc3d"/><stop offset="0.559" stop-color="#feac48"/><stop offset="0.588" stop-color="#fe9a50"/><stop offset="0.618" stop-color="#fe8655"/><stop offset="0.647" stop-color="#fe6d56"/><stop offset="0.676" stop-color="#fe5254"/><stop offset="0.706" stop-color="#fe4a66"/><stop offset="0.735" stop-color="#ff3e74"/><stop offset="0.765" stop-color="#ff3080"/><stop offset="0.794" stop-color="#ff208a"/><stop offset="0.824" stop-color="#ff0f93"/><stop offset="0.853" stop-color="#ff009b"/><stop offset="0.882" stop-color="#ff00a8"/><stop offset="0.912" stop-color="#ff00b3"/><stop offset="0.941" stop-color="#ff00bd"/><stop offset="0.971" stop-color="#ff00c6"/><stop offset="1.000" stop-color="#ff00ca"/></linearGradient><linearGradient id="cg33" x1="0" x2="0" y1="0" y2="1"><stop offset="0.000" stop-color="#cdf900"/><stop offset="0.029" stop-color="#cff900"/><stop offset="0.059" stop-color="#d0f900"/><stop offset="0.088" stop-color="#d2fa00"/><stop offset="0.118" stop-color="#d4fa00"/><stop offset="0.147" stop-color="#d7fa00"/><stop offset="0.176" stop-color="#dafb00"/><stop offset="0.206" stop-color="#dffb00"/><stop offset="0.235" stop-color="#e4fb00"/><stop offset="0.265" stop-color="#ebfc00"/><stop offset="0.294" stop-color="#f2fc00"/><stop offset="0.324" stop-color="#fbfd00"/><stop offset="0.353" stop-color="#fdf600"/><stop offset="0.382" stop-color="#fdeb00"/><stop offset="0.412" stop-color="#fee108"/><stop offset="0.441" stop-color="#fed612"/><stop offset="0.471" stop-color="#feca1d"/><stop offset="0.500" stop-color="#febe28"/><stop offset="0.529" stop-color="#feb034"/><stop offset="0.559" stop-color="#fea03d"/><stop offset="0.588" stop-color="#fe8f45"/><stop offset="0.618" stop-color="#fe7a4a"/><stop offset="0.647" stop-color="#fe614a"/><stop offset="0.676" stop-color="#ff4749"/><stop offset="0.706" stop-color="#ff3f5b"/><stop offset="0.735" stop-color="#ff346a"/><stop offset="0.765" stop-color="#ff2676"/><stop offset="0.794" stop-color="#ff1780"/><stop offset="0.824" stop-color="#ff0789"/><stop offset="0.853" stop-color="#ff0095"/><stop offset="0.882" stop-color="#ff00a2"/><stop offset="0.912" stop-color="#ff00ae"/><stop offset="0.941" stop-color="#ff00b7"/><stop offset="0.971" stop-color="#ff00c0"/><stop offset="1.000" stop-color="#ff00c4"/></linearGradient><linearGradient id="cg34" x1="0" x2="0" y1="0" y2="1"><stop offset="0.000" stop-color="#d5f900"/><stop offset="0.029" stop-color="#d6fa00"/><stop offset="0.059" stop-color="#d8fa00"/><stop offset="0.088" stop-color="#dafa00"/><stop offset="0.118" stop-color="#ddfa00"/><stop offset="0.147" stop-color="#e0fb00"/><stop offset="0.176" stop-color="#e4fb00"/><stop offset="0.206" stop-color="#e9fc00"/><stop offset="0.235" stop-color="#eefc00"/><stop offset="0.265" stop-color="#f5fc00"/><stop offset="0.294" stop-color="#fdfd00"/><stop offset="0.324" stop-color="#fdf500"/><stop offset="0.353" stop-color="#feec00"/><stop offset="0.382" stop-color="#fee100"/><stop offset="0.412" stop-color="#fed601"/><stop offset="0.441" stop-color="#fecb0b"/><stop offset="0.471" stop-color="#febf15"/><stop offset="0.500" stop-color="#feb320"/><stop offset="0.529" stop-color="#fea52a"/><stop offset="0.559" stop-color="#fe9533"/><stop offset="0.588" stop-color="#fe833a"/><stop offset="0.618" stop-color="#ff6e3f"/><stop offset="0.647" stop-color="#ff563f"/><stop offset="0.676" stop-color="#ff3c3e"/><stop offset="0.706" stop-color="#ff3551"/><stop offset="0.735" stop-color="#ff2a60"/><stop offset="0.765" stop-color="#ff1d6c"/><stop offset="0.794" stop-color="#ff0e77"/><stop offset="0.824" stop-color="#ff0080"/><stop offset="0.853" stop-color="#ff0090"/><stop offset="0.882" stop-color="#ff009d"/><stop offset="0.912" stop-color="#ff00a8"/><stop offset="0.941" stop-color="#ff00b2"/><stop offset="0.971" stop-color="#ff00bb"/><stop offset="1.000" stop-color="#ff00bf"/></linearGradient><linearGradient id="cg35" x1="0" x2="0" y1="0" y2="1"><stop offset="0.000" stop-color="#dbfa00"/><stop offset="0.029" stop-color="#ddfa00"/><stop offset="0.059" stop-color="#dffa00"/><stop offset="0.088" stop-color="#e2fb00"/><stop offset="0.118" stop-color="#e5fb00"/><stop offset="0.147" stop-color="#e8fb00"/><stop offset="0.176" stop-color="#edfc00"/><stop offset="0.206" stop-color="#f2fc00"/><stop offset="0.235" stop-color="#f8fc00"/><stop offset="0.265" stop-color="#fdfb00"/><stop offset="0.294" stop-color="#fdf400"/><stop offset="0.324" stop-color="#feec00"/><stop offset="0.353" stop-color="#fee300"/><stop offset="0.382" stop-color="#fed800"/><stop offset="0.412" stop-color="#fecd00"/><stop offset="0.441" stop-color="#ffc003"/><stop offset="0.471" stop-color="#ffb40d"/><stop offset="0.500" stop-color="#ffa717"/><stop offset="0.529" stop-color="#ff9a21"/><stop offset="0.559" stop-color="#ff8a29"/><stop offset="0.588" stop-color="#ff7830"/><stop offset="0.618" stop-color="#ff6434"/><stop offset="0.647" stop-color="#ff4b35"/><stop offset="0.676" stop-color="#ff3234"/><stop offset="0.706" stop-color="#ff2b47"/><stop offset="0.735" stop-color="#ff2156"/><stop offset="0.765" stop-color="#ff1462"/><stop offset="0.794" stop-color="#ff066d"/><stop offset="0.824" stop-color="#ff007b"/><stop offset="0.853" stop-color="#ff008a"/><stop offset="0.882" stop-color="#ff0097"/><stop offset="0.912" stop-color="#ff00a3"/><stop offset="0.941" stop-color="#ff00ad"/><stop offset="0.971" stop-color="#ff00b6"/><stop offset="1.000" stop-color="#ff00ba"/></linearGradient><linearGradient id="cg36" x1="0" x2="0" y1="0" y2="1"><stop offset="0.000" stop-color="#e2fa00"/><stop offset="0.029" stop-color="#e4fa00"/><stop offset="0.059" stop-color="#e7fb00"/><stop offset="0.088" stop-color="#e9fb00"/><stop offset="0.118" stop-color="#edfb00"/><stop offset="0.147" stop-color="#f1fc00"/><stop offset="0.176" stop-color="#f5fc00"/><stop offset="0.206" stop-color="#fafc00"/><stop offset="0.235" stop-color="#fdf900"/><stop offset="0.265" stop-color="#fdf300"/><stop offset="0.294" stop-color="#feec00"/><stop offset="0.324" stop-color="#fee300"/><stop offset="0.353" stop-color="#feda00"/><stop offset="0.382" stop-color="#ffd000"/><stop offset="0.412" stop-color="#ffc400"/><stop offset="0.441" stop-color="#ffb700"/><stop offset="0.471" stop-color="#ffaa05"/><stop offset="0.500" stop-color="#ff9d0e"/><stop offset="0.529" stop-color="#ff8f18"/><stop offset="0.559" stop-color="#ff7f20"/><stop offset="0.588" stop-color="#ff6d26"/><stop offset="0.618" stop-color="#ff592a"/><stop offset="0.647" stop-color="#ff412b"/><stop offset="0.676" stop-color="#ff282a"/><stop offset="0.706" stop-color="#ff213d"/><stop offset="0.735" stop-color="#ff184c"/><stop offset="0.765" stop-color="#ff0c59"/><stop offset="0.794" stop-color="#ff0065"/><stop offset="0.824" stop-color="#ff0077"/><stop offset="0.853" stop-color="#ff0086"/><stop offset="0.882" stop-color="#ff0093"/><stop offset="0.912" stop-color="#ff009e"/><stop offset="0.941" stop-color="#ff00a8"/><stop offset="0.971" stop-color="#ff00b1"/><stop offset="1.000" stop-color="#ff00b5"/></linearGradient><linearGradient id="cg37" x1="0" x2="0" y1="0" y2="1"><stop offset="0.000" stop-color="#e9fb00"/><stop offset="0.029" stop-color="#ebfb00"/><stop offset="0.059" stop-color="#eefb00"/><stop offset="0.088" stop-color="#f1fb00"/><stop offset="0.118" stop-color="#f4fc00"/><stop offset="0.147" stop-color="#f8fc00"/><stop offset="0.176" stop-color="#fcfc00"/><stop offset="0.206" stop-color="#fdf700"/><stop offset="0.235" stop-color="#fdf100"/><stop offset="0.265" stop-color="#feeb00"/><stop offset="0.294" stop-color="#fee400"/><stop offset="0.324" stop-color="#fedc00"/><stop offset="0.353" stop-color="#ffd200"/><stop offset="0.382" stop-color="#ffc800"/><stop offset="0.412" stop-color="#ffbc00"/><stop offset="0.441" stop-color="#ffaf00"/><stop offset="0.471" stop-color="#ffa000"/><stop offset="0.500" stop-color="#ff9206"/><stop offset="0.529" stop-color="#ff840f"/><stop offset="0.559" stop-color="#ff7517"/><stop offset="0.588" stop-color="#ff631d"/><stop offset="0.618" stop-color="#ff4f21"/><stop offset="0.647" stop-color="#ff3721"/><stop offset="0.676" stop-color="#ff1e21"/><stop offset="0.706" stop-color="#ff1833"/><stop offset="0.735" stop-color="#ff0f43"/><stop offset="0.765" stop-color="#ff0450"/><stop offset="0.794" stop-color="#ff0061"/><stop offset="0.824" stop-color="#ff0072"/><stop offset="0.853" stop-color="#ff0081"/><stop offset="0.882" stop-color="#ff008e"/><stop offset="0.912" stop-color="#ff0099"/><stop offset="0.941" stop-color="#ff00a3"/><stop offset="0.971" stop-color="#ff00ac"/><stop offset="1.000" stop-color="#ff00b0"/></linearGradient><linearGradient id="cg38" x1="0" x2="0" y1="0" y2="1"><stop offset="0.000" stop-color="#effb00"/><stop offset="0.029" stop-color="#f1fb00"/><stop offset="0.059" stop-color="#f4fc00"/><stop offset="0.088" stop-color="#f8fc00"/><stop offset="0.118" stop-color="#fcfc00"/><stop offset="0.147" stop-color="#fcf900"/><stop offset="0.176" stop-color="#fdf500"/><stop offset="0.206" stop-color="#fdf000"/><stop offset="0.235" stop-color="#feea00"/><stop offset="0.265" stop-color="#fee400"/><stop offset="0.294" stop-color="#fedc00"/><stop offset="0.324" stop-color="#ffd400"/><stop offset="0.353" stop-color="#ffcb00"/><stop offset="0.382" stop-color="#ffc000"/><stop offset="0.412" stop-color="#ffb500"/><stop offset="0.441" stop-color="#ffa800"/><stop offset="0.471" stop-color="#ff9900"/><stop offset="0.500" stop-color="#ff8900"/><stop offset="0.529" stop-color="#ff7a07"/><stop offset="0.559" stop-color="#ff6a0e"/><stop offset="0.588" stop-color="#ff5914"/><stop offset="0.618" stop-color="#ff4517"/><stop offset="0.647" stop-color="#ff2e18"/><stop offset="0.676" stop-color="#ff1518"/><stop offset="0.706" stop-color="#ff0f2a"/><stop offset="0.735" stop-color="#ff073a"/><stop offset="0.765" stop-color="#ff004a"/><stop offset="0.794" stop-color="#ff005d"/><stop offset="0.824" stop-color="#ff006e"/><stop offset="0.853" stop-color="#ff007d"/><stop offset="0.882" stop-color="#ff0089"/><stop offset="0.912" stop-color="#ff0095"/><stop offset="0.941" stop-color="#ff009f"/><stop offset="0.971" stop-color="#ff00a8"/><stop offset="1.000" stop-color="#ff00ac"/></linearGradient><linearGradient id="cg39" x1="0" x2="0" y1="0" y2="1"><stop offset="0.000" stop-color="#f5fb00"/><stop offset="0.029" stop-color="#f8fc00"/><stop offset="0.059" stop-color="#fbfc00"/><stop offset="0.088" stop-color="#fcfa00"/><stop offset="0.118" stop-color="#fdf700"/><stop offset="0.147" stop-color="#fdf300"/><stop offset="0.176" stop-color="#fdee00"/><stop offset="0.206" stop-color="#fee900"/><stop offset="0.235" stop-color="#fee300"/><stop offset="0.265" stop-color="#fedd00"/><stop offset="0.294" stop-color="#ffd500"/><stop offset="0.324" stop-color="#ffcd00"/><stop offset="0.353" stop-color="#ffc400"/><stop offset="0.382" stop-color="#ffb900"/><stop offset="0.412" stop-color="#ffae00"/><stop offset="0.441" stop-color="#ffa100"/><stop offset="0.471" stop-color="#ff9200"/><stop offset="0.500" stop-color="#ff8200"/><stop offset="0.529" stop-color="#ff7000"/><stop offset="0.559" stop-color="#ff6006"/><stop offset="0.588" stop-color="#ff4f0b"/><stop offset="0.618" stop-color="#ff3b0e"/><stop offset="0.647" stop-color="#ff240f"/><stop offset="0.676" stop-color="#ff0c0f"/><stop offset="0.706" stop-color="#ff0721"/><stop offset="0.735" stop-color="#ff0032"/><stop offset="0.765" stop-color="#ff0047"/><stop offset="0.794" stop-color="#ff005a"/><stop offset="0.824" stop-color="#ff006a"/><stop offset="0.853" stop-color="#ff0078"/><stop offset="0.882" stop-color="#ff0085"/><stop offset="0.912" stop-color="#ff0090"/><stop offset="0.941" stop-color="#ff009b"/><stop offset="0.971" stop-color="#ff00a4"/><stop offset="1.000" stop-color="#ff00a8"/></linearGradient><linearGradient id="cg40" x1="0" x2="0" y1="0" y2="1"><stop offset="0.000" stop-color="#fbfc00"/><stop offset="0.029" stop-color="#fcfa00"/><stop offset="0.059" stop-color="#fcf700"/><stop offset="0.088" stop-color="#fdf400"/><stop offset="0.118" stop-color="#fdf100"/><stop offset="0.147" stop-color="#fded00"/><stop offset="0.176" stop-color="#fee800"/><stop offset="0.206" stop-color="#fee300"/><stop offset="0.235" stop-color="#fedd00"/><stop offset="0.265" stop-color="#ffd600"/><stop offset="0.294" stop-color="#ffcf00"/><stop offset="0.324" stop-color="#ffc600"/><stop offset="0.353" stop-color="#ffbd00"/><stop offset="0.382" stop-color="#ffb300"/><stop offset="0.412" stop-color="#ffa700"/><stop offset="0.441" stop-color="#ff9a00"/><stop offset="0.471" stop-color="#ff8c00"/><stop offset="0.500" stop-color="#ff7d00"/><stop offset="0.529" stop-color="#ff6b00"/><stop offset="0.559" stop-color="#ff5800"/><stop offset="0.588" stop-color="#ff4503"/><stop offset="0.618" stop-color="#ff3106"/><stop offset="0.647" stop-color="#ff1b06"/><stop offset="0.676" stop-color="#ff0406"/><stop offset="0.706" stop-color="#ff001a"/><stop offset="0.735" stop-color="#ff0030"/><stop offset="0.765" stop-color="#ff0044"/><stop offset="0.794" stop-color="#ff0056"/><stop offset="0.824" stop-color="#ff0066"/><stop offset="0.853" stop-color="#ff0075"/><stop offset="0.882" stop-color="#ff0081"/><stop offset="0.912" stop-color="#ff008c"/><stop offset="0.941" stop-color="#ff0096"/><stop offset="0.971" stop-color="#ff009f"/><stop offset="1.000" stop-color="#ff00a3"/></linearGradient><linearGradient id="cg41" x1="0" x2="0" y1="0" y2="1"><stop offset="0.000" stop-color="#fcf700"/><stop offset="0.029" stop-color="#fcf500"/><stop offset="0.059" stop-color="#fdf200"/><stop offset="0.088" stop-color="#fdef00"/><stop offset="0.118" stop-color="#fdeb00"/><stop offset="0.147" stop-color="#fee700"/><stop offset="0.176" stop-color="#fee200"/><stop offset="0.206" stop-color="#fedd00"/><stop offset="0.235" stop-color="#ffd700"/><stop offset="0.265" stop-color="#ffd000"/><stop offset="0.294" stop-color="#ffc800"/><stop offset="0.324" stop-color="#ffc000"/><stop offset="0.353" stop-color="#ffb700"/><stop offset="0.382" stop-color="#ffac00"/><stop offset="0.412" stop-color="#ffa100"/><stop offset="0.441" stop-color="#ff9500"/><stop offset="0.471" stop-color="#ff8700"/><stop offset="0.500" stop-color="#ff7700"/><stop offset="0.529" stop-color="#ff6600"/><stop offset="0.559" stop-color="#ff5400"/><stop offset="0.588" stop-color="#ff4000"/><stop offset="0.618" stop-color="#ff2a00"/><stop offset="0.647" stop-color="#ff1400"/><stop offset="0.676" stop-color="#ff0003"/><stop offset="0.706" stop-color="#ff0019"/><stop offset="0.735" stop-color="#ff002e"/><stop offset="0.765" stop-color="#ff0042"/><stop offset="0.794" stop-color="#ff0053"/><stop offset="0.824" stop-color="#ff0063"/><stop offset="0.853" stop-color="#ff0071"/><stop offset="0.882" stop-color="#ff007d"/><stop offset="0.912" stop-color="#ff0088"/><stop offset="0.941" stop-color="#ff0092"/><stop offset="0.971" stop-color="#ff009b"/><stop offset="1.000" stop-color="#ff009f"/></linearGradient><linearGradient id="cg42" x1="0" x2="0" y1="0" y2="1"><stop offset="0.000" stop-color="#fcf300"/><stop offset="0.029" stop-color="#fdf000"/><stop offset="0.059" stop-color="#fded00"/><stop offset="0.088" stop-color="#fde900"/><stop offset="0.118" stop-color="#fee500"/><stop offset="0.147" stop-color="#fee100"/><stop offset="0.176" stop-color="#fedc00"/><stop offset="0.206" stop-color="#fed700"/><stop offset="0.235" stop-color="#ffd100"/><stop offset="0.265" stop-color="#ffca00"/><stop offset="0.294" stop-color="#ffc200"/><stop offset="0.324" stop-color="#ffba00"/><stop offset="0.353" stop-color="#ffb100"/><stop offset="0.382" stop-color="#ffa600"/><stop offset="0.412" stop-color="#ff9b00"/><stop offset="0.441" stop-color="#ff8f00"/><stop offset="0.471" stop-color="#ff8100"/><stop offset="0.500" stop-color="#ff7200"/><stop offset="0.529" stop-color="#ff6200"/><stop offset="0.559" stop-color="#ff5000"/><stop offset="0.588" stop-color="#ff3d00"/><stop offset="0.618" stop-color="#ff2800"/><stop offset="0.647" stop-color="#ff1300"/><stop offset="0.676" stop-color="#ff0003"/><stop offset="0.706" stop-color="#ff0019"/><stop offset="0.735" stop-color="#ff002d"/><stop offset="0.765" stop-color="#ff003f"/><stop offset="0.794" stop-color="#ff0050"/><stop offset="0.824" stop-color="#ff0060"/><stop offset="0.853" stop-color="#ff006d"/><stop offset="0.882" stop-color="#ff007a"/><stop offset="0.912" stop-color="#ff0085"/><stop offset="0.941" stop-color="#ff008e"/><stop offset="0.971" stop-color="#ff0098"/><stop offset="1.000" stop-color="#ff009b"/></linearGradient><linearGradient id="cg43" x1="0" x2="0" y1="0" y2="1"><stop offset="0.000" stop-color="#fdee00"/><stop offset="0.029" stop-color="#fdeb00"/><stop offset="0.059" stop-color="#fde800"/><stop offset="0.088" stop-color="#fee400"/><stop offset="0.118" stop-color="#fee000"/><stop offset="0.147" stop-color="#fedc00"/><stop offset="0.176" stop-color="#fed700"/><stop offset="0.206" stop-color="#ffd100"/><stop offset="0.235" stop-color="#ffcb00"/><stop offset="0.265" stop-color="#ffc400"/><stop offset="0.294" stop-color="#ffbc00"/><stop offset="0.324" stop-color="#ffb400"/><stop offset="0.353" stop-color="#ffab00"/><stop offset="0.382" stop-color="#ffa100"/><stop offset="0.412" stop-color="#ff9600"/><stop offset="0.441" stop-color="#ff8a00"/><stop offset="0.471" stop-color="#ff7c00"/><stop offset="0.500" stop-color="#ff6e00"/><stop offset="0.529" stop-color="#ff5e00"/><stop offset="0.559" stop-color="#ff4c00"/><stop offset="0.588" stop-color="#ff3a00"/><stop offset="0.618" stop-color="#ff2600"/><stop offset="0.647" stop-color="#ff1100"/><stop offset="0.676" stop-color="#ff0003"/><stop offset="0.706" stop-color="#ff0018"/><stop offset="0.735" stop-color="#ff002b"/><stop offset="0.765" stop-color="#ff003d"/><stop offset="0.794" stop-color="#ff004e"/><stop offset="0.824" stop-color="#ff005d"/><stop offset="0.853" stop-color="#ff006a"/><stop offset="0.882" stop-color="#ff0076"/><stop offset="0.912" stop-color="#ff0081"/><stop offset="0.941" stop-color="#ff008b"/><stop offset="0.971" stop-color="#ff0094"/><stop offset="1.000" stop-color="#ff0098"/></linearGradient><linearGradient id="cg44" x1="0" x2="0" y1="0" y2="1"><stop offset="0.000" stop-color="#fde900"/><stop offset="0.029" stop-color="#fde600"/><stop offset="0.059" stop-color="#fee300"/><stop offset="0.088" stop-color="#fedf00"/><stop offset="0.118" stop-color="#fedb00"/><stop offset="0.147" stop-color="#fed600"/><stop offset="0.176" stop-color="#ffd100"/><stop offset="0.206" stop-color="#ffcc00"/><stop offset="0.235" stop-color="#ffc500"/><stop offset="0.265" stop-color="#ffbe00"/><stop offset="0.294" stop-color="#ffb700"/><stop offset="0.324" stop-color="#ffae00"/><stop offset="0.353" stop-color="#ffa500"/><stop offset="0.382" stop-color="#ff9b00"/><stop offset="0.412" stop-color="#ff9100"/><stop offset="0.441" stop-color="#ff8500"/><stop offset="0.471" stop-color="#ff7800"/><stop offset="0.500" stop-color="#ff6900"/><stop offset="0.529" stop-color="#ff5a00"/><stop offset="0.559" stop-color="#ff4900"/><stop offset="0.588" stop-color="#ff3700"/><stop offset="0.618" stop-color="#ff2400"/><stop offset="0.647" stop-color="#ff1000"/><stop offset="0.676" stop-color="#ff0004"/><stop offset="0.706" stop-color="#ff0017"/><stop offset="0.735" stop-color="#ff002a"/><stop offset="0.765" stop-color="#ff003b"/><stop offset="0.794" stop-color="#ff004b"/><stop offset="0.824" stop-color="#ff005a"/><stop offset="0.853" stop-color="#ff0067"/><stop offset="0.882" stop-color="#ff0073"/><stop offset="0.912" stop-color="#ff007d"/><stop offset="0.941" stop-color="#ff0087"/><stop offset="0.971" stop-color="#ff0090"/><stop offset="1.000" stop-color="#ff0094"/></linearGradient><linearGradient id="cg45" x1="0" x2="0" y1="0" y2="1"><stop offset="0.000" stop-color="#fde500"/><stop offset="0.029" stop-color="#fee200"/><stop offset="0.059" stop-color="#fede00"/><stop offset="0.088" stop-color="#feda00"/><stop offset="0.118" stop-color="#fed600"/><stop offset="0.147" stop-color="#ffd100"/><stop offset="0.176" stop-color="#ffcc00"/><stop offset="0.206" stop-color="#ffc600"/><stop offset="0.235" stop-color="#ffc000"/><stop offset="0.265" stop-color="#ffb900"/><stop offset="0.294" stop-color="#ffb200"/><stop offset="0.324" stop-color="#ffa900"/><stop offset="0.353" stop-color="#ffa000"/><stop offset="0.382" stop-color="#ff9600"/><stop offset="0.412" stop-color="#ff8c00"/><stop offset="0.441" stop-color="#ff8000"/><stop offset="0.471" stop-color="#ff7300"/><stop offset="0.500" stop-color="#ff6500"/><stop offset="0.529" stop-color="#ff5600"/><stop offset="0.559" stop-color="#ff4600"/><stop offset="0.588" stop-color="#ff3500"/><stop offset="0.618" stop-color="#ff2200"/><stop offset="0.647" stop-color="#ff0f00"/><stop offset="0.676" stop-color="#ff0004"/><stop offset="0.706" stop-color="#ff0017"/><stop offset="0.735" stop-color="#ff0028"/><stop offset="0.765" stop-color="#ff0039"/><stop offset="0.794" stop-color="#ff0049"/><stop offset="0.824" stop-color="#ff0057"/><stop offset="0.853" stop-color="#ff0064"/><stop offset="0.882" stop-color="#ff006f"/><stop offset="0.912" stop-color="#ff007a"/><stop offset="0.941" stop-color="#ff0084"/><stop offset="0.971" stop-color="#ff008d"/><stop offset="1.000" stop-color="#ff0090"/></linearGradient><linearGradient id="cg46" x1="0" x2="0" y1="0" y2="1"><stop offset="0.000" stop-color="#fee000"/><stop offset="0.029" stop-color="#fedd00"/><stop offset="0.059" stop-color="#feda00"/><stop offset="0.088" stop-color="#fed600"/><stop offset="0.118" stop-color="#ffd100"/><stop offset="0.147" stop-color="#ffcd00"/><stop offset="0.176" stop-color="#ffc700"/><stop offset="0.206" stop-color="#ffc100"/><stop offset="0.235" stop-color="#ffbb00"/><stop offset="0.265" stop-color="#ffb400"/><stop offset="0.294" stop-color="#ffac00"/><stop offset="0.324" stop-color="#ffa400"/><stop offset="0.353" stop-color="#ff9b00"/><stop offset="0.382" stop-color="#ff9200"/><stop offset="0.412" stop-color="#ff8700"/><stop offset="0.441" stop-color="#ff7b00"/><stop offset="0.471" stop-color="#ff6f00"/><stop offset="0.500" stop-color="#ff6100"/><stop offset="0.529" stop-color="#ff5300"/><stop offset="0.559" stop-color="#ff4300"/><stop offset="0.588" stop-color="#ff3200"/><stop offset="0.618" stop-color="#ff2100"/><stop offset="0.647" stop-color="#ff0e00"/><stop offset="0.676" stop-color="#ff0004"/><stop offset="0.706" stop-color="#ff0016"/><stop offset="0.735" stop-color="#ff0027"/><stop offset="0.765" stop-color="#ff0037"/><stop offset="0.794" stop-color="#ff0046"/><stop offset="0.824" stop-color="#ff0054"/><stop offset="0.853" stop-color="#ff0061"/><stop offset="0.882" stop-color="#ff006c"/><stop offset="0.912" stop-color="#ff0077"/><stop offset="0.941" stop-color="#ff0080"/><stop offset="0.971" stop-color="#ff0089"/><stop offset="1.000" stop-color="#ff008d"/></linearGradient></defs><g clip-path="url(#cie)"><g filter="url(#cieb)"><rect x="208.20" y="156.63" width="2.90" height="136.00" fill="url(#cg0)"/><rect x="210.70" y="156.63" width="2.90" height="136.00" fill="url(#cg1)"/><rect x="213.20" y="156.63" width="2.90" height="136.00" fill="url(#cg2)"/><rect x="215.70" y="156.63" width="2.90" height="136.00" fill="url(#cg3)"/><rect x="218.20" y="156.63" width="2.90" height="136.00" fill="url(#cg4)"/><rect x="220.70" y="156.63" width="2.90" height="136.00" fill="url(#cg5)"/><rect x="223.20" y="156.63" width="2.90" height="136.00" fill="url(#cg6)"/><rect x="225.70" y="156.63" width="2.90" height="136.00" fill="url(#cg7)"/><rect x="228.20" y="156.63" width="2.90" height="136.00" fill="url(#cg8)"/><rect x="230.70" y="156.63" width="2.90" height="136.00" fill="url(#cg9)"/><rect x="233.20" y="156.63" width="2.90" height="136.00" fill="url(#cg10)"/><rect x="235.70" y="156.63" width="2.90" height="136.00" fill="url(#cg11)"/><rect x="238.20" y="156.63" width="2.90" height="136.00" fill="url(#cg12)"/><rect x="240.70" y="156.63" width="2.90" height="136.00" fill="url(#cg13)"/><rect x="243.20" y="156.63" width="2.90" height="136.00" fill="url(#cg14)"/><rect x="245.70" y="156.63" width="2.90" height="136.00" fill="url(#cg15)"/><rect x="248.20" y="156.63" width="2.90" height="136.00" fill="url(#cg16)"/><rect x="250.70" y="156.63" width="2.90" height="136.00" fill="url(#cg17)"/><rect x="253.20" y="156.63" width="2.90" height="136.00" fill="url(#cg18)"/><rect x="255.70" y="156.63" width="2.90" height="136.00" fill="url(#cg19)"/><rect x="258.20" y="156.63" width="2.90" height="136.00" fill="url(#cg20)"/><rect x="260.70" y="156.63" width="2.90" height="136.00" fill="url(#cg21)"/><rect x="263.20" y="156.63" width="2.90" height="136.00" fill="url(#cg22)"/><rect x="265.70" y="156.63" width="2.90" height="136.00" fill="url(#cg23)"/><rect x="268.20" y="156.63" width="2.90" height="136.00" fill="url(#cg24)"/><rect x="270.70" y="156.63" width="2.90" height="136.00" fill="url(#cg25)"/><rect x="273.20" y="156.63" width="2.90" height="136.00" fill="url(#cg26)"/><rect x="275.70" y="156.63" width="2.90" height="136.00" fill="url(#cg27)"/><rect x="278.20" y="156.63" width="2.90" height="136.00" fill="url(#cg28)"/><rect x="280.70" y="156.63" width="2.90" height="136.00" fill="url(#cg29)"/><rect x="283.20" y="156.63" width="2.90" height="136.00" fill="url(#cg30)"/><rect x="285.70" y="156.63" width="2.90" height="136.00" fill="url(#cg31)"/><rect x="288.20" y="156.63" width="2.90" height="136.00" fill="url(#cg32)"/><rect x="290.70" y="156.63" width="2.90" height="136.00" fill="url(#cg33)"/><rect x="293.20" y="156.63" width="2.90" height="136.00" fill="url(#cg34)"/><rect x="295.70" y="156.63" width="2.90" height="136.00" fill="url(#cg35)"/><rect x="298.20" y="156.63" width="2.90" height="136.00" fill="url(#cg36)"/><rect x="300.70" y="156.63" width="2.90" height="136.00" fill="url(#cg37)"/><rect x="303.20" y="156.63" width="2.90" height="136.00" fill="url(#cg38)"/><rect x="305.70" y="156.63" width="2.90" height="136.00" fill="url(#cg39)"/><rect x="308.20" y="156.63" width="2.90" height="136.00" fill="url(#cg40)"/><rect x="310.70" y="156.63" width="2.90" height="136.00" fill="url(#cg41)"/><rect x="313.20" y="156.63" width="2.90" height="136.00" fill="url(#cg42)"/><rect x="315.70" y="156.63" width="2.90" height="136.00" fill="url(#cg43)"/><rect x="318.20" y="156.63" width="2.90" height="136.00" fill="url(#cg44)"/><rect x="320.70" y="156.63" width="2.90" height="136.00" fill="url(#cg45)"/><rect x="323.20" y="156.63" width="2.90" height="136.00" fill="url(#cg46)"/></g></g><path d="M236.81 290.31L236.76 290.33L236.69 290.34L236.57 290.34L236.38 290.30L235.99 290.01L235.27 289.38L234.75 288.92L234.04 288.31L233.15 287.52L232.04 286.42L230.69 284.81L228.88 281.98L226.58 277.41L223.68 270.17L220.10 259.45L216.40 244.58L212.93 226.02L210.50 206.19L209.82 187.84L211.40 172.79L215.37 163.05L220.98 159.61L227.31 160.81L233.74 164.01L239.79 167.84L245.61 172.15L251.36 176.88L257.03 181.92L262.70 187.19L268.37 192.62L274.02 198.12L279.63 203.62L285.14 209.06L290.48 214.36L295.61 219.44L300.43 224.20L304.82 228.57L308.64 232.36L312.00 235.68L314.80 238.43L317.06 240.68L318.87 242.48L320.32 243.90L321.47 245.05L323.23 246.80L324.34 247.89L324.98 248.52L325.52 249.06L325.72 249.26Z" fill="none" stroke="#111" stroke-width="0.9"/><path d="M224.62 269.83L221.99 270.78M217.38 244.37L214.64 244.96M211.50 206.11L208.71 206.34M221.17 160.59L220.65 157.84M245.00 172.93L246.72 170.73M267.68 193.34L269.62 191.32M289.78 215.07L291.75 213.08M307.94 233.07L309.91 231.08M318.17 243.19L320.14 241.20" stroke="#111" stroke-width="0.7"/><rect x="209.20" y="149.17" width="126.88" height="141.93" fill="none" stroke="#888" stroke-width="0.6"/><text x="209.20" y="297.8" font-size="6.5" fill="#2a2a2a" text-anchor="middle" style="font-family:'Liberation Serif',serif">0.0</text><text x="225.06" y="297.8" font-size="6.5" fill="#2a2a2a" text-anchor="middle" style="font-family:'Liberation Serif',serif">0.1</text><text x="240.92" y="297.8" font-size="6.5" fill="#2a2a2a" text-anchor="middle" style="font-family:'Liberation Serif',serif">0.2</text><text x="256.78" y="297.8" font-size="6.5" fill="#2a2a2a" text-anchor="middle" style="font-family:'Liberation Serif',serif">0.3</text><text x="272.64" y="297.8" font-size="6.5" fill="#2a2a2a" text-anchor="middle" style="font-family:'Liberation Serif',serif">0.4</text><text x="288.50" y="297.8" font-size="6.5" fill="#2a2a2a" text-anchor="middle" style="font-family:'Liberation Serif',serif">0.5</text><text x="304.36" y="297.8" font-size="6.5" fill="#2a2a2a" text-anchor="middle" style="font-family:'Liberation Serif',serif">0.6</text><text x="320.22" y="297.8" font-size="6.5" fill="#2a2a2a" text-anchor="middle" style="font-family:'Liberation Serif',serif">0.7</text><text x="336.08" y="297.8" font-size="6.5" fill="#2a2a2a" text-anchor="middle" style="font-family:'Liberation Serif',serif">0.8</text><text x="207.6" y="293.30" font-size="6.5" fill="#2a2a2a" text-anchor="end" style="font-family:'Liberation Serif',serif">0.0</text><text x="207.6" y="277.53" font-size="6.5" fill="#2a2a2a" text-anchor="end" style="font-family:'Liberation Serif',serif">0.1</text><text x="207.6" y="261.76" font-size="6.5" fill="#2a2a2a" text-anchor="end" style="font-family:'Liberation Serif',serif">0.2</text><text x="207.6" y="245.99" font-size="6.5" fill="#2a2a2a" text-anchor="end" style="font-family:'Liberation Serif',serif">0.3</text><text x="207.6" y="230.22" font-size="6.5" fill="#2a2a2a" text-anchor="end" style="font-family:'Liberation Serif',serif">0.4</text><text x="207.6" y="214.45" font-size="6.5" fill="#2a2a2a" text-anchor="end" style="font-family:'Liberation Serif',serif">0.5</text><text x="207.6" y="198.68" font-size="6.5" fill="#2a2a2a" text-anchor="end" style="font-family:'Liberation Serif',serif">0.6</text><text x="207.6" y="182.91" font-size="6.5" fill="#2a2a2a" text-anchor="end" style="font-family:'Liberation Serif',serif">0.7</text><text x="207.6" y="167.14" font-size="6.5" fill="#2a2a2a" text-anchor="end" style="font-family:'Liberation Serif',serif">0.8</text><text x="207.6" y="151.37" font-size="6.5" fill="#2a2a2a" text-anchor="end" style="font-family:'Liberation Serif',serif">0.9</text><text x="280" y="300.5" font-size="6.8" font-style="italic" fill="#333" text-anchor="middle" style="font-family:'Liberation Serif',serif">x</text><text x="200.3" y="222.5" font-size="7.0" font-style="italic" fill="#333" text-anchor="middle" style="font-family:'Liberation Serif',serif">y</text><text x="220.40" y="157.20" font-size="6.0" fill="#3434c8" text-anchor="middle" style="font-family:'Liberation Serif',serif">520</text><text x="250.50" y="170.20" font-size="6.0" fill="#3434c8" text-anchor="middle" style="font-family:'Liberation Serif',serif">540</text><text x="273.50" y="190.30" font-size="6.0" fill="#3434c8" text-anchor="middle" style="font-family:'Liberation Serif',serif">560</text><text x="295.40" y="212.40" font-size="6.0" fill="#3434c8" text-anchor="middle" style="font-family:'Liberation Serif',serif">580</text><text x="313.70" y="230.50" font-size="6.0" fill="#3434c8" text-anchor="middle" style="font-family:'Liberation Serif',serif">600</text><text x="322.00" y="240.80" font-size="6.0" fill="#3434c8" text-anchor="middle" style="font-family:'Liberation Serif',serif">620</text><text x="332.30" y="252.00" font-size="6.0" fill="#3434c8" text-anchor="middle" style="font-family:'Liberation Serif',serif">700</text><text x="203.00" y="208.60" font-size="6.0" fill="#3434c8" text-anchor="middle" style="font-family:'Liberation Serif',serif">500</text><text x="212.50" y="250.30" font-size="6.0" fill="#3434c8" text-anchor="middle" style="font-family:'Liberation Serif',serif">490</text><text x="217.00" y="273.60" font-size="6.0" fill="#3434c8" text-anchor="middle" style="font-family:'Liberation Serif',serif">480</text><text x="222.40" y="286.10" font-size="6.0" fill="#3434c8" text-anchor="middle" style="font-family:'Liberation Serif',serif">470</text><text x="225.40" y="292.60" font-size="6.0" fill="#3434c8" text-anchor="middle" style="font-family:'Liberation Serif',serif">460</text><text x="238.00" y="293.80" font-size="6.0" fill="#3434c8" text-anchor="middle" style="font-family:'Liberation Serif',serif">380</text><path d="M245.80 255.50L249.20 250.80L253.00 246.40L257.50 242.50L262.00 239.20L266.50 235.40L271.00 232.00L275.50 229.50L280.00 227.50L284.50 226.60L289.00 226.30L292.80 226.70L296.30 227.50L300.00 228.80L303.50 230.20L307.00 232.00" fill="none" stroke="#1a1a1a" stroke-width="0.75"/><line x1="271" y1="223.9" x2="267.1" y2="240.1" stroke="#2a2a2a" stroke-width="0.6"/><line x1="278.2" y1="223.0" x2="274.3" y2="235.6" stroke="#2a2a2a" stroke-width="0.6"/><line x1="286.4" y1="220.3" x2="281.0" y2="232.0" stroke="#2a2a2a" stroke-width="0.6"/><line x1="292.7" y1="222.1" x2="288.2" y2="230.2" stroke="#2a2a2a" stroke-width="0.6"/><line x1="260.2" y1="226.6" x2="261.1" y2="250.0" stroke="#2a2a2a" stroke-width="0.6"/><line x1="249.6" y1="238.3" x2="253.8" y2="248.6" stroke="#2a2a2a" stroke-width="0.6"/><line x1="245.0" y1="252.0" x2="247.5" y2="257.5" stroke="#2a2a2a" stroke-width="0.6"/><path d="M242.20 241.20L243.09 243.58L245.62 243.69L243.64 245.27L244.32 247.71L242.20 246.31L240.08 247.71L240.76 245.27L238.78 243.69L241.31 243.58Z" fill="#2e62d6"/><path d="M262.00 218.80L262.74 220.78L264.85 220.87L263.20 222.19L263.76 224.23L262.00 223.06L260.24 224.23L260.80 222.19L259.15 220.87L261.26 220.78Z" fill="#6f9a4a"/><text x="234.6" y="223.4" font-size="4.4" fill="#5aa868" style="font-family:'Liberation Serif',serif" textLength="14" lengthAdjust="spacingAndGlyphs">(pPDA)PbBr4</text><text x="262" y="214.6" font-size="4.4" fill="#e8a020" style="font-family:'Liberation Serif',serif" opacity="0.8">(pPDA)PbBr4</text><text x="221.5" y="252.2" font-size="5.3" fill="#4048cc" style="font-family:'Liberation Serif',serif" textLength="62" lengthAdjust="spacingAndGlyphs">(oPDA)4(PbBr4)2Pb3Br10-4H3PO2</text><text x="247.4" y="219.6" font-size="5.0" fill="#111" style="font-family:'Liberation Serif',serif">T<tspan font-size="3.6" dy="1">c</tspan><tspan dy="-1">(°K)</tspan></text><text x="238.6" y="237.8" font-size="3.4" fill="#111" style="font-family:'Liberation Serif',serif">10000</text><text x="255.7" y="227.8" font-size="3.4" fill="#111" style="font-family:'Liberation Serif',serif">6000</text><text x="267.4" y="222.8" font-size="3.4" fill="#111" style="font-family:'Liberation Serif',serif">4000</text><text x="276.4" y="219.7" font-size="3.4" fill="#111" style="font-family:'Liberation Serif',serif">2700</text><text x="285.5" y="219.7" font-size="3.4" fill="#111" style="font-family:'Liberation Serif',serif">2500</text><text x="286.4" y="234.1" font-size="3.4" fill="#111" style="font-family:'Liberation Serif',serif">2000</text><text x="297.2" y="234.1" font-size="3.4" fill="#111" style="font-family:'Liberation Serif',serif">1500</text>
<defs><radialGradient id="sph" cx="0.38" cy="0.35" r="0.7"><stop offset="0" stop-color="#ffb8f4"/><stop offset="0.35" stop-color="#e43bd6"/><stop offset="1" stop-color="#a0108c"/></radialGradient><linearGradient id="ellg" x1="0" x2="1" y1="0" y2="0"><stop offset="0" stop-color="#06dce0"/><stop offset="0.38" stop-color="#0adde0"/><stop offset="0.5" stop-color="#c8f0d8"/><stop offset="0.56" stop-color="#fcf3d4"/><stop offset="0.72" stop-color="#fae4a0"/><stop offset="0.88" stop-color="#f6cc40"/><stop offset="1" stop-color="#f4bc10"/></linearGradient><filter id="bl1" x="-20%" y="-40%" width="140%" height="180%"><feGaussianBlur stdDeviation="0.9"/></filter></defs><text transform="translate(356.90,13.80) scale(0.95,1)" font-size="15.2" text-anchor="start" fill="#111" font-weight="bold" style="font-family:'Liberation Sans',sans-serif">c</text><text transform="translate(427.00,13.00) scale(0.93,1)" font-size="8.0" text-anchor="start" fill="#1a1a1a" style="font-family:'Liberation Sans',sans-serif" stroke="#1a1a1a" stroke-width="0.15">Excimer formation</text><ellipse cx="441.7" cy="26.0" rx="29.6" ry="9.4" fill="#fdf5d8"/><ellipse cx="441.7" cy="26.0" rx="29.0" ry="8.9" fill="url(#ellg)" filter="url(#bl1)"/><ellipse cx="441.7" cy="26.0" rx="29.6" ry="9.4" fill="none" stroke="#f0bd1a" stroke-width="0.9" stroke-dasharray="1.6 1.1"/><path d="M423.80 18.60L428.70 21.95L428.70 28.65L423.80 32.00L418.90 28.65L418.90 21.95ZM433.30 18.60L438.20 21.95L438.20 28.65L433.30 32.00L428.40 28.65L428.40 21.95Z" fill="none" stroke="#2a8890" stroke-width="1.05"/><path d="M433.30 32.00L433.30 40.80L427.90 44.50" fill="none" stroke="#2a8890" stroke-width="1.05"/><circle cx="428.7" cy="21.95" r="0.85" fill="#1e5c5c"/><circle cx="433.3" cy="32.0" r="0.85" fill="#1e5c5c"/><circle cx="423.8" cy="18.6" r="0.85" fill="#1e5c5c"/><circle cx="438.2" cy="21.95" r="0.85" fill="#1e5c5c"/><circle cx="433.3" cy="18.6" r="0.85" fill="#1e5c5c"/><circle cx="428.4" cy="21.95" r="0.85" fill="#1e5c5c"/><circle cx="428.4" cy="28.65" r="0.85" fill="#1e5c5c"/><circle cx="438.2" cy="28.65" r="0.85" fill="#1e5c5c"/><circle cx="428.7" cy="28.65" r="0.85" fill="#1e5c5c"/><circle cx="418.9" cy="21.95" r="0.85" fill="#1e5c5c"/><circle cx="418.9" cy="28.65" r="0.85" fill="#1e5c5c"/><circle cx="423.8" cy="32.0" r="0.85" fill="#1e5c5c"/><circle cx="433.30" cy="40.80" r="0.85" fill="#1e5c5c"/><circle cx="427.90" cy="44.50" r="1.05" fill="#e41e1e"/><path d="M452.70 18.60L457.60 21.95L457.60 28.65L452.70 32.00L447.80 28.65L447.80 21.95ZM462.30 18.60L467.20 21.95L467.20 28.65L462.30 32.00L457.40 28.65L457.40 21.95Z" fill="none" stroke="#d0a860" stroke-width="1.05"/><path d="M462.30 32.00L462.30 40.80L458.50 44.50" fill="none" stroke="#d0a860" stroke-width="1.05"/><circle cx="457.4" cy="21.95" r="0.85" fill="#a88850"/><circle cx="457.4" cy="28.65" r="0.85" fill="#a88850"/><circle cx="457.6" cy="28.65" r="0.85" fill="#a88850"/><circle cx="457.6" cy="21.95" r="0.85" fill="#a88850"/><circle cx="452.7" cy="32.0" r="0.85" fill="#a88850"/><circle cx="452.7" cy="18.6" r="0.85" fill="#a88850"/><circle cx="447.8" cy="28.65" r="0.85" fill="#a88850"/><circle cx="447.8" cy="21.95" r="0.85" fill="#a88850"/><circle cx="467.2" cy="28.65" r="0.85" fill="#a88850"/><circle cx="462.3" cy="32.0" r="0.85" fill="#a88850"/><circle cx="467.2" cy="21.95" r="0.85" fill="#a88850"/><circle cx="462.3" cy="18.6" r="0.85" fill="#a88850"/><circle cx="462.30" cy="40.80" r="0.85" fill="#a88850"/><circle cx="458.50" cy="44.50" r="1.05" fill="#e41e1e"/><path d="M483.70 19.70L488.60 23.05L488.60 29.75L483.70 33.10L478.80 29.75L478.80 23.05ZM493.50 19.70L498.40 23.05L498.40 29.75L493.50 33.10L488.60 29.75L488.60 23.05Z" fill="none" stroke="#62c4ce" stroke-width="1.05"/><path d="M493.50 33.10L493.50 40.70L488.50 44.30" fill="none" stroke="#62c4ce" stroke-width="1.05"/><circle cx="498.4" cy="23.05" r="0.85" fill="#4a4a4a"/><circle cx="493.5" cy="19.7" r="0.85" fill="#4a4a4a"/><circle cx="498.4" cy="29.75" r="0.85" fill="#4a4a4a"/><circle cx="493.5" cy="33.1" r="0.85" fill="#4a4a4a"/><circle cx="483.7" cy="19.7" r="0.85" fill="#4a4a4a"/><circle cx="488.6" cy="23.05" r="0.85" fill="#4a4a4a"/><circle cx="478.8" cy="23.05" r="0.85" fill="#4a4a4a"/><circle cx="488.6" cy="29.75" r="0.85" fill="#4a4a4a"/><circle cx="478.8" cy="29.75" r="0.85" fill="#4a4a4a"/><circle cx="483.7" cy="33.1" r="0.85" fill="#4a4a4a"/><circle cx="493.50" cy="40.70" r="0.85" fill="#4a4a4a"/><circle cx="488.50" cy="44.30" r="1.05" fill="#e41e1e"/><path d="M519.00 19.70L523.90 23.05L523.90 29.75L519.00 33.10L514.10 29.75L514.10 23.05ZM528.50 19.70L533.40 23.05L533.40 29.75L528.50 33.10L523.60 29.75L523.60 23.05Z" fill="none" stroke="#62c4ce" stroke-width="1.05"/><path d="M528.50 33.10L528.50 40.70L523.50 44.30" fill="none" stroke="#62c4ce" stroke-width="1.05"/><circle cx="514.1" cy="29.75" r="0.85" fill="#4a4a4a"/><circle cx="533.4" cy="23.05" r="0.85" fill="#4a4a4a"/><circle cx="523.6" cy="23.05" r="0.85" fill="#4a4a4a"/><circle cx="528.5" cy="19.7" r="0.85" fill="#4a4a4a"/><circle cx="533.4" cy="29.75" r="0.85" fill="#4a4a4a"/><circle cx="523.6" cy="29.75" r="0.85" fill="#4a4a4a"/><circle cx="528.5" cy="33.1" r="0.85" fill="#4a4a4a"/><circle cx="523.9" cy="23.05" r="0.85" fill="#4a4a4a"/><circle cx="519.0" cy="19.7" r="0.85" fill="#4a4a4a"/><circle cx="514.1" cy="23.05" r="0.85" fill="#4a4a4a"/><circle cx="523.9" cy="29.75" r="0.85" fill="#4a4a4a"/><circle cx="519.0" cy="33.1" r="0.85" fill="#4a4a4a"/><circle cx="528.50" cy="40.70" r="0.85" fill="#4a4a4a"/><circle cx="523.50" cy="44.30" r="1.05" fill="#e41e1e"/><path d="M427.90 83.20L432.80 86.55L432.80 93.25L427.90 96.60L423.00 93.25L423.00 86.55ZM437.80 83.20L442.70 86.55L442.70 93.25L437.80 96.60L432.90 93.25L432.90 86.55Z" fill="none" stroke="#62c4ce" stroke-width="1.05"/><path d="M437.80 83.20L437.80 76.20L432.70 71.70" fill="none" stroke="#62c4ce" stroke-width="1.05"/><circle cx="427.9" cy="83.2" r="0.85" fill="#4a4a4a"/><circle cx="432.9" cy="86.55" r="0.85" fill="#4a4a4a"/><circle cx="423.0" cy="93.25" r="0.85" fill="#4a4a4a"/><circle cx="442.7" cy="93.25" r="0.85" fill="#4a4a4a"/><circle cx="427.9" cy="96.6" r="0.85" fill="#4a4a4a"/><circle cx="437.8" cy="83.2" r="0.85" fill="#4a4a4a"/><circle cx="432.8" cy="86.55" r="0.85" fill="#4a4a4a"/><circle cx="432.9" cy="93.25" r="0.85" fill="#4a4a4a"/><circle cx="437.8" cy="96.6" r="0.85" fill="#4a4a4a"/><circle cx="432.8" cy="93.25" r="0.85" fill="#4a4a4a"/><circle cx="423.0" cy="86.55" r="0.85" fill="#4a4a4a"/><circle cx="442.7" cy="86.55" r="0.85" fill="#4a4a4a"/><circle cx="437.80" cy="76.20" r="0.85" fill="#4a4a4a"/><circle cx="432.70" cy="71.70" r="1.05" fill="#e41e1e"/><path d="M457.90 83.20L462.80 86.55L462.80 93.25L457.90 96.60L453.00 93.25L453.00 86.55ZM467.70 83.20L472.60 86.55L472.60 93.25L467.70 96.60L462.80 93.25L462.80 86.55Z" fill="none" stroke="#62c4ce" stroke-width="1.05"/><path d="M467.70 83.20L467.70 76.20L462.60 71.70" fill="none" stroke="#62c4ce" stroke-width="1.05"/><circle cx="457.9" cy="83.2" r="0.85" fill="#4a4a4a"/><circle cx="467.7" cy="96.6" r="0.85" fill="#4a4a4a"/><circle cx="453.0" cy="86.55" r="0.85" fill="#4a4a4a"/><circle cx="462.8" cy="86.55" r="0.85" fill="#4a4a4a"/><circle cx="457.9" cy="96.6" r="0.85" fill="#4a4a4a"/><circle cx="453.0" cy="93.25" r="0.85" fill="#4a4a4a"/><circle cx="462.8" cy="93.25" r="0.85" fill="#4a4a4a"/><circle cx="467.7" cy="83.2" r="0.85" fill="#4a4a4a"/><circle cx="472.6" cy="86.55" r="0.85" fill="#4a4a4a"/><circle cx="472.6" cy="93.25" r="0.85" fill="#4a4a4a"/><circle cx="467.70" cy="76.20" r="0.85" fill="#4a4a4a"/><circle cx="462.60" cy="71.70" r="1.05" fill="#e41e1e"/><path d="M488.30 84.80L493.20 88.15L493.20 94.85L488.30 98.20L483.40 94.85L483.40 88.15ZM498.10 84.80L503.00 88.15L503.00 94.85L498.10 98.20L493.20 94.85L493.20 88.15Z" fill="none" stroke="#62c4ce" stroke-width="1.05"/><path d="M498.10 84.80L498.10 77.70L493.40 73.90" fill="none" stroke="#62c4ce" stroke-width="1.05"/><circle cx="498.1" cy="98.2" r="0.85" fill="#4a4a4a"/><circle cx="483.4" cy="94.85" r="0.85" fill="#4a4a4a"/><circle cx="483.4" cy="88.15" r="0.85" fill="#4a4a4a"/><circle cx="503.0" cy="88.15" r="0.85" fill="#4a4a4a"/><circle cx="503.0" cy="94.85" r="0.85" fill="#4a4a4a"/><circle cx="493.2" cy="88.15" r="0.85" fill="#4a4a4a"/><circle cx="493.2" cy="94.85" r="0.85" fill="#4a4a4a"/><circle cx="498.1" cy="84.8" r="0.85" fill="#4a4a4a"/><circle cx="488.3" cy="98.2" r="0.85" fill="#4a4a4a"/><circle cx="488.3" cy="84.8" r="0.85" fill="#4a4a4a"/><circle cx="498.10" cy="77.70" r="0.85" fill="#4a4a4a"/><circle cx="493.40" cy="73.90" r="1.05" fill="#e41e1e"/><path d="M518.20 83.20L523.10 86.55L523.10 93.25L518.20 96.60L513.30 93.25L513.30 86.55ZM528.10 83.20L533.00 86.55L533.00 93.25L528.10 96.60L523.20 93.25L523.20 86.55Z" fill="none" stroke="#62c4ce" stroke-width="1.05"/><path d="M528.10 83.20L528.10 76.20L523.00 72.10" fill="none" stroke="#62c4ce" stroke-width="1.05"/><circle cx="533.0" cy="86.55" r="0.85" fill="#4a4a4a"/><circle cx="528.1" cy="96.6" r="0.85" fill="#4a4a4a"/><circle cx="523.1" cy="93.25" r="0.85" fill="#4a4a4a"/><circle cx="523.2" cy="86.55" r="0.85" fill="#4a4a4a"/><circle cx="518.2" cy="83.2" r="0.85" fill="#4a4a4a"/><circle cx="513.3" cy="93.25" r="0.85" fill="#4a4a4a"/><circle cx="533.0" cy="93.25" r="0.85" fill="#4a4a4a"/><circle cx="523.2" cy="93.25" r="0.85" fill="#4a4a4a"/><circle cx="518.2" cy="96.6" r="0.85" fill="#4a4a4a"/><circle cx="528.1" cy="83.2" r="0.85" fill="#4a4a4a"/><circle cx="523.1" cy="86.55" r="0.85" fill="#4a4a4a"/><circle cx="513.3" cy="86.55" r="0.85" fill="#4a4a4a"/><circle cx="528.10" cy="76.20" r="0.85" fill="#4a4a4a"/><circle cx="523.00" cy="72.10" r="1.05" fill="#e41e1e"/><path d="M413.60 40.90L397.35 57.10L414.20 56.70Z" fill="#7fa2bf"/><path d="M413.60 40.90L414.20 56.70L429.85 57.10Z" fill="#8f9fb3"/><path d="M397.35 57.10L414.20 56.70L413.60 73.30Z" fill="#a3cdf0"/><path d="M414.20 56.70L429.85 57.10L413.60 73.30Z" fill="#717a8c"/><path d="M413.60 40.90L429.85 57.10L413.60 73.30L397.35 57.10Z" fill="none" stroke="#2895bd" stroke-width="1.5" stroke-linejoin="round"/><path d="M413.60 40.90L414.20 56.70L413.60 73.30M397.35 57.10L414.20 56.70L429.85 57.10" fill="none" stroke="#2895bd" stroke-width="1.25"/><path d="M446.10 40.90L429.85 57.10L446.70 56.70Z" fill="#7fa2bf"/><path d="M446.10 40.90L446.70 56.70L462.35 57.10Z" fill="#8f9fb3"/><path d="M429.85 57.10L446.70 56.70L446.10 73.30Z" fill="#a3cdf0"/><path d="M446.70 56.70L462.35 57.10L446.10 73.30Z" fill="#717a8c"/><path d="M446.10 40.90L462.35 57.10L446.10 73.30L429.85 57.10Z" fill="none" stroke="#2895bd" stroke-width="1.5" stroke-linejoin="round"/><path d="M446.10 40.90L446.70 56.70L446.10 73.30M429.85 57.10L446.70 56.70L462.35 57.10" fill="none" stroke="#2895bd" stroke-width="1.25"/><path d="M478.60 40.90L462.35 57.10L479.20 56.70Z" fill="#7fa2bf"/><path d="M478.60 40.90L479.20 56.70L494.85 57.10Z" fill="#8f9fb3"/><path d="M462.35 57.10L479.20 56.70L478.60 73.30Z" fill="#a3cdf0"/><path d="M479.20 56.70L494.85 57.10L478.60 73.30Z" fill="#717a8c"/><path d="M478.60 40.90L494.85 57.10L478.60 73.30L462.35 57.10Z" fill="none" stroke="#2895bd" stroke-width="1.5" stroke-linejoin="round"/><path d="M478.60 40.90L479.20 56.70L478.60 73.30M462.35 57.10L479.20 56.70L494.85 57.10" fill="none" stroke="#2895bd" stroke-width="1.25"/><path d="M511.10 40.90L494.85 57.10L511.70 56.70Z" fill="#7fa2bf"/><path d="M511.10 40.90L511.70 56.70L527.35 57.10Z" fill="#8f9fb3"/><path d="M494.85 57.10L511.70 56.70L511.10 73.30Z" fill="#a3cdf0"/><path d="M511.70 56.70L527.35 57.10L511.10 73.30Z" fill="#717a8c"/><path d="M511.10 40.90L527.35 57.10L511.10 73.30L494.85 57.10Z" fill="none" stroke="#2895bd" stroke-width="1.5" stroke-linejoin="round"/><path d="M511.10 40.90L511.70 56.70L511.10 73.30M494.85 57.10L511.70 56.70L527.35 57.10" fill="none" stroke="#2895bd" stroke-width="1.25"/><circle cx="415.00" cy="57.90" r="3.0" fill="#6a2a78" opacity="0.8"/><circle cx="414.20" cy="56.70" r="2.8" fill="url(#sph)"/><circle cx="447.50" cy="57.90" r="3.0" fill="#6a2a78" opacity="0.8"/><circle cx="446.70" cy="56.70" r="2.8" fill="url(#sph)"/><circle cx="480.00" cy="57.90" r="3.0" fill="#6a2a78" opacity="0.8"/><circle cx="479.20" cy="56.70" r="2.8" fill="url(#sph)"/><circle cx="512.50" cy="57.90" r="3.0" fill="#6a2a78" opacity="0.8"/><circle cx="511.70" cy="56.70" r="2.8" fill="url(#sph)"/><circle cx="413.60" cy="40.90" r="2.7" fill="url(#sph)"/><circle cx="413.60" cy="73.30" r="2.7" fill="url(#sph)"/><circle cx="397.35" cy="57.10" r="2.5" fill="url(#sph)"/><circle cx="446.10" cy="40.90" r="2.7" fill="url(#sph)"/><circle cx="446.10" cy="73.30" r="2.7" fill="url(#sph)"/><circle cx="429.85" cy="57.10" r="2.5" fill="url(#sph)"/><circle cx="478.60" cy="40.90" r="2.7" fill="url(#sph)"/><circle cx="478.60" cy="73.30" r="2.7" fill="url(#sph)"/><circle cx="462.35" cy="57.10" r="2.5" fill="url(#sph)"/><circle cx="511.10" cy="40.90" r="2.7" fill="url(#sph)"/><circle cx="511.10" cy="73.30" r="2.7" fill="url(#sph)"/><circle cx="494.85" cy="57.10" r="2.5" fill="url(#sph)"/><circle cx="527.35" cy="57.10" r="2.5" fill="url(#sph)"/><text transform="translate(379.20,29.40) scale(0.91,1)" font-size="8.2" text-anchor="start" fill="#1a1a1a" style="font-family:'Liberation Sans',sans-serif" stroke="#1a1a1a" stroke-width="0.15">Stepwise</text><text transform="translate(379.20,38.80) scale(0.91,1)" font-size="8.2" text-anchor="start" fill="#1a1a1a" style="font-family:'Liberation Sans',sans-serif" stroke="#1a1a1a" stroke-width="0.15">triplet</text><text transform="translate(379.20,47.10) scale(0.91,1)" font-size="8.2" text-anchor="start" fill="#1a1a1a" style="font-family:'Liberation Sans',sans-serif" stroke="#1a1a1a" stroke-width="0.15">transfer</text><path d="M406.2 47.2C407.5 38 412 31 419.8 28.4" fill="none" stroke="#ea1c1c" stroke-width="1.1"/><path d="M418.6 26.2L423.6 27.6L419.8 30.6Z" fill="#ea1c1c"/><path d="M381.80 94.80L381.89 94.70L381.98 94.60L382.08 94.50L382.17 94.39L382.26 94.29L382.35 94.19L382.44 94.09L382.53 93.99L382.63 93.89L382.72 93.78L382.81 93.68L382.90 93.58L382.99 93.48L383.08 93.38L383.17 93.27L383.26 93.17L383.35 93.06L383.44 92.96L383.52 92.85L383.61 92.75L383.70 92.64L383.79 92.54L383.89 92.44L383.99 92.35L384.09 92.25L384.20 92.17L384.31 92.09L384.43 92.01L384.55 91.93L384.67 91.86L384.79 91.78L384.91 91.71L385.02 91.62L385.11 91.52L385.18 91.40L385.24 91.26L385.27 91.11L385.27 90.93L385.26 90.73L385.23 90.52L385.19 90.30L385.15 90.08L385.13 89.88L385.13 89.69L385.17 89.55L385.26 89.44L385.41 89.39L385.62 89.40L385.90 89.47L386.24 89.58L386.62 89.74L387.03 89.93L387.46 90.13L387.87 90.32L388.24 90.47L388.54 90.55L388.75 90.56L388.86 90.47L388.84 90.28L388.71 89.97L388.45 89.55L388.10 89.05L387.66 88.47L387.18 87.86L386.69 87.23L386.24 86.64L385.85 86.10L385.57 85.67L385.44 85.36L385.46 85.20L385.67 85.20L386.05 85.36L386.59 85.67L387.28 86.10L388.07 86.63L388.93 87.22L389.80 87.82L390.64 88.39L391.39 88.88L392.00 89.26L392.45 89.48L392.71 89.52L392.75 89.37L392.58 89.04L392.21 88.52L391.67 87.85L391.00 87.06L390.24 86.19L389.45 85.29L388.67 84.41L387.98 83.60L387.42 82.91L387.02 82.37L386.83 82.01L386.86 81.85L387.11 81.89L387.58 82.14L388.25 82.55L389.07 83.11L390.01 83.77L391.01 84.49L392.01 85.21L392.97 85.88L393.81 86.46L394.51 86.90L395.01 87.18L395.30 87.25L395.37 87.13L395.20 86.79L394.83 86.27L394.27 85.59L393.58 84.78L392.79 83.88L391.96 82.95L391.15 82.03L390.41 81.18L389.80 80.45L389.35 79.86L389.11 79.46L389.09 79.25L389.29 79.25L389.72 79.45L390.35 79.84L391.14 80.37L392.06 81.02L393.06 81.73L394.07 82.46L395.04 83.15L395.92 83.76L396.66 84.24L397.21 84.55L397.56 84.68L397.68 84.60L397.57 84.32L397.25 83.84L396.74 83.20L396.07 82.42L395.31 81.54L394.49 80.63L393.69 79.71L392.94 78.86L392.31 78.10L391.84 77.50L391.56 77.06L391.50 76.82L391.66 76.78L392.04 76.94L392.62 77.27L393.36 77.76L394.22 78.35L395.15 79.00L396.09 79.67L397.00 80.31L397.82 80.86L398.51 81.29L399.02 81.58L399.35 81.69L399.47 81.61L399.40 81.36L399.14 80.95L398.73 80.39L398.21 79.73L397.61 79.01L396.98 78.26L396.38 77.53L395.85 76.87L395.41 76.29L395.12 75.84L394.97 75.53L394.98 75.35L395.15 75.32L395.46 75.41L395.88 75.61L396.39 75.89L396.95 76.21L397.53 76.55L398.10 76.87L398.61 77.15L399.06 77.37L399.41 77.50L399.67 77.55L399.83 77.51L399.89 77.38L399.87 77.18L399.79 76.92L399.67 76.63L399.52 76.31L399.36 75.98L399.22 75.68L399.11 75.39L399.04 75.14L399.02 74.93L399.04 74.77L399.10 74.64L399.20 74.55L399.33 74.48L399.49 74.44L399.65 74.40L399.83 74.37L400.00 74.34L400.16 74.31L400.31 74.26L400.45 74.20L400.57 74.12L400.68 74.04L400.78 73.94L400.87 73.84L400.95 73.73L401.03 73.61L401.10 73.50L401.18 73.38L401.26 73.27L401.34 73.16L401.42 73.05L401.51 72.94L401.59 72.83L401.68 72.73L401.77 72.63L401.87 72.53L401.96 72.43L402.05 72.33L402.15 72.23L402.24 72.13L402.33 72.02L402.42 71.92L402.52 71.82L402.61 71.72L402.70 71.62L402.79 71.52L402.88 71.42L402.98 71.32L403.07 71.21L403.16 71.11L403.25 71.01L403.34 70.91L403.43 70.81L403.53 70.71L403.62 70.60L403.71 70.50L403.80 70.40" fill="none" stroke="#8a1ab0" stroke-width="1.25" stroke-linejoin="round"/><path d="M405.94 68.02L405.02 72.18L401.91 69.37Z" fill="#8a1ab0"/>
<defs><linearGradient id="gpea" x1="0" x2="0" y1="0" y2="1"><stop offset="0" stop-color="#de84f2"/><stop offset="0.5" stop-color="#e694f6"/><stop offset="0.86" stop-color="#e68ef4"/><stop offset="0.92" stop-color="#f6d2fa"/><stop offset="1" stop-color="#f0c0f6"/></linearGradient><linearGradient id="gpeah" x1="0" x2="1" y1="0" y2="0"><stop offset="0" stop-color="#b040d8" stop-opacity="0.45"/><stop offset="0.3" stop-color="#b040d8" stop-opacity="0"/><stop offset="0.85" stop-color="#f0b0f8" stop-opacity="0"/><stop offset="1" stop-color="#c060e0" stop-opacity="0.35"/></linearGradient><linearGradient id="gnma" x1="0" x2="0" y1="0" y2="1"><stop offset="0" stop-color="#e48e10"/><stop offset="0.15" stop-color="#f2a41c"/><stop offset="0.5" stop-color="#fbb42c"/><stop offset="0.85" stop-color="#f6a820"/><stop offset="0.93" stop-color="#ffe080"/><stop offset="1" stop-color="#f8c040"/></linearGradient><linearGradient id="gmix" x1="0" x2="0" y1="0" y2="1"><stop offset="0" stop-color="#5cb4a2"/><stop offset="0.5" stop-color="#4aa48e"/><stop offset="0.86" stop-color="#3e9a86"/><stop offset="0.93" stop-color="#a8e8dc"/><stop offset="1" stop-color="#70c8b8"/></linearGradient><radialGradient id="gbk" cx="0.2" cy="0.3" r="0.5"><stop offset="0" stop-color="#140a2c"/><stop offset="1" stop-color="#060510"/></radialGradient><filter id="glw" x="-30%" y="-30%" width="160%" height="160%"><feGaussianBlur stdDeviation="1.4"/></filter></defs><rect x="386.7" y="105.6" width="151.8" height="48.0" fill="url(#gbk)"/><path d="M398.6 116.6L428 115.8L430.2 140.4L397.2 141.8Z" fill="#b040e8" opacity="0.6" filter="url(#glw)"/><path d="M447.6 113.8L477 113.8L477.8 143.2L445.4 143.2Z" fill="#f0a020" opacity="0.45" filter="url(#glw)"/><path d="M496.6 112.4L527.4 112.4L529.4 141.8L495.2 141.8Z" fill="#60c0b0" opacity="0.4" filter="url(#glw)"/><path d="M398.6 116.6L428 115.8L430.2 140.4L397.2 141.8Z" fill="url(#gpea)"/><path d="M398.6 116.6L428 115.8L430.2 140.4L397.2 141.8Z" fill="url(#gpeah)"/><path d="M447.6 113.8L477 113.8L477.8 143.2L445.4 143.2Z" fill="url(#gnma)"/><path d="M496.6 112.4L527.4 112.4L529.4 141.8L495.2 141.8Z" fill="url(#gmix)"/><text transform="translate(395.60,151.00) scale(0.93,1)" font-size="7.9" text-anchor="start" fill="#f2f2f2" style="font-family:'Liberation Sans',sans-serif">PEA<tspan font-size="4.6" dy="1.6">2</tspan><tspan dy="-1.6">PbBr</tspan><tspan font-size="4.6" dy="1.6">4</tspan></text><text transform="translate(443.40,151.00) scale(0.93,1)" font-size="7.9" text-anchor="start" fill="#f2f2f2" style="font-family:'Liberation Sans',sans-serif">NMA<tspan font-size="4.6" dy="1.6">2</tspan><tspan dy="-1.6">PbBr</tspan><tspan font-size="4.6" dy="1.6">4</tspan></text><text transform="translate(492.80,151.00) scale(0.93,1)" font-size="7.9" text-anchor="start" fill="#f2f2f2" style="font-family:'Liberation Sans',sans-serif">Mixed-cation</text>
<rect x="387.6" y="158.3" width="151.60000000000002" height="109.69999999999999" fill="#fff"/><clipPath id="cpc"><rect x="387.6" y="158.3" width="151.60000000000002" height="109.69999999999999"/></clipPath><g clip-path="url(#cpc)"><path d="M387.60 268.00L391.06 268.01L395.87 268.02L401.61 268.03L407.88 268.05L414.26 268.05L420.36 268.05L425.76 268.04L430.05 268.00L433.27 267.96L435.83 267.94L437.86 267.91L439.52 267.86L440.94 267.79L442.27 267.67L443.64 267.50L445.21 267.27L446.89 266.93L448.52 266.49L450.11 265.98L451.65 265.43L453.14 264.89L454.59 264.38L455.99 263.94L457.34 263.60L458.60 263.36L459.75 263.17L460.84 263.03L461.88 262.94L462.93 262.88L464.02 262.85L465.17 262.85L466.43 262.87L467.72 262.91L468.97 262.98L470.22 263.08L471.55 263.21L472.99 263.37L474.60 263.55L476.44 263.75L478.56 263.97L480.93 264.23L483.49 264.53L486.23 264.87L489.17 265.23L492.30 265.59L495.62 265.94L499.12 266.26L502.82 266.53L507.03 266.78L511.91 267.01L517.17 267.23L522.52 267.43L527.69 267.61L532.38 267.76L536.31 267.89L539.20 268.00" fill="none" stroke="#f4aaa2" stroke-width="1.3" stroke-linejoin="round"/><path d="M387.60 268.00L391.59 268.01L397.17 268.03L403.84 268.06L411.10 268.09L418.45 268.11L425.41 268.10L431.46 268.07L436.11 268.00L439.37 267.89L441.70 267.76L443.32 267.61L444.45 267.43L445.29 267.23L446.06 267.01L446.97 266.78L448.24 266.53L449.78 266.25L451.34 265.91L452.92 265.54L454.49 265.16L456.04 264.79L457.55 264.46L459.00 264.17L460.37 263.97L461.61 263.84L462.71 263.75L463.73 263.72L464.73 263.72L465.74 263.75L466.83 263.81L468.06 263.88L469.46 263.97L471.01 264.08L472.61 264.22L474.31 264.39L476.10 264.59L478.01 264.79L480.05 265.01L482.25 265.22L484.62 265.43L487.18 265.65L489.91 265.89L492.79 266.14L495.80 266.40L498.94 266.64L502.18 266.88L505.50 267.09L508.88 267.27L512.59 267.42L516.74 267.54L521.14 267.65L525.56 267.75L529.78 267.83L533.61 267.89L536.82 267.95L539.20 268.00" fill="none" stroke="#e66a6e" stroke-width="1.3" stroke-linejoin="round"/><path d="M387.60 268.00L390.53 267.99L394.56 267.99L399.38 267.99L404.66 267.98L410.07 267.95L415.31 267.89L420.06 267.79L423.98 267.63L427.15 267.45L429.88 267.24L432.27 267.01L434.41 266.74L436.38 266.42L438.27 266.04L440.17 265.60L442.18 265.07L444.24 264.40L446.25 263.58L448.22 262.66L450.13 261.70L452.01 260.75L453.83 259.85L455.61 259.08L457.34 258.47L458.98 258.01L460.51 257.64L461.97 257.35L463.40 257.14L464.83 257.01L466.29 256.94L467.82 256.94L469.46 257.00L471.15 257.15L472.83 257.38L474.53 257.69L476.29 258.06L478.14 258.48L480.12 258.95L482.27 259.44L484.62 259.94L487.18 260.49L489.91 261.12L492.79 261.80L495.80 262.50L498.94 263.21L502.18 263.89L505.50 264.52L508.88 265.07L512.59 265.56L516.74 266.02L521.14 266.46L525.56 266.85L529.78 267.21L533.61 267.52L536.82 267.79L539.20 268.00" fill="none" stroke="#f7c9a2" stroke-width="1.3" stroke-linejoin="round"/><path d="M387.60 268.00L389.47 267.96L391.96 267.94L394.92 267.91L398.21 267.86L401.69 267.79L405.22 267.67L408.66 267.50L411.86 267.27L414.93 266.98L418.06 266.66L421.22 266.30L424.36 265.89L427.46 265.43L430.47 264.90L433.37 264.29L436.11 263.60L438.72 262.76L441.23 261.76L443.64 260.64L445.97 259.48L448.19 258.33L450.32 257.25L452.36 256.30L454.30 255.54L456.09 254.94L457.69 254.44L459.16 254.03L460.56 253.71L461.93 253.48L463.33 253.34L464.81 253.29L466.43 253.34L468.10 253.49L469.72 253.77L471.36 254.14L473.06 254.60L474.89 255.13L476.88 255.72L479.10 256.35L481.59 257.00L484.40 257.74L487.49 258.59L490.80 259.52L494.29 260.49L497.89 261.45L501.56 262.38L505.24 263.23L508.88 263.97L512.73 264.61L516.96 265.20L521.36 265.75L525.75 266.24L529.92 266.67L533.68 267.05L536.84 267.37L539.20 267.63" fill="none" stroke="#a8d8a4" stroke-width="1.3" stroke-linejoin="round"/><path d="M387.60 268.00L388.41 267.90L389.35 267.77L390.46 267.62L391.77 267.45L393.31 267.26L395.13 267.04L397.26 266.80L399.73 266.53L402.71 266.29L406.24 266.08L410.17 265.86L414.32 265.62L418.54 265.30L422.68 264.88L426.57 264.33L430.05 263.60L433.20 262.62L436.21 261.37L439.07 259.95L441.80 258.45L444.38 256.95L446.82 255.54L449.12 254.30L451.27 253.34L453.20 252.61L454.87 252.02L456.35 251.56L457.72 251.21L459.03 250.97L460.37 250.82L461.80 250.76L463.40 250.77L465.05 250.87L466.62 251.06L468.20 251.34L469.84 251.71L471.63 252.18L473.63 252.72L475.92 253.36L478.56 254.07L481.62 254.94L485.07 255.99L488.82 257.16L492.77 258.39L496.84 259.64L500.94 260.84L504.99 261.94L508.88 262.87L512.88 263.67L517.17 264.41L521.58 265.08L525.94 265.69L530.05 266.23L533.75 266.70L536.86 267.09L539.20 267.41" fill="none" stroke="#5cc48e" stroke-width="1.3" stroke-linejoin="round"/><path d="M387.60 268.00L388.41 267.87L389.35 267.71L390.46 267.51L391.77 267.29L393.31 267.04L395.13 266.77L397.26 266.48L399.73 266.17L402.73 265.86L406.31 265.56L410.30 265.25L414.51 264.91L418.77 264.52L422.89 264.06L426.71 263.52L430.05 262.87L432.94 262.07L435.56 261.12L437.97 260.07L440.21 258.95L442.31 257.82L444.32 256.73L446.28 255.71L448.24 254.81L450.11 253.97L451.83 253.15L453.44 252.35L454.99 251.60L456.52 250.93L458.10 250.37L459.77 249.95L461.58 249.68L463.44 249.55L465.26 249.54L467.10 249.64L469.01 249.86L471.06 250.19L473.29 250.64L475.77 251.20L478.56 251.87L481.71 252.74L485.20 253.83L488.95 255.07L492.89 256.41L496.92 257.78L500.99 259.11L505.00 260.34L508.88 261.40L512.88 262.35L517.17 263.26L521.58 264.13L525.94 264.93L530.05 265.66L533.75 266.30L536.86 266.84L539.20 267.27" fill="none" stroke="#80cfa0" stroke-width="1.3" stroke-linejoin="round"/><path d="M387.60 268.00L388.17 267.71L388.94 267.31L389.85 266.84L390.86 266.31L391.92 265.77L392.97 265.24L393.98 264.76L394.88 264.33L395.62 263.97L396.22 263.61L396.76 263.28L397.30 262.97L397.92 262.68L398.69 262.42L399.67 262.19L400.94 261.99L402.53 261.83L404.39 261.72L406.46 261.65L408.67 261.60L410.98 261.56L413.33 261.52L415.66 261.47L417.92 261.40L420.16 261.36L422.45 261.37L424.79 261.40L427.13 261.41L429.46 261.38L431.75 261.27L433.97 261.04L436.11 260.67L438.19 260.12L440.26 259.41L442.29 258.58L444.26 257.67L446.16 256.72L447.98 255.78L449.69 254.89L451.27 254.07L452.68 253.28L453.90 252.43L454.99 251.58L456.01 250.75L457.00 250.00L458.02 249.36L459.13 248.87L460.37 248.58L461.70 248.48L463.04 248.54L464.43 248.74L465.86 249.06L467.37 249.48L468.97 249.98L470.67 250.54L472.50 251.14L474.44 251.84L476.48 252.66L478.61 253.59L480.83 254.58L483.16 255.59L485.57 256.60L488.08 257.57L490.69 258.47L493.43 259.33L496.33 260.19L499.34 261.04L502.44 261.87L505.58 262.67L508.74 263.42L511.87 264.10L514.94 264.70L518.14 265.23L521.58 265.69L525.11 266.10L528.59 266.45L531.88 266.75L534.84 267.01L537.33 267.23L539.20 267.41" fill="none" stroke="#27c3cc" stroke-width="1.5" stroke-linejoin="round"/><path d="M387.60 265.07L388.05 264.40L388.62 263.52L389.30 262.47L390.06 261.30L390.90 260.05L391.79 258.76L392.72 257.49L393.66 256.27L394.66 254.98L395.72 253.52L396.85 251.98L398.02 250.45L399.22 249.03L400.41 247.79L401.60 246.82L402.76 246.23L403.89 246.09L405.01 246.34L406.12 246.89L407.23 247.62L408.36 248.43L409.50 249.20L410.66 249.82L411.86 250.19L413.10 250.31L414.40 250.29L415.74 250.18L417.09 250.00L418.42 249.81L419.73 249.64L420.98 249.53L422.16 249.53L423.25 249.62L424.25 249.76L425.19 249.94L426.11 250.16L427.02 250.39L427.96 250.64L428.96 250.90L430.05 251.14L431.22 251.43L432.44 251.79L433.71 252.18L435.01 252.57L436.34 252.92L437.68 253.19L439.02 253.34L440.36 253.34L441.71 253.16L443.10 252.83L444.51 252.38L445.93 251.85L447.33 251.28L448.70 250.70L450.02 250.16L451.27 249.68L452.42 249.20L453.47 248.68L454.45 248.14L455.40 247.61L456.37 247.14L457.40 246.75L458.51 246.49L459.76 246.38L461.11 246.42L462.52 246.59L463.99 246.87L465.52 247.25L467.13 247.69L468.83 248.20L470.61 248.74L472.50 249.31L474.47 249.92L476.52 250.59L478.65 251.32L480.87 252.10L483.18 252.92L485.59 253.78L488.09 254.65L490.69 255.54L493.43 256.49L496.33 257.53L499.34 258.62L502.44 259.73L505.58 260.82L508.74 261.85L511.87 262.79L514.94 263.60L518.14 264.30L521.58 264.91L525.11 265.46L528.59 265.94L531.88 266.35L534.84 266.71L537.33 267.01L539.20 267.27" fill="none" stroke="#5a98a6" stroke-width="1.5" stroke-linejoin="round"/><path d="M387.60 265.80L388.08 264.60L388.72 263.06L389.48 261.22L390.33 259.16L391.21 256.91L392.09 254.55L392.92 252.12L393.66 249.68L394.34 247.03L395.00 244.03L395.65 240.83L396.28 237.58L396.88 234.42L397.46 231.50L398.00 228.96L398.52 226.95L398.98 225.46L399.39 224.32L399.76 223.51L400.11 222.97L400.45 222.65L400.79 222.50L401.15 222.49L401.55 222.55L401.97 222.78L402.41 223.23L402.87 223.87L403.33 224.66L403.79 225.55L404.26 226.51L404.73 227.47L405.19 228.42L405.64 229.40L406.11 230.51L406.58 231.68L407.04 232.88L407.50 234.08L407.96 235.23L408.40 236.29L408.82 237.21L409.24 238.03L409.64 238.79L410.03 239.49L410.42 240.12L410.79 240.69L411.15 241.19L411.51 241.62L411.86 241.98L412.18 242.26L412.49 242.47L412.78 242.62L413.07 242.69L413.35 242.70L413.65 242.64L413.95 242.52L414.28 242.34L414.63 242.08L415.00 241.72L415.37 241.28L415.76 240.79L416.15 240.26L416.54 239.72L416.93 239.18L417.31 238.68L417.70 238.17L418.09 237.63L418.48 237.07L418.87 236.50L419.25 235.96L419.63 235.46L420.00 235.01L420.35 234.65L420.67 234.34L420.98 234.07L421.27 233.84L421.56 233.66L421.84 233.54L422.14 233.47L422.44 233.47L422.77 233.55L423.11 233.70L423.46 233.91L423.81 234.19L424.17 234.53L424.55 234.94L424.95 235.40L425.36 235.91L425.80 236.48L426.26 237.14L426.74 237.90L427.23 238.74L427.74 239.62L428.27 240.53L428.83 241.43L429.42 242.28L430.05 243.08L430.70 243.84L431.37 244.60L432.06 245.35L432.78 246.08L433.54 246.78L434.34 247.42L435.20 248.00L436.11 248.50L437.09 248.92L438.13 249.27L439.22 249.56L440.36 249.79L441.53 249.98L442.74 250.14L443.96 250.28L445.21 250.41L446.49 250.49L447.82 250.49L449.19 250.45L450.59 250.39L451.99 250.33L453.39 250.31L454.78 250.35L456.12 250.48L457.43 250.69L458.70 250.96L459.95 251.28L461.20 251.64L462.46 252.03L463.74 252.45L465.06 252.89L466.43 253.34L467.78 253.81L469.05 254.30L470.31 254.81L471.62 255.35L473.04 255.91L474.63 256.50L476.45 257.11L478.56 257.74L480.93 258.41L483.49 259.15L486.23 259.92L489.17 260.71L492.30 261.49L495.62 262.25L499.12 262.96L502.82 263.60L507.03 264.20L511.91 264.79L517.17 265.35L522.52 265.87L527.69 266.35L532.38 266.78L536.31 267.13L539.20 267.41" fill="none" stroke="#6e6e6e" stroke-width="1.6" stroke-linejoin="round"/><path d="M387.60 261.04L387.98 258.23L388.49 254.55L389.09 250.17L389.76 245.28L390.46 240.04L391.17 234.63L391.84 229.23L392.45 224.02L393.00 218.69L393.53 212.93L394.03 206.95L394.54 200.91L395.04 195.02L395.56 189.45L396.11 184.40L396.70 180.04L397.33 176.22L398.00 172.70L398.71 169.53L399.42 166.76L400.14 164.46L400.85 162.68L401.52 161.47L402.15 160.91L402.75 161.16L403.33 162.26L403.89 164.02L404.43 166.26L404.95 168.79L405.45 171.45L405.93 174.03L406.40 176.38L406.84 178.64L407.26 181.06L407.65 183.58L408.03 186.14L408.39 188.67L408.74 191.10L409.09 193.38L409.43 195.43L409.76 197.31L410.08 199.09L410.38 200.75L410.68 202.30L410.97 203.73L411.26 205.02L411.56 206.17L411.86 207.16L412.16 207.99L412.46 208.65L412.77 209.16L413.07 209.54L413.37 209.81L413.68 209.98L413.98 210.07L414.28 210.09L414.58 210.04L414.87 209.89L415.16 209.65L415.46 209.31L415.75 208.89L416.06 208.39L416.37 207.81L416.71 207.16L417.06 206.38L417.42 205.43L417.80 204.37L418.19 203.24L418.58 202.11L418.97 201.00L419.36 199.98L419.74 199.10L420.12 198.27L420.50 197.43L420.88 196.62L421.26 195.87L421.63 195.22L422.01 194.73L422.39 194.42L422.77 194.33L423.14 194.47L423.50 194.79L423.85 195.27L424.21 195.91L424.58 196.70L424.96 197.62L425.37 198.67L425.80 199.83L426.28 201.20L426.78 202.81L427.31 204.61L427.85 206.51L428.40 208.45L428.96 210.35L429.51 212.15L430.05 213.76L430.57 215.20L431.07 216.55L431.56 217.82L432.06 219.04L432.57 220.22L433.10 221.40L433.68 222.58L434.29 223.80L434.95 225.09L435.64 226.46L436.35 227.85L437.10 229.23L437.87 230.54L438.67 231.74L439.50 232.78L440.36 233.62L441.26 234.24L442.20 234.66L443.18 234.93L444.18 235.09L445.20 235.18L446.23 235.23L447.24 235.28L448.24 235.38L449.17 235.45L450.01 235.41L450.82 235.31L451.65 235.22L452.55 235.16L453.56 235.20L454.73 235.38L456.12 235.75L457.79 236.34L459.72 237.11L461.83 238.02L464.04 239.02L466.29 240.08L468.50 241.13L470.59 242.15L472.50 243.08L474.09 243.90L475.40 244.64L476.56 245.35L477.69 246.06L478.93 246.80L480.41 247.63L482.27 248.57L484.62 249.68L487.58 251.01L491.07 252.58L494.93 254.29L499.03 256.07L503.22 257.82L507.36 259.48L511.32 260.94L514.94 262.14L518.43 263.07L522.00 263.83L525.55 264.44L528.97 264.93L532.15 265.32L534.98 265.64L537.37 265.91L539.20 266.17" fill="none" stroke="#a48ccc" stroke-width="1.5" stroke-linejoin="round"/><path d="M387.60 258.47L388.08 256.70L388.72 254.39L389.48 251.65L390.33 248.58L391.21 245.27L392.09 241.84L392.92 238.39L393.66 235.01L394.33 231.49L394.98 227.63L395.60 223.57L396.20 219.48L396.79 215.49L397.37 211.76L397.95 208.45L398.52 205.69L399.07 203.45L399.60 201.56L400.12 199.99L400.64 198.72L401.15 197.74L401.67 197.03L402.20 196.56L402.76 196.31L403.33 196.41L403.92 196.91L404.51 197.74L405.11 198.79L405.72 199.98L406.34 201.22L406.97 202.42L407.61 203.50L408.27 204.55L408.95 205.70L409.64 206.92L410.34 208.13L411.04 209.30L411.73 210.37L412.41 211.28L413.07 212.00L413.71 212.49L414.34 212.80L414.96 212.97L415.57 213.03L416.17 213.03L416.76 213.01L417.35 212.99L417.92 213.03L418.48 213.05L419.01 213.01L419.53 212.93L420.04 212.85L420.56 212.80L421.08 212.82L421.61 212.93L422.16 213.17L422.73 213.53L423.28 213.97L423.83 214.49L424.40 215.08L424.99 215.74L425.62 216.48L426.29 217.28L427.02 218.16L427.82 219.15L428.69 220.28L429.62 221.50L430.58 222.79L431.55 224.09L432.50 225.37L433.42 226.58L434.29 227.69L435.08 228.75L435.81 229.85L436.50 230.93L437.17 231.96L437.87 232.90L438.61 233.71L439.43 234.36L440.36 234.80L441.39 234.95L442.51 234.82L443.70 234.50L444.94 234.07L446.22 233.60L447.51 233.18L448.79 232.89L450.06 232.82L451.31 232.92L452.55 233.10L453.80 233.36L455.06 233.70L456.34 234.11L457.65 234.59L458.99 235.14L460.37 235.75L461.80 236.46L463.27 237.30L464.78 238.22L466.32 239.21L467.87 240.22L469.42 241.22L470.97 242.18L472.50 243.08L473.97 243.89L475.39 244.66L476.78 245.40L478.18 246.12L479.63 246.86L481.17 247.62L482.82 248.43L484.62 249.31L486.61 250.28L488.75 251.33L491.00 252.44L493.34 253.57L495.73 254.70L498.13 255.79L500.50 256.81L502.82 257.74L505.09 258.58L507.36 259.38L509.64 260.13L511.91 260.83L514.19 261.49L516.46 262.11L518.73 262.69L521.01 263.24L523.41 263.74L525.98 264.22L528.63 264.65L531.24 265.05L533.71 265.40L535.93 265.70L537.80 265.96L539.20 266.17" fill="none" stroke="#3a8fd0" stroke-width="1.7" stroke-linejoin="round"/></g><rect x="387.6" y="158.3" width="151.60000000000002" height="109.69999999999999" fill="none" stroke="#111" stroke-width="1.2"/><line x1="387.60" x2="387.60" y1="268.0" y2="272.6" stroke="#111" stroke-width="1.1"/><text transform="translate(387.60,283.20) scale(0.86,1)" font-size="9.2" text-anchor="middle" fill="#111" font-weight="bold" style="font-family:'Liberation Sans',sans-serif">450</text><line x1="402.76" x2="402.76" y1="268.0" y2="271.0" stroke="#111" stroke-width="1.1"/><line x1="417.92" x2="417.92" y1="268.0" y2="272.6" stroke="#111" stroke-width="1.1"/><text transform="translate(417.92,283.20) scale(0.86,1)" font-size="9.2" text-anchor="middle" fill="#111" font-weight="bold" style="font-family:'Liberation Sans',sans-serif">500</text><line x1="433.08" x2="433.08" y1="268.0" y2="271.0" stroke="#111" stroke-width="1.1"/><line x1="448.24" x2="448.24" y1="268.0" y2="272.6" stroke="#111" stroke-width="1.1"/><text transform="translate(448.24,283.20) scale(0.86,1)" font-size="9.2" text-anchor="middle" fill="#111" font-weight="bold" style="font-family:'Liberation Sans',sans-serif">550</text><line x1="463.40" x2="463.40" y1="268.0" y2="271.0" stroke="#111" stroke-width="1.1"/><line x1="478.56" x2="478.56" y1="268.0" y2="272.6" stroke="#111" stroke-width="1.1"/><text transform="translate(478.56,283.20) scale(0.86,1)" font-size="9.2" text-anchor="middle" fill="#111" font-weight="bold" style="font-family:'Liberation Sans',sans-serif">600</text><line x1="493.72" x2="493.72" y1="268.0" y2="271.0" stroke="#111" stroke-width="1.1"/><line x1="508.88" x2="508.88" y1="268.0" y2="272.6" stroke="#111" stroke-width="1.1"/><text transform="translate(508.88,283.20) scale(0.86,1)" font-size="9.2" text-anchor="middle" fill="#111" font-weight="bold" style="font-family:'Liberation Sans',sans-serif">650</text><line x1="524.04" x2="524.04" y1="268.0" y2="271.0" stroke="#111" stroke-width="1.1"/><line x1="539.20" x2="539.20" y1="268.0" y2="272.6" stroke="#111" stroke-width="1.1"/><text transform="translate(539.20,283.20) scale(0.86,1)" font-size="9.2" text-anchor="middle" fill="#111" font-weight="bold" style="font-family:'Liberation Sans',sans-serif">700</text><line x1="383.00" x2="387.6" y1="268.00" y2="268.00" stroke="#111" stroke-width="1.1"/><text transform="translate(381.00,271.20) scale(0.86,1)" font-size="9.2" text-anchor="end" fill="#111" font-weight="bold" style="font-family:'Liberation Sans',sans-serif">0</text><line x1="384.60" x2="387.6" y1="253.34" y2="253.34" stroke="#111" stroke-width="1.1"/><line x1="383.00" x2="387.6" y1="238.68" y2="238.68" stroke="#111" stroke-width="1.1"/><text transform="translate(381.00,241.88) scale(0.86,1)" font-size="9.2" text-anchor="end" fill="#111" font-weight="bold" style="font-family:'Liberation Sans',sans-serif">400</text><line x1="384.60" x2="387.6" y1="224.02" y2="224.02" stroke="#111" stroke-width="1.1"/><line x1="383.00" x2="387.6" y1="209.36" y2="209.36" stroke="#111" stroke-width="1.1"/><text transform="translate(381.00,212.56) scale(0.86,1)" font-size="9.2" text-anchor="end" fill="#111" font-weight="bold" style="font-family:'Liberation Sans',sans-serif">800</text><line x1="384.60" x2="387.6" y1="194.70" y2="194.70" stroke="#111" stroke-width="1.1"/><line x1="383.00" x2="387.6" y1="180.04" y2="180.04" stroke="#111" stroke-width="1.1"/><text transform="translate(381.00,183.24) scale(0.86,1)" font-size="9.2" text-anchor="end" fill="#111" font-weight="bold" style="font-family:'Liberation Sans',sans-serif">1200</text><line x1="384.60" x2="387.6" y1="165.38" y2="165.38" stroke="#111" stroke-width="1.1"/><text transform="translate(467.40,294.30) scale(0.905,1)" font-size="9.2" text-anchor="middle" fill="#111" font-weight="bold" style="font-family:'Liberation Sans',sans-serif">Wavelength (nm)</text><text transform="translate(358.80,217.00) rotate(-90) scale(0.93,1)" font-size="8.8" text-anchor="middle" fill="#111" font-weight="bold" style="font-family:'Liberation Sans',sans-serif">Intensity (a.u.)</text><text transform="translate(471.60,177.20) scale(0.965,1)" font-size="8.7" text-anchor="start" fill="#111" font-weight="bold" style="font-family:'Liberation Sans',sans-serif">Delay 0.2 ms</text>
</svg>
</body></html>
